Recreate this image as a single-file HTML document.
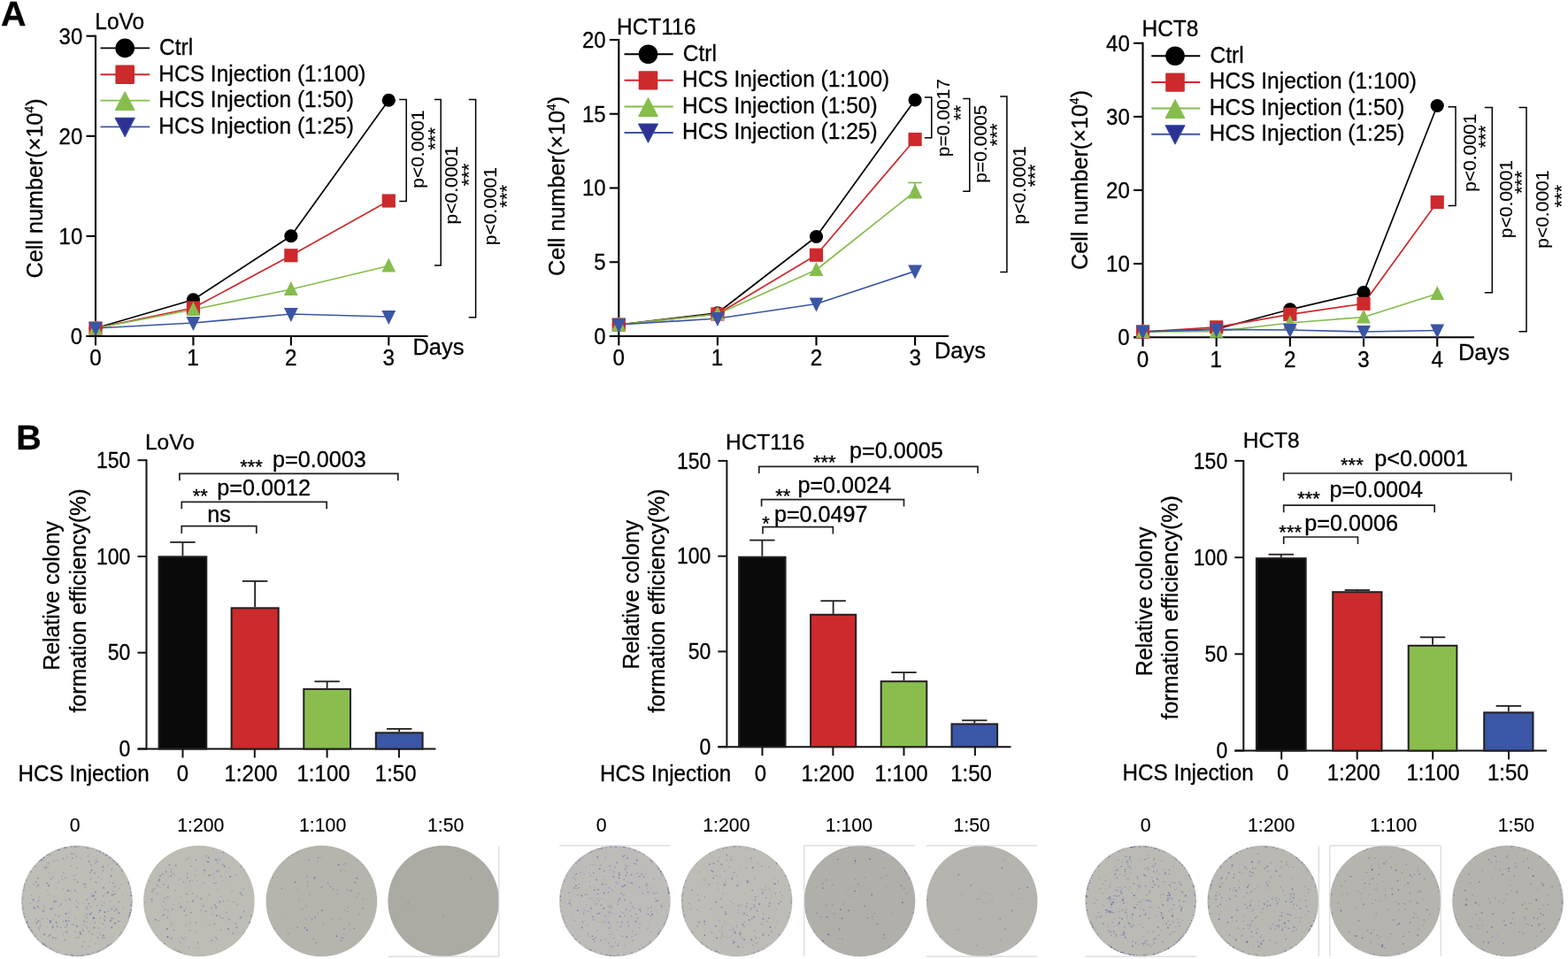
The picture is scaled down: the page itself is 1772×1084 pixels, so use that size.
<!DOCTYPE html>
<html><head><meta charset="utf-8"><title>Figure</title>
<style>html,body{margin:0;padding:0;background:#fff;} svg{display:block;} text{font-family:"Liberation Sans",Arial,sans-serif;stroke:#000;stroke-width:0.3px;}</style>
</head><body>
<svg width="1772" height="1084" viewBox="0 0 1772 1084">
<rect width="1772" height="1084" fill="#fff"/>
<text x="1.02" y="29.25" font-size="39.5" font-weight="bold" fill="#000">A</text>
<text x="18.36" y="508" font-size="39.5" font-weight="bold" fill="#000">B</text>
<line x1="108" y1="39.7" x2="108" y2="381" stroke="#000" stroke-width="2.1"/>
<line x1="97.5" y1="380" x2="483.5" y2="380" stroke="#000" stroke-width="2.1"/>
<line x1="97.5" y1="380" x2="108" y2="380" stroke="#000" stroke-width="2.1"/>
<text transform="translate(79.87,388.9) scale(0.94,1)" font-size="25.5" fill="#000">0</text>
<line x1="97.5" y1="266.9" x2="108" y2="266.9" stroke="#000" stroke-width="2.1"/>
<text transform="translate(66.61,275.8) scale(0.94,1)" font-size="25.5" fill="#000">10</text>
<line x1="97.5" y1="153.8" x2="108" y2="153.8" stroke="#000" stroke-width="2.1"/>
<text transform="translate(66.61,162.7) scale(0.94,1)" font-size="25.5" fill="#000">20</text>
<line x1="97.5" y1="40.7" x2="108" y2="40.7" stroke="#000" stroke-width="2.1"/>
<text transform="translate(66.61,49.6) scale(0.94,1)" font-size="25.5" fill="#000">30</text>
<line x1="108" y1="380" x2="108" y2="390.5" stroke="#000" stroke-width="2.1"/>
<text transform="translate(101.26,413.3) scale(0.95,1)" font-size="25.5" fill="#000">0</text>
<line x1="218.43" y1="380" x2="218.43" y2="390.5" stroke="#000" stroke-width="2.1"/>
<text transform="translate(211.36,413.3) scale(0.95,1)" font-size="25.5" fill="#000">1</text>
<line x1="328.86" y1="380" x2="328.86" y2="390.5" stroke="#000" stroke-width="2.1"/>
<text transform="translate(322.12,413.3) scale(0.95,1)" font-size="25.5" fill="#000">2</text>
<line x1="439.29" y1="380" x2="439.29" y2="390.5" stroke="#000" stroke-width="2.1"/>
<text transform="translate(432.62,413.3) scale(0.95,1)" font-size="25.5" fill="#000">3</text>
<text x="466.41" y="401.2" font-size="25.5" fill="#000">Days</text>
<text transform="translate(107.29,32.8) scale(0.96,1)" font-size="25.5" fill="#000">LoVo</text>
<text transform="translate(48.2,314.49) rotate(-90)" font-size="25.2">Cell number(×10<tspan font-size="13.86" dy="-10.58">4</tspan><tspan dy="10.58">)</tspan></text>
<line x1="113.5" y1="54.4" x2="169.2" y2="54.4" stroke="#000" stroke-width="1.9"/>
<circle cx="141.2" cy="54.4" r="10.8" fill="#000"/>
<text transform="translate(180.06,61.7) scale(0.98,1)" font-size="25" fill="#000">Ctrl</text>
<line x1="113.5" y1="84.2" x2="169.2" y2="84.2" stroke="#cc2a2c" stroke-width="1.9"/>
<rect x="130.4" y="73.6" width="21.6" height="21.4" rx="1.2" fill="#cc2a2c"/>
<text transform="translate(179.29,91.5) scale(0.98,1)" font-size="25" fill="#000">HCS Injection (1:100)</text>
<line x1="113.5" y1="113.6" x2="169.2" y2="113.6" stroke="#86bd4c" stroke-width="1.9"/>
<polygon points="141.2,103.6 152.1,124.6 130.3,124.6" fill="#86bd4c" stroke="#86bd4c" stroke-width="1" stroke-linejoin="round"/>
<text transform="translate(179.29,120.9) scale(0.98,1)" font-size="25" fill="#000">HCS Injection (1:50)</text>
<line x1="113.5" y1="143.4" x2="169.2" y2="143.4" stroke="#3a55a5" stroke-width="1.9"/>
<polygon points="141.2,154.4 152.1,133.4 130.3,133.4" fill="#2e3192" stroke="#2f4aa5" stroke-width="1.2" stroke-linejoin="round"/>
<text transform="translate(179.29,150.7) scale(0.98,1)" font-size="25" fill="#000">HCS Injection (1:25)</text>
<polyline points="108,371 218.43,338.8 328.86,266.75 439.29,113.25" fill="none" stroke="#000" stroke-width="1.7" stroke-linejoin="round"/>
<polyline points="108,371 218.43,348 328.86,288.75 439.29,227" fill="none" stroke="#cc2a2c" stroke-width="1.7" stroke-linejoin="round"/>
<polyline points="108,371 218.43,350 328.86,327 439.29,300.5" fill="none" stroke="#86bd4c" stroke-width="1.7" stroke-linejoin="round"/>
<polyline points="108,371 218.43,365 328.86,355 439.29,358" fill="none" stroke="#3a55a5" stroke-width="1.7" stroke-linejoin="round"/>
<circle cx="108" cy="371" r="7.6" fill="#000"/>
<circle cx="218.43" cy="338.8" r="7.6" fill="#000"/>
<circle cx="328.86" cy="266.75" r="7.6" fill="#000"/>
<circle cx="439.29" cy="113.25" r="7.6" fill="#000"/>
<rect x="100.4" y="363.4" width="15.2" height="15.2" fill="#cc2a2c"/>
<rect x="210.83" y="340.4" width="15.2" height="15.2" fill="#cc2a2c"/>
<rect x="321.26" y="281.15" width="15.2" height="15.2" fill="#cc2a2c"/>
<rect x="431.69" y="219.4" width="15.2" height="15.2" fill="#cc2a2c"/>
<polygon points="108,362 115.9,378 100.1,378" fill="#86bd4c"/>
<polygon points="218.43,341 226.33,357 210.53,357" fill="#86bd4c"/>
<polygon points="328.86,318 336.76,334 320.96,334" fill="#86bd4c"/>
<polygon points="439.29,291.5 447.19,307.5 431.39,307.5" fill="#86bd4c"/>
<polygon points="108,380 115.9,364 100.1,364" fill="#3a55a5"/>
<polygon points="218.43,374 226.33,358 210.53,358" fill="#3a55a5"/>
<polygon points="328.86,364 336.76,348 320.96,348" fill="#3a55a5"/>
<polygon points="439.29,367 447.19,351 431.39,351" fill="#3a55a5"/>
<polyline points="451.2,112.4 459.2,112.4 459.2,227.4 451.2,227.4" fill="none" stroke="#000" stroke-width="1.5"/>
<text transform="translate(478.7,212.75) rotate(-90)" font-size="21" style="stroke-width:0.1px">p&lt;0.0001</text>
<text transform="translate(498.78,169.55) rotate(-90)" font-size="22" style="stroke-width:0.1px">***</text>
<polyline points="491,112.4 498.2,112.4 498.2,299.9 491,299.9" fill="none" stroke="#000" stroke-width="1.5"/>
<text transform="translate(517,253.45) rotate(-90)" font-size="21" style="stroke-width:0.1px">p&lt;0.0001</text>
<text transform="translate(536.68,210.35) rotate(-90)" font-size="22" style="stroke-width:0.1px">***</text>
<polyline points="529.75,112.4 537.6,112.4 537.6,358.75 529.75,358.75" fill="none" stroke="#000" stroke-width="1.5"/>
<text transform="translate(560.9,277.25) rotate(-90)" font-size="21" style="stroke-width:0.1px">p&lt;0.0001</text>
<text transform="translate(579.98,234.65) rotate(-90)" font-size="22" style="stroke-width:0.1px">***</text>
<line x1="699.3" y1="44" x2="699.3" y2="381" stroke="#000" stroke-width="2.1"/>
<line x1="688.8" y1="380" x2="1072" y2="380" stroke="#000" stroke-width="2.1"/>
<line x1="688.8" y1="380" x2="699.3" y2="380" stroke="#000" stroke-width="2.1"/>
<text transform="translate(671.17,388.9) scale(0.94,1)" font-size="25.5" fill="#000">0</text>
<line x1="688.8" y1="296.25" x2="699.3" y2="296.25" stroke="#000" stroke-width="2.1"/>
<text transform="translate(671.24,305.15) scale(0.94,1)" font-size="25.5" fill="#000">5</text>
<line x1="688.8" y1="212.5" x2="699.3" y2="212.5" stroke="#000" stroke-width="2.1"/>
<text transform="translate(657.91,221.4) scale(0.94,1)" font-size="25.5" fill="#000">10</text>
<line x1="688.8" y1="128.75" x2="699.3" y2="128.75" stroke="#000" stroke-width="2.1"/>
<text transform="translate(657.98,137.65) scale(0.94,1)" font-size="25.5" fill="#000">15</text>
<line x1="688.8" y1="45" x2="699.3" y2="45" stroke="#000" stroke-width="2.1"/>
<text transform="translate(657.91,53.9) scale(0.94,1)" font-size="25.5" fill="#000">20</text>
<line x1="699.3" y1="380" x2="699.3" y2="390.5" stroke="#000" stroke-width="2.1"/>
<text transform="translate(692.56,413.3) scale(0.95,1)" font-size="25.5" fill="#000">0</text>
<line x1="810.9" y1="380" x2="810.9" y2="390.5" stroke="#000" stroke-width="2.1"/>
<text transform="translate(803.83,413.3) scale(0.95,1)" font-size="25.5" fill="#000">1</text>
<line x1="922.5" y1="380" x2="922.5" y2="390.5" stroke="#000" stroke-width="2.1"/>
<text transform="translate(915.76,413.3) scale(0.95,1)" font-size="25.5" fill="#000">2</text>
<line x1="1034.1" y1="380" x2="1034.1" y2="390.5" stroke="#000" stroke-width="2.1"/>
<text transform="translate(1027.43,413.3) scale(0.95,1)" font-size="25.5" fill="#000">3</text>
<text x="1055.91" y="405" font-size="25.5" fill="#000">Days</text>
<text transform="translate(696.99,38.7) scale(0.96,1)" font-size="25.5" fill="#000">HCT116</text>
<text transform="translate(638.3,311.99) rotate(-90)" font-size="25.2">Cell number(×10<tspan font-size="13.86" dy="-10.58">4</tspan><tspan dy="10.58">)</tspan></text>
<line x1="705.5" y1="61.25" x2="760.75" y2="61.25" stroke="#000" stroke-width="1.9"/>
<circle cx="732.5" cy="61.25" r="10.8" fill="#000"/>
<text transform="translate(771.76,68.55) scale(0.98,1)" font-size="25" fill="#000">Ctrl</text>
<line x1="705.5" y1="90.75" x2="760.75" y2="90.75" stroke="#cc2a2c" stroke-width="1.9"/>
<rect x="721.7" y="80.15" width="21.6" height="21.4" rx="1.2" fill="#cc2a2c"/>
<text transform="translate(770.99,98.05) scale(0.98,1)" font-size="25" fill="#000">HCS Injection (1:100)</text>
<line x1="705.5" y1="120.5" x2="760.75" y2="120.5" stroke="#86bd4c" stroke-width="1.9"/>
<polygon points="732.5,110.5 743.4,131.5 721.6,131.5" fill="#86bd4c" stroke="#86bd4c" stroke-width="1" stroke-linejoin="round"/>
<text transform="translate(770.99,127.8) scale(0.98,1)" font-size="25" fill="#000">HCS Injection (1:50)</text>
<line x1="705.5" y1="150" x2="760.75" y2="150" stroke="#3a55a5" stroke-width="1.9"/>
<polygon points="732.5,161 743.4,140 721.6,140" fill="#2e3192" stroke="#2f4aa5" stroke-width="1.2" stroke-linejoin="round"/>
<text transform="translate(770.99,157.3) scale(0.98,1)" font-size="25" fill="#000">HCS Injection (1:25)</text>
<polyline points="699.3,367 810.9,353.75 922.5,267.5 1034.1,113" fill="none" stroke="#000" stroke-width="1.7" stroke-linejoin="round"/>
<polyline points="699.3,367 810.9,355 922.5,288.25 1034.1,157.5" fill="none" stroke="#cc2a2c" stroke-width="1.7" stroke-linejoin="round"/>
<polyline points="699.3,367 810.9,355 922.5,305 1034.1,216.5" fill="none" stroke="#86bd4c" stroke-width="1.7" stroke-linejoin="round"/>
<polyline points="699.3,367 810.9,360 922.5,343.5 1034.1,306.5" fill="none" stroke="#3a55a5" stroke-width="1.7" stroke-linejoin="round"/>
<circle cx="699.3" cy="367" r="7.6" fill="#000"/>
<circle cx="810.9" cy="353.75" r="7.6" fill="#000"/>
<circle cx="922.5" cy="267.5" r="7.6" fill="#000"/>
<circle cx="1034.1" cy="113" r="7.6" fill="#000"/>
<rect x="691.7" y="359.4" width="15.2" height="15.2" fill="#cc2a2c"/>
<rect x="803.3" y="347.4" width="15.2" height="15.2" fill="#cc2a2c"/>
<rect x="914.9" y="280.65" width="15.2" height="15.2" fill="#cc2a2c"/>
<rect x="1026.5" y="149.9" width="15.2" height="15.2" fill="#cc2a2c"/>
<polygon points="699.3,358 707.2,374 691.4,374" fill="#86bd4c"/>
<polygon points="810.9,346 818.8,362 803,362" fill="#86bd4c"/>
<polygon points="922.5,296 930.4,312 914.6,312" fill="#86bd4c"/>
<polygon points="1034.1,207.5 1042,223.5 1026.2,223.5" fill="#86bd4c"/>
<polygon points="699.3,376 707.2,360 691.4,360" fill="#3a55a5"/>
<polygon points="810.9,369 818.8,353 803,353" fill="#3a55a5"/>
<polygon points="922.5,352.5 930.4,336.5 914.6,336.5" fill="#3a55a5"/>
<polygon points="1034.1,315.5 1042,299.5 1026.2,299.5" fill="#3a55a5"/>
<line x1="1034" y1="216.5" x2="1034" y2="206.5" stroke="#86bd4c" stroke-width="1.7"/>
<line x1="1026.2" y1="206.5" x2="1041.8" y2="206.5" stroke="#86bd4c" stroke-width="1.7"/>
<line x1="1034" y1="216.5" x2="1034" y2="223.6" stroke="#86bd4c" stroke-width="1.7"/>
<line x1="1026.2" y1="223.6" x2="1041.8" y2="223.6" stroke="#86bd4c" stroke-width="1.7"/>
<polyline points="1044.9,109.9 1052.8,109.9 1052.8,155.7 1044.9,155.7" fill="none" stroke="#000" stroke-width="1.5"/>
<text transform="translate(1073.2,177.24) rotate(-90)" font-size="21" style="stroke-width:0.1px">p=0.0017</text>
<text transform="translate(1092.88,136.07) rotate(-90)" font-size="22" style="stroke-width:0.1px">**</text>
<polyline points="1088.2,111.4 1095.8,111.4 1095.8,216.2 1088.2,216.2" fill="none" stroke="#000" stroke-width="1.5"/>
<text transform="translate(1115.2,206.72) rotate(-90)" font-size="21" style="stroke-width:0.1px">p=0.0005</text>
<text transform="translate(1133.78,165.15) rotate(-90)" font-size="22" style="stroke-width:0.1px">***</text>
<polyline points="1130.2,109.1 1137.9,109.1 1137.9,307.5 1130.2,307.5" fill="none" stroke="#000" stroke-width="1.5"/>
<text transform="translate(1158.6,253.45) rotate(-90)" font-size="21" style="stroke-width:0.1px">p&lt;0.0001</text>
<text transform="translate(1177.18,211.35) rotate(-90)" font-size="22" style="stroke-width:0.1px">***</text>
<line x1="1291.5" y1="47.8" x2="1291.5" y2="382.2" stroke="#000" stroke-width="2.1"/>
<line x1="1281" y1="381.2" x2="1666" y2="381.2" stroke="#000" stroke-width="2.1"/>
<line x1="1281" y1="381.2" x2="1291.5" y2="381.2" stroke="#000" stroke-width="2.1"/>
<text transform="translate(1263.37,390.1) scale(0.94,1)" font-size="25.5" fill="#000">0</text>
<line x1="1281" y1="298.1" x2="1291.5" y2="298.1" stroke="#000" stroke-width="2.1"/>
<text transform="translate(1250.11,307) scale(0.94,1)" font-size="25.5" fill="#000">10</text>
<line x1="1281" y1="215" x2="1291.5" y2="215" stroke="#000" stroke-width="2.1"/>
<text transform="translate(1250.11,223.9) scale(0.94,1)" font-size="25.5" fill="#000">20</text>
<line x1="1281" y1="131.9" x2="1291.5" y2="131.9" stroke="#000" stroke-width="2.1"/>
<text transform="translate(1250.11,140.8) scale(0.94,1)" font-size="25.5" fill="#000">30</text>
<line x1="1281" y1="48.8" x2="1291.5" y2="48.8" stroke="#000" stroke-width="2.1"/>
<text transform="translate(1250.11,57.7) scale(0.94,1)" font-size="25.5" fill="#000">40</text>
<line x1="1291.5" y1="381.2" x2="1291.5" y2="391.7" stroke="#000" stroke-width="2.1"/>
<text transform="translate(1284.76,414.5) scale(0.95,1)" font-size="25.5" fill="#000">0</text>
<line x1="1374.68" y1="381.2" x2="1374.68" y2="391.7" stroke="#000" stroke-width="2.1"/>
<text transform="translate(1367.61,414.5) scale(0.95,1)" font-size="25.5" fill="#000">1</text>
<line x1="1457.86" y1="381.2" x2="1457.86" y2="391.7" stroke="#000" stroke-width="2.1"/>
<text transform="translate(1451.12,414.5) scale(0.95,1)" font-size="25.5" fill="#000">2</text>
<line x1="1541.04" y1="381.2" x2="1541.04" y2="391.7" stroke="#000" stroke-width="2.1"/>
<text transform="translate(1534.37,414.5) scale(0.95,1)" font-size="25.5" fill="#000">3</text>
<line x1="1624.22" y1="381.2" x2="1624.22" y2="391.7" stroke="#000" stroke-width="2.1"/>
<text transform="translate(1617.56,414.5) scale(0.95,1)" font-size="25.5" fill="#000">4</text>
<text x="1647.91" y="406.75" font-size="25.5" fill="#000">Days</text>
<text transform="translate(1290.49,41.25) scale(0.96,1)" font-size="25.5" fill="#000">HCT8</text>
<text transform="translate(1229.3,304.99) rotate(-90)" font-size="25.2">Cell number(×10<tspan font-size="13.86" dy="-10.58">4</tspan><tspan dy="10.58">)</tspan></text>
<line x1="1301.25" y1="63.25" x2="1356.25" y2="63.25" stroke="#000" stroke-width="1.9"/>
<circle cx="1328" cy="63.25" r="10.8" fill="#000"/>
<text transform="translate(1367.51,70.55) scale(0.98,1)" font-size="25" fill="#000">Ctrl</text>
<line x1="1301.25" y1="93" x2="1356.25" y2="93" stroke="#cc2a2c" stroke-width="1.9"/>
<rect x="1317.2" y="82.4" width="21.6" height="21.4" rx="1.2" fill="#cc2a2c"/>
<text transform="translate(1366.74,100.3) scale(0.98,1)" font-size="25" fill="#000">HCS Injection (1:100)</text>
<line x1="1301.25" y1="122.5" x2="1356.25" y2="122.5" stroke="#86bd4c" stroke-width="1.9"/>
<polygon points="1328,112.5 1338.9,133.5 1317.1,133.5" fill="#86bd4c" stroke="#86bd4c" stroke-width="1" stroke-linejoin="round"/>
<text transform="translate(1366.74,129.8) scale(0.98,1)" font-size="25" fill="#000">HCS Injection (1:50)</text>
<line x1="1301.25" y1="151.75" x2="1356.25" y2="151.75" stroke="#3a55a5" stroke-width="1.9"/>
<polygon points="1328,162.75 1338.9,141.75 1317.1,141.75" fill="#2e3192" stroke="#2f4aa5" stroke-width="1.2" stroke-linejoin="round"/>
<text transform="translate(1366.74,159.05) scale(0.98,1)" font-size="25" fill="#000">HCS Injection (1:25)</text>
<polyline points="1291.5,375 1374.68,372 1457.86,349.8 1541.04,330.5 1624.22,119.5" fill="none" stroke="#000" stroke-width="1.7" stroke-linejoin="round"/>
<polyline points="1291.5,375 1374.68,369.8 1457.86,355.3 1541.04,343.3 1624.22,228.5" fill="none" stroke="#cc2a2c" stroke-width="1.7" stroke-linejoin="round"/>
<polyline points="1291.5,375 1374.68,374.7 1457.86,365 1541.04,358.5 1624.22,332" fill="none" stroke="#86bd4c" stroke-width="1.7" stroke-linejoin="round"/>
<polyline points="1291.5,374.8 1374.68,372.4 1457.86,373 1541.04,375 1624.22,373.5" fill="none" stroke="#3a55a5" stroke-width="1.7" stroke-linejoin="round"/>
<circle cx="1291.5" cy="375" r="7.6" fill="#000"/>
<circle cx="1374.68" cy="372" r="7.6" fill="#000"/>
<circle cx="1457.86" cy="349.8" r="7.6" fill="#000"/>
<circle cx="1541.04" cy="330.5" r="7.6" fill="#000"/>
<circle cx="1624.22" cy="119.5" r="7.6" fill="#000"/>
<rect x="1283.9" y="367.4" width="15.2" height="15.2" fill="#cc2a2c"/>
<rect x="1367.08" y="362.2" width="15.2" height="15.2" fill="#cc2a2c"/>
<rect x="1450.26" y="347.7" width="15.2" height="15.2" fill="#cc2a2c"/>
<rect x="1533.44" y="335.7" width="15.2" height="15.2" fill="#cc2a2c"/>
<rect x="1616.62" y="220.9" width="15.2" height="15.2" fill="#cc2a2c"/>
<polygon points="1291.5,366 1299.4,382 1283.6,382" fill="#86bd4c"/>
<polygon points="1374.68,365.7 1382.58,381.7 1366.78,381.7" fill="#86bd4c"/>
<polygon points="1457.86,356 1465.76,372 1449.96,372" fill="#86bd4c"/>
<polygon points="1541.04,349.5 1548.94,365.5 1533.14,365.5" fill="#86bd4c"/>
<polygon points="1624.22,323 1632.12,339 1616.32,339" fill="#86bd4c"/>
<polygon points="1291.5,383.8 1299.4,367.8 1283.6,367.8" fill="#3a55a5"/>
<polygon points="1374.68,381.4 1382.58,365.4 1366.78,365.4" fill="#3a55a5"/>
<polygon points="1457.86,382 1465.76,366 1449.96,366" fill="#3a55a5"/>
<polygon points="1541.04,384 1548.94,368 1533.14,368" fill="#3a55a5"/>
<polygon points="1624.22,382.5 1632.12,366.5 1616.32,366.5" fill="#3a55a5"/>
<polyline points="1636.5,120.8 1645,120.8 1645,232.6 1636.5,232.6" fill="none" stroke="#000" stroke-width="1.5"/>
<text transform="translate(1668.2,216.85) rotate(-90)" font-size="21" style="stroke-width:0.1px">p&lt;0.0001</text>
<text transform="translate(1685.98,167.35) rotate(-90)" font-size="22" style="stroke-width:0.1px">***</text>
<polyline points="1677.8,121.6 1686.3,121.6 1686.3,330.8 1677.8,330.8" fill="none" stroke="#000" stroke-width="1.5"/>
<text transform="translate(1708.8,269.15) rotate(-90)" font-size="21" style="stroke-width:0.1px">p&lt;0.0001</text>
<text transform="translate(1726.58,218.95) rotate(-90)" font-size="22" style="stroke-width:0.1px">***</text>
<polyline points="1716.5,121.6 1725,121.6 1725,374.7 1716.5,374.7" fill="none" stroke="#000" stroke-width="1.5"/>
<text transform="translate(1750,280.75) rotate(-90)" font-size="21" style="stroke-width:0.1px">p&lt;0.0001</text>
<text transform="translate(1772.28,234.55) rotate(-90)" font-size="22" style="stroke-width:0.1px">***</text>
<line x1="165.5" y1="519.2" x2="165.5" y2="847.5" stroke="#111" stroke-width="2"/>
<line x1="155.5" y1="846.5" x2="492.4" y2="846.5" stroke="#111" stroke-width="2"/>
<line x1="155.5" y1="846.5" x2="165.5" y2="846.5" stroke="#111" stroke-width="2"/>
<text transform="translate(134.61,855.1) scale(0.92,1)" font-size="25" fill="#000">0</text>
<line x1="155.5" y1="737.73" x2="165.5" y2="737.73" stroke="#111" stroke-width="2"/>
<text transform="translate(121.82,746.33) scale(0.92,1)" font-size="25" fill="#000">50</text>
<line x1="155.5" y1="628.97" x2="165.5" y2="628.97" stroke="#111" stroke-width="2"/>
<text transform="translate(109.02,637.57) scale(0.92,1)" font-size="25" fill="#000">100</text>
<line x1="155.5" y1="520.2" x2="165.5" y2="520.2" stroke="#111" stroke-width="2"/>
<text transform="translate(109.02,528.8) scale(0.92,1)" font-size="25" fill="#000">150</text>
<line x1="206.45" y1="628.3" x2="206.45" y2="612.9" stroke="#231f20" stroke-width="1.8"/>
<line x1="192.25" y1="612.9" x2="220.65" y2="612.9" stroke="#231f20" stroke-width="1.8"/>
<rect x="179.6" y="629.3" width="53.7" height="217.2" fill="#0a0a0a" stroke="#231f20" stroke-width="2"/>
<line x1="206.5" y1="846.5" x2="206.5" y2="856.5" stroke="#111" stroke-width="2"/>
<text transform="translate(199.83,883.4) scale(0.96,1)" font-size="25" fill="#000">0</text>
<line x1="288.15" y1="686.3" x2="288.15" y2="656.9" stroke="#231f20" stroke-width="1.8"/>
<line x1="273.95" y1="656.9" x2="302.35" y2="656.9" stroke="#231f20" stroke-width="1.8"/>
<rect x="261.6" y="687.3" width="53.1" height="159.2" fill="#cc2a2c" stroke="#231f20" stroke-width="2"/>
<line x1="287.8" y1="846.5" x2="287.8" y2="856.5" stroke="#111" stroke-width="2"/>
<text transform="translate(253.53,883.4) scale(0.96,1)" font-size="25" fill="#000">1:200</text>
<line x1="369.65" y1="777.9" x2="369.65" y2="770.3" stroke="#231f20" stroke-width="1.8"/>
<line x1="355.45" y1="770.3" x2="383.85" y2="770.3" stroke="#231f20" stroke-width="1.8"/>
<rect x="343.3" y="778.9" width="52.7" height="67.6" fill="#8abd4e" stroke="#231f20" stroke-width="2"/>
<line x1="369.6" y1="846.5" x2="369.6" y2="856.5" stroke="#111" stroke-width="2"/>
<text transform="translate(335.53,883.4) scale(0.96,1)" font-size="25" fill="#000">1:100</text>
<line x1="451.2" y1="827.3" x2="451.2" y2="823.9" stroke="#231f20" stroke-width="1.8"/>
<line x1="437" y1="823.9" x2="465.4" y2="823.9" stroke="#231f20" stroke-width="1.8"/>
<rect x="424.8" y="828.3" width="52.8" height="18.2" fill="#3b56a6" stroke="#231f20" stroke-width="2"/>
<line x1="450.9" y1="846.5" x2="450.9" y2="856.5" stroke="#111" stroke-width="2"/>
<text transform="translate(423.8,883.4) scale(0.96,1)" font-size="25" fill="#000">1:50</text>
<text transform="translate(20.6,883.4) scale(0.97,1)" font-size="25" fill="#000">HCS Injection</text>
<text x="163.99" y="507.5" font-size="24.5" fill="#000">LoVo</text>
<text transform="translate(67,757.82) rotate(-90)" font-size="24.9" >Relative colony</text>
<text transform="translate(96.5,805.57) rotate(-90)" font-size="24.95" >formation efficiency(%)</text>
<polyline points="202.9,543.3 202.9,535.4 449.8,535.4 449.8,543.3" fill="none" stroke="#231f20" stroke-width="1.7"/>
<text x="271.15" y="535.41" font-size="22" fill="#000">***</text>
<text x="307.98" y="527.5" font-size="25.2" fill="#000">p=0.0003</text>
<polyline points="205.3,575.3 205.3,567.4 369.2,567.4 369.2,575.3" fill="none" stroke="#231f20" stroke-width="1.7"/>
<text x="217.65" y="568.41" font-size="22" fill="#000">**</text>
<text x="245.18" y="560" font-size="25.2" fill="#000">p=0.0012</text>
<polyline points="205.3,603 205.3,594.7 289.8,594.7 289.8,603" fill="none" stroke="#231f20" stroke-width="1.7"/>
<text x="-10742187.5" y="0" font-size="22" fill="#000"></text>
<text x="234.33" y="590.3" font-size="25.2" fill="#000">ns</text>
<line x1="821.4" y1="519.9" x2="821.4" y2="845.2" stroke="#111" stroke-width="2"/>
<line x1="811.4" y1="844.2" x2="1142.5" y2="844.2" stroke="#111" stroke-width="2"/>
<line x1="811.4" y1="844.2" x2="821.4" y2="844.2" stroke="#111" stroke-width="2"/>
<text transform="translate(790.51,852.8) scale(0.92,1)" font-size="25" fill="#000">0</text>
<line x1="811.4" y1="736.43" x2="821.4" y2="736.43" stroke="#111" stroke-width="2"/>
<text transform="translate(777.72,745.03) scale(0.92,1)" font-size="25" fill="#000">50</text>
<line x1="811.4" y1="628.67" x2="821.4" y2="628.67" stroke="#111" stroke-width="2"/>
<text transform="translate(764.92,637.27) scale(0.92,1)" font-size="25" fill="#000">100</text>
<line x1="811.4" y1="520.9" x2="821.4" y2="520.9" stroke="#111" stroke-width="2"/>
<text transform="translate(764.92,529.5) scale(0.92,1)" font-size="25" fill="#000">150</text>
<line x1="861.35" y1="628.7" x2="861.35" y2="610.6" stroke="#231f20" stroke-width="1.8"/>
<line x1="847.15" y1="610.6" x2="875.55" y2="610.6" stroke="#231f20" stroke-width="1.8"/>
<rect x="835.1" y="629.7" width="52.5" height="214.5" fill="#0a0a0a" stroke="#231f20" stroke-width="2"/>
<line x1="861.5" y1="844.2" x2="861.5" y2="854.2" stroke="#111" stroke-width="2"/>
<text transform="translate(852.83,883.2) scale(0.96,1)" font-size="25" fill="#000">0</text>
<line x1="941.65" y1="693.8" x2="941.65" y2="679.2" stroke="#231f20" stroke-width="1.8"/>
<line x1="927.45" y1="679.2" x2="955.85" y2="679.2" stroke="#231f20" stroke-width="1.8"/>
<rect x="916.1" y="694.8" width="51.1" height="149.4" fill="#cc2a2c" stroke="#231f20" stroke-width="2"/>
<line x1="941.4" y1="844.2" x2="941.4" y2="854.2" stroke="#111" stroke-width="2"/>
<text transform="translate(905.53,883.2) scale(0.96,1)" font-size="25" fill="#000">1:200</text>
<line x1="1021.5" y1="769.2" x2="1021.5" y2="760.1" stroke="#231f20" stroke-width="1.8"/>
<line x1="1007.3" y1="760.1" x2="1035.7" y2="760.1" stroke="#231f20" stroke-width="1.8"/>
<rect x="995.7" y="770.2" width="51.6" height="74" fill="#8abd4e" stroke="#231f20" stroke-width="2"/>
<line x1="1021.5" y1="844.2" x2="1021.5" y2="854.2" stroke="#111" stroke-width="2"/>
<text transform="translate(988.53,883.2) scale(0.96,1)" font-size="25" fill="#000">1:100</text>
<line x1="1101.3" y1="817.4" x2="1101.3" y2="814.3" stroke="#231f20" stroke-width="1.8"/>
<line x1="1087.1" y1="814.3" x2="1115.5" y2="814.3" stroke="#231f20" stroke-width="1.8"/>
<rect x="1075.5" y="818.4" width="51.6" height="25.8" fill="#3b56a6" stroke="#231f20" stroke-width="2"/>
<line x1="1101.9" y1="844.2" x2="1101.9" y2="854.2" stroke="#111" stroke-width="2"/>
<text transform="translate(1074.2,883.2) scale(0.96,1)" font-size="25" fill="#000">1:50</text>
<text transform="translate(678.1,883.2) scale(0.97,1)" font-size="25" fill="#000">HCS Injection</text>
<text x="819.99" y="507.7" font-size="24.5" fill="#000">HCT116</text>
<text transform="translate(722,756.52) rotate(-90)" font-size="24.9" >Relative colony</text>
<text transform="translate(750.5,805.77) rotate(-90)" font-size="24.95" >formation efficiency(%)</text>
<polyline points="857.8,535 857.8,527.4 1105,527.4 1105,535" fill="none" stroke="#231f20" stroke-width="1.7"/>
<text x="918.95" y="530.41" font-size="22" fill="#000">***</text>
<text x="960.08" y="518" font-size="25.2" fill="#000">p=0.0005</text>
<polyline points="860.6,572.5 860.6,564.6 1021.5,564.6 1021.5,572.5" fill="none" stroke="#231f20" stroke-width="1.7"/>
<text x="876.15" y="567.81" font-size="22" fill="#000">**</text>
<text x="901.38" y="556.7" font-size="25.2" fill="#000">p=0.0024</text>
<polyline points="862,603.6 862,595.7 941.4,595.7 941.4,603.6" fill="none" stroke="#231f20" stroke-width="1.7"/>
<text x="861.15" y="598.91" font-size="22" fill="#000">*</text>
<text x="874.88" y="590" font-size="25.2" fill="#000">p=0.0497</text>
<line x1="1405.3" y1="519.9" x2="1405.3" y2="849.5" stroke="#111" stroke-width="2"/>
<line x1="1395.3" y1="848.5" x2="1748.1" y2="848.5" stroke="#111" stroke-width="2"/>
<line x1="1395.3" y1="848.5" x2="1405.3" y2="848.5" stroke="#111" stroke-width="2"/>
<text transform="translate(1374.41,857.1) scale(0.92,1)" font-size="25" fill="#000">0</text>
<line x1="1395.3" y1="739.3" x2="1405.3" y2="739.3" stroke="#111" stroke-width="2"/>
<text transform="translate(1361.62,747.9) scale(0.92,1)" font-size="25" fill="#000">50</text>
<line x1="1395.3" y1="630.1" x2="1405.3" y2="630.1" stroke="#111" stroke-width="2"/>
<text transform="translate(1348.82,638.7) scale(0.92,1)" font-size="25" fill="#000">100</text>
<line x1="1395.3" y1="520.9" x2="1405.3" y2="520.9" stroke="#111" stroke-width="2"/>
<text transform="translate(1348.82,529.5) scale(0.92,1)" font-size="25" fill="#000">150</text>
<line x1="1447.8" y1="630.1" x2="1447.8" y2="626.7" stroke="#231f20" stroke-width="1.8"/>
<line x1="1433.6" y1="626.7" x2="1462" y2="626.7" stroke="#231f20" stroke-width="1.8"/>
<rect x="1419.9" y="631.1" width="55.8" height="217.4" fill="#0a0a0a" stroke="#231f20" stroke-width="2"/>
<line x1="1448.2" y1="848.5" x2="1448.2" y2="858.5" stroke="#111" stroke-width="2"/>
<text transform="translate(1442.93,881.7) scale(0.96,1)" font-size="25" fill="#000">0</text>
<line x1="1533.85" y1="668.2" x2="1533.85" y2="667" stroke="#231f20" stroke-width="1.8"/>
<line x1="1519.65" y1="667" x2="1548.05" y2="667" stroke="#231f20" stroke-width="1.8"/>
<rect x="1506.2" y="669.2" width="55.3" height="179.3" fill="#cc2a2c" stroke="#231f20" stroke-width="2"/>
<line x1="1533.7" y1="848.5" x2="1533.7" y2="858.5" stroke="#111" stroke-width="2"/>
<text transform="translate(1499.73,881.7) scale(0.96,1)" font-size="25" fill="#000">1:200</text>
<line x1="1619.05" y1="728.8" x2="1619.05" y2="720.3" stroke="#231f20" stroke-width="1.8"/>
<line x1="1604.85" y1="720.3" x2="1633.25" y2="720.3" stroke="#231f20" stroke-width="1.8"/>
<rect x="1591.7" y="729.8" width="54.7" height="118.7" fill="#8abd4e" stroke="#231f20" stroke-width="2"/>
<line x1="1619.2" y1="848.5" x2="1619.2" y2="858.5" stroke="#111" stroke-width="2"/>
<text transform="translate(1589.53,881.7) scale(0.96,1)" font-size="25" fill="#000">1:100</text>
<line x1="1704.85" y1="804.4" x2="1704.85" y2="798" stroke="#231f20" stroke-width="1.8"/>
<line x1="1690.65" y1="798" x2="1719.05" y2="798" stroke="#231f20" stroke-width="1.8"/>
<rect x="1677.2" y="805.4" width="55.3" height="43.1" fill="#3b56a6" stroke="#231f20" stroke-width="2"/>
<line x1="1705" y1="848.5" x2="1705" y2="858.5" stroke="#111" stroke-width="2"/>
<text transform="translate(1680.9,881.7) scale(0.96,1)" font-size="25" fill="#000">1:50</text>
<text transform="translate(1268.5,881.7) scale(0.97,1)" font-size="25" fill="#000">HCS Injection</text>
<text x="1404.69" y="506" font-size="24.5" fill="#000">HCT8</text>
<text transform="translate(1302,764.32) rotate(-90)" font-size="24.9" >Relative colony</text>
<text transform="translate(1330.5,813.47) rotate(-90)" font-size="24.95" >formation efficiency(%)</text>
<polyline points="1450.7,543.5 1450.7,535 1707.8,535 1707.8,543.5" fill="none" stroke="#231f20" stroke-width="1.7"/>
<text x="1515.05" y="533.11" font-size="22" fill="#000">***</text>
<text x="1553.28" y="526.6" font-size="25.2" fill="#000">p&lt;0.0001</text>
<polyline points="1450.7,579.3 1450.7,571.1 1621.2,571.1 1621.2,579.3" fill="none" stroke="#231f20" stroke-width="1.7"/>
<text x="1466.15" y="570.61" font-size="22" fill="#000">***</text>
<text x="1502.38" y="561.8" font-size="25.2" fill="#000">p=0.0004</text>
<polyline points="1450.7,614.9 1450.7,607 1534.5,607 1534.5,614.9" fill="none" stroke="#231f20" stroke-width="1.7"/>
<text x="1445.35" y="608.71" font-size="22" fill="#000">***</text>
<text x="1474.28" y="599.9" font-size="25.2" fill="#000">p=0.0006</text>
<circle cx="87" cy="1018.5" r="62.8" fill="#bebdb6"/>
<g fill="#5050b0"><circle cx="77.61" cy="1037.26" r="0.83" fill-opacity="0.24"/><circle cx="55.17" cy="1011.2" r="0.53" fill-opacity="0.45"/><circle cx="121.58" cy="1026.8" r="0.53" fill-opacity="0.25"/><circle cx="43.31" cy="1040.93" r="0.56" fill-opacity="0.31"/><circle cx="50.4" cy="980.76" r="0.79" fill-opacity="0.4"/><circle cx="98.53" cy="1016.77" r="0.93" fill-opacity="0.34"/><circle cx="98.43" cy="1033.09" r="0.65" fill-opacity="0.61"/><circle cx="104.37" cy="1055.85" r="0.82" fill-opacity="0.39"/><circle cx="74.07" cy="1014.5" r="0.53" fill-opacity="0.3"/><circle cx="72.04" cy="986.51" r="0.66" fill-opacity="0.49"/><circle cx="58.7" cy="1027.07" r="0.9" fill-opacity="0.55"/><circle cx="88.52" cy="1059.4" r="0.76" fill-opacity="0.64"/><circle cx="83.27" cy="989.76" r="0.99" fill-opacity="0.26"/><circle cx="46.09" cy="1041.62" r="0.58" fill-opacity="0.44"/><circle cx="129.82" cy="1029.27" r="0.88" fill-opacity="0.49"/><circle cx="108.46" cy="997.17" r="0.85" fill-opacity="0.5"/><circle cx="55.02" cy="1000.95" r="0.92" fill-opacity="0.67"/><circle cx="43.57" cy="1025.63" r="0.53" fill-opacity="0.55"/><circle cx="54.58" cy="975.54" r="0.91" fill-opacity="0.34"/><circle cx="53.73" cy="1047.54" r="0.51" fill-opacity="0.43"/><circle cx="96.1" cy="1034.58" r="0.53" fill-opacity="0.58"/><circle cx="105.48" cy="1038.01" r="0.7" fill-opacity="0.64"/><circle cx="118.66" cy="1036.05" r="0.77" fill-opacity="0.64"/><circle cx="108.17" cy="972.98" r="0.64" fill-opacity="0.41"/><circle cx="54.93" cy="1057.88" r="0.98" fill-opacity="0.28"/><circle cx="98.63" cy="1041.77" r="0.62" fill-opacity="0.44"/><circle cx="63.54" cy="1003.8" r="0.5" fill-opacity="0.41"/><circle cx="59.32" cy="1048.26" r="0.98" fill-opacity="0.55"/><circle cx="44.76" cy="1014.38" r="0.84" fill-opacity="0.23"/><circle cx="125.51" cy="990.35" r="0.94" fill-opacity="0.6"/><circle cx="60.39" cy="1039.85" r="0.55" fill-opacity="0.52"/><circle cx="99.96" cy="1023.84" r="0.6" fill-opacity="0.28"/><circle cx="80.36" cy="1028.95" r="0.5" fill-opacity="0.28"/><circle cx="113.17" cy="1037.88" r="0.51" fill-opacity="0.64"/><circle cx="71.31" cy="1004.83" r="0.63" fill-opacity="0.37"/><circle cx="74.56" cy="1032.76" r="0.92" fill-opacity="0.7"/><circle cx="50.29" cy="1026.47" r="0.54" fill-opacity="0.25"/><circle cx="71.72" cy="1041.71" r="0.91" fill-opacity="0.28"/><circle cx="139.11" cy="1026.12" r="0.76" fill-opacity="0.27"/><circle cx="78.44" cy="1016.12" r="0.76" fill-opacity="0.69"/><circle cx="116.44" cy="984.39" r="0.63" fill-opacity="0.38"/><circle cx="110.63" cy="1059.65" r="0.77" fill-opacity="0.59"/><circle cx="74.76" cy="1040.88" r="0.91" fill-opacity="0.69"/><circle cx="116.15" cy="979.75" r="0.91" fill-opacity="0.57"/><circle cx="92.66" cy="1056.94" r="0.68" fill-opacity="0.21"/><circle cx="115.11" cy="1023.49" r="0.63" fill-opacity="0.55"/><circle cx="121.78" cy="1008.75" r="0.97" fill-opacity="0.69"/><circle cx="118.32" cy="1009.4" r="0.61" fill-opacity="0.31"/><circle cx="95.02" cy="1041.56" r="0.81" fill-opacity="0.65"/><circle cx="107.12" cy="986.98" r="0.83" fill-opacity="0.6"/><circle cx="124.81" cy="1040.79" r="0.95" fill-opacity="0.59"/><circle cx="87.03" cy="981.16" r="0.59" fill-opacity="0.59"/><circle cx="63.05" cy="1060.48" r="0.99" fill-opacity="0.4"/><circle cx="44.22" cy="1049.02" r="0.86" fill-opacity="0.29"/><circle cx="101.66" cy="1033.54" r="0.95" fill-opacity="0.6"/><circle cx="116.81" cy="1057.52" r="0.99" fill-opacity="0.53"/><circle cx="63.4" cy="1050.8" r="0.57" fill-opacity="0.21"/><circle cx="129.81" cy="1010.58" r="0.76" fill-opacity="0.67"/><circle cx="40.87" cy="1038.87" r="0.91" fill-opacity="0.31"/><circle cx="86.66" cy="1047.73" r="0.62" fill-opacity="0.49"/><circle cx="84.94" cy="1053.4" r="0.57" fill-opacity="0.66"/><circle cx="64.82" cy="1047.56" r="0.79" fill-opacity="0.65"/><circle cx="41.56" cy="1043.25" r="0.75" fill-opacity="0.47"/><circle cx="79.69" cy="1017.41" r="0.72" fill-opacity="0.29"/><circle cx="135.27" cy="1019.69" r="0.59" fill-opacity="0.44"/><circle cx="80.75" cy="978.7" r="0.66" fill-opacity="0.46"/><circle cx="42.04" cy="1002.17" r="0.55" fill-opacity="0.48"/><circle cx="87.27" cy="1046.92" r="0.89" fill-opacity="0.45"/><circle cx="43.41" cy="1000.69" r="0.96" fill-opacity="0.42"/><circle cx="57.8" cy="993.56" r="0.76" fill-opacity="0.55"/><circle cx="49.31" cy="1030.13" r="0.74" fill-opacity="0.67"/><circle cx="71.14" cy="970.49" r="0.97" fill-opacity="0.33"/><circle cx="38.17" cy="999.34" r="0.92" fill-opacity="0.27"/><circle cx="112.93" cy="1043.35" r="0.54" fill-opacity="0.32"/><circle cx="126.61" cy="1038.1" r="0.89" fill-opacity="0.65"/><circle cx="112.82" cy="1056.21" r="0.83" fill-opacity="0.27"/><circle cx="126.37" cy="982.83" r="0.61" fill-opacity="0.68"/><circle cx="56.74" cy="1040.99" r="0.99" fill-opacity="0.62"/><circle cx="105.73" cy="1048.63" r="0.76" fill-opacity="0.37"/><circle cx="97.19" cy="1047.23" r="0.86" fill-opacity="0.21"/><circle cx="53.2" cy="1006.56" r="0.51" fill-opacity="0.37"/><circle cx="59.48" cy="991.35" r="0.53" fill-opacity="0.69"/><circle cx="99.71" cy="966.8" r="0.55" fill-opacity="0.33"/><circle cx="133.2" cy="1030.24" r="0.64" fill-opacity="0.26"/><circle cx="41.47" cy="1042.7" r="0.91" fill-opacity="0.33"/><circle cx="117.6" cy="1060.27" r="0.79" fill-opacity="0.55"/><circle cx="97.96" cy="1025.4" r="0.84" fill-opacity="0.41"/><circle cx="133.99" cy="1041.49" r="0.82" fill-opacity="0.6"/><circle cx="130.22" cy="1043.6" r="0.53" fill-opacity="0.63"/><circle cx="56.86" cy="1027.51" r="0.78" fill-opacity="0.66"/><circle cx="84.83" cy="1037.79" r="0.76" fill-opacity="0.32"/><circle cx="103.77" cy="1032.27" r="0.53" fill-opacity="0.3"/><circle cx="75.67" cy="1046.09" r="0.88" fill-opacity="0.34"/><circle cx="64.22" cy="1018.49" r="0.67" fill-opacity="0.21"/><circle cx="86.98" cy="1025.19" r="0.87" fill-opacity="0.48"/><circle cx="100.82" cy="1053.05" r="0.97" fill-opacity="0.25"/><circle cx="101.9" cy="986.27" r="0.75" fill-opacity="0.62"/><circle cx="56.91" cy="1042.43" r="0.84" fill-opacity="0.69"/><circle cx="59.9" cy="1059.65" r="0.85" fill-opacity="0.52"/><circle cx="60.7" cy="1036.45" r="0.53" fill-opacity="0.26"/><circle cx="128.97" cy="1038.48" r="0.63" fill-opacity="0.28"/><circle cx="129.72" cy="1043.58" r="0.94" fill-opacity="0.54"/><circle cx="81.7" cy="1044.55" r="0.65" fill-opacity="0.43"/><circle cx="106.79" cy="1048.64" r="0.63" fill-opacity="0.68"/><circle cx="126.36" cy="1011.66" r="0.62" fill-opacity="0.68"/><circle cx="75.21" cy="1048.52" r="0.5" fill-opacity="0.39"/><circle cx="49.19" cy="1024.58" r="0.6" fill-opacity="0.45"/><circle cx="114.75" cy="1019.36" r="0.54" fill-opacity="0.4"/><circle cx="94.82" cy="1020.6" r="0.65" fill-opacity="0.32"/><circle cx="53.26" cy="998.38" r="0.88" fill-opacity="0.53"/><circle cx="76.26" cy="969.01" r="0.69" fill-opacity="0.36"/><circle cx="107.78" cy="1016.5" r="0.86" fill-opacity="0.52"/><circle cx="134.5" cy="1031.91" r="0.95" fill-opacity="0.51"/><circle cx="82.07" cy="970.08" r="0.57" fill-opacity="0.46"/><circle cx="37.67" cy="1017.14" r="0.9" fill-opacity="0.61"/><circle cx="42.92" cy="992.78" r="0.84" fill-opacity="0.55"/><circle cx="88.2" cy="1027.96" r="0.57" fill-opacity="0.38"/><circle cx="126.03" cy="1048.74" r="0.78" fill-opacity="0.51"/><circle cx="55.74" cy="986.75" r="0.74" fill-opacity="0.2"/><circle cx="100.79" cy="973.86" r="0.75" fill-opacity="0.47"/><circle cx="79.51" cy="1006.81" r="0.87" fill-opacity="0.33"/><circle cx="111.84" cy="1031.05" r="0.86" fill-opacity="0.3"/><circle cx="83.59" cy="965.26" r="0.75" fill-opacity="0.39"/><circle cx="42.73" cy="1024.37" r="0.88" fill-opacity="0.51"/><circle cx="77.62" cy="1006.75" r="0.57" fill-opacity="0.33"/><circle cx="85.73" cy="988.73" r="0.78" fill-opacity="0.21"/><circle cx="112.99" cy="1028.92" r="0.84" fill-opacity="0.55"/><circle cx="73.89" cy="992.49" r="0.76" fill-opacity="0.43"/><circle cx="68.82" cy="1022.4" r="0.95" fill-opacity="0.3"/><circle cx="138.77" cy="1011.34" r="0.51" fill-opacity="0.43"/><circle cx="109.59" cy="970.4" r="0.72" fill-opacity="0.33"/><circle cx="100.11" cy="1069.35" r="0.61" fill-opacity="0.49"/><circle cx="111.59" cy="1048.9" r="0.98" fill-opacity="0.27"/><circle cx="103.45" cy="983.67" r="0.94" fill-opacity="0.55"/><circle cx="92.97" cy="1069.32" r="0.74" fill-opacity="0.21"/><circle cx="124.86" cy="1019.35" r="0.73" fill-opacity="0.35"/><circle cx="107.08" cy="1043" r="0.66" fill-opacity="0.62"/><circle cx="133.79" cy="1019.01" r="0.92" fill-opacity="0.26"/><circle cx="127.81" cy="998.15" r="0.95" fill-opacity="0.34"/><circle cx="63.48" cy="1042.85" r="1" fill-opacity="0.49"/><circle cx="64.36" cy="1045.63" r="0.64" fill-opacity="0.22"/><circle cx="126.6" cy="1047.93" r="0.64" fill-opacity="0.67"/><circle cx="87.12" cy="1046.34" r="0.76" fill-opacity="0.29"/><circle cx="50.05" cy="1056.23" r="0.94" fill-opacity="0.61"/><circle cx="51.88" cy="980.67" r="0.97" fill-opacity="0.47"/><circle cx="84.72" cy="1006.71" r="0.87" fill-opacity="0.43"/><circle cx="87.73" cy="975.15" r="0.64" fill-opacity="0.22"/><circle cx="104.27" cy="1009.94" r="0.74" fill-opacity="0.37"/><circle cx="73.27" cy="1062.85" r="0.99" fill-opacity="0.33"/><circle cx="70.5" cy="993.9" r="0.78" fill-opacity="0.4"/><circle cx="97.78" cy="1037.35" r="0.6" fill-opacity="0.65"/><circle cx="61.67" cy="1018.97" r="0.95" fill-opacity="0.7"/><circle cx="67.81" cy="1024.74" r="0.6" fill-opacity="0.25"/><circle cx="78.1" cy="1032.15" r="0.62" fill-opacity="0.33"/><circle cx="40.92" cy="996.95" r="0.87" fill-opacity="0.41"/><circle cx="53.48" cy="1038.64" r="0.69" fill-opacity="0.37"/><circle cx="113.32" cy="1029.32" r="0.98" fill-opacity="0.26"/><circle cx="44.15" cy="1017.59" r="0.93" fill-opacity="0.31"/><circle cx="83.45" cy="1045.19" r="0.7" fill-opacity="0.42"/><circle cx="134.69" cy="1004.3" r="0.94" fill-opacity="0.21"/><circle cx="131.56" cy="1027.65" r="0.95" fill-opacity="0.44"/><circle cx="86.38" cy="1018.12" r="0.7" fill-opacity="0.66"/><circle cx="109.84" cy="974.08" r="0.99" fill-opacity="0.32"/><circle cx="103.43" cy="1031.93" r="0.76" fill-opacity="0.54"/><circle cx="129.82" cy="1002.01" r="0.82" fill-opacity="0.58"/><circle cx="48.33" cy="1029.13" r="0.52" fill-opacity="0.59"/><circle cx="92.66" cy="1069.99" r="0.82" fill-opacity="0.35"/><circle cx="105.8" cy="1038.02" r="0.82" fill-opacity="0.55"/><circle cx="97.91" cy="1027.78" r="0.76" fill-opacity="0.49"/><circle cx="67.52" cy="1035.01" r="0.8" fill-opacity="0.21"/><circle cx="75.34" cy="1053.25" r="0.98" fill-opacity="0.52"/><circle cx="114.74" cy="993.66" r="0.62" fill-opacity="0.32"/><circle cx="130.96" cy="1007.39" r="0.65" fill-opacity="0.21"/><circle cx="42.65" cy="1018.97" r="0.71" fill-opacity="0.33"/><circle cx="61.22" cy="973.4" r="0.61" fill-opacity="0.22"/><circle cx="68.6" cy="1048.3" r="0.84" fill-opacity="0.3"/><circle cx="100.53" cy="974.08" r="0.75" fill-opacity="0.3"/><circle cx="116.61" cy="1012.82" r="0.91" fill-opacity="0.32"/><circle cx="95.41" cy="1064.84" r="0.65" fill-opacity="0.68"/><circle cx="63.63" cy="1019.12" r="0.61" fill-opacity="0.41"/><circle cx="60.31" cy="973.17" r="0.57" fill-opacity="0.4"/><circle cx="99.3" cy="1070.37" r="0.57" fill-opacity="0.23"/><circle cx="118.48" cy="1031" r="0.95" fill-opacity="0.64"/><circle cx="81.16" cy="964.88" r="0.97" fill-opacity="0.36"/><circle cx="107.6" cy="1066.52" r="0.87" fill-opacity="0.22"/><circle cx="69.98" cy="989.96" r="0.69" fill-opacity="0.37"/><circle cx="88.41" cy="1021.03" r="0.64" fill-opacity="0.38"/><circle cx="105.26" cy="1013.26" r="0.98" fill-opacity="0.3"/><circle cx="56.6" cy="1056.87" r="0.91" fill-opacity="0.42"/><circle cx="122.4" cy="1029.82" r="0.69" fill-opacity="0.66"/><circle cx="98.42" cy="1049.03" r="0.95" fill-opacity="0.22"/><circle cx="45.78" cy="1044.37" r="0.88" fill-opacity="0.22"/><circle cx="100.19" cy="1021.44" r="0.96" fill-opacity="0.33"/><circle cx="86.13" cy="967.31" r="0.67" fill-opacity="0.34"/><circle cx="127.93" cy="1007.35" r="0.63" fill-opacity="0.56"/><circle cx="75.5" cy="1044.42" r="0.5" fill-opacity="0.58"/><circle cx="124.21" cy="996.95" r="0.97" fill-opacity="0.21"/><circle cx="90.77" cy="1055.54" r="0.98" fill-opacity="0.68"/><circle cx="66.53" cy="1036.2" r="0.71" fill-opacity="0.45"/><circle cx="107.78" cy="1008.42" r="0.9" fill-opacity="0.57"/><circle cx="107.96" cy="975.9" r="0.8" fill-opacity="0.36"/><circle cx="73.25" cy="1047.94" r="0.89" fill-opacity="0.24"/><circle cx="102.23" cy="1062.82" r="0.62" fill-opacity="0.23"/><circle cx="126.24" cy="1026.98" r="0.66" fill-opacity="0.69"/><circle cx="126.92" cy="982.62" r="0.63" fill-opacity="0.24"/><circle cx="118.34" cy="1040.21" r="0.85" fill-opacity="0.42"/><circle cx="90.46" cy="1053.2" r="0.81" fill-opacity="0.54"/><circle cx="86.37" cy="968.8" r="0.83" fill-opacity="0.26"/><circle cx="102.82" cy="993.87" r="0.78" fill-opacity="0.39"/><circle cx="85.19" cy="994.46" r="0.62" fill-opacity="0.32"/><circle cx="115.99" cy="1060.2" r="0.79" fill-opacity="0.36"/><circle cx="44.27" cy="1051.19" r="0.75" fill-opacity="0.32"/><circle cx="102.67" cy="977.76" r="1" fill-opacity="0.25"/><circle cx="38.73" cy="1026.22" r="0.92" fill-opacity="0.66"/><circle cx="115.33" cy="1025.84" r="0.56" fill-opacity="0.29"/><circle cx="127.65" cy="1011.53" r="0.97" fill-opacity="0.39"/><circle cx="111.13" cy="991.52" r="0.63" fill-opacity="0.59"/><circle cx="103.55" cy="1012.62" r="0.8" fill-opacity="0.51"/><circle cx="93.62" cy="1050.62" r="0.57" fill-opacity="0.3"/><circle cx="85.71" cy="1060.29" r="0.83" fill-opacity="0.3"/><circle cx="117.82" cy="1020.71" r="0.84" fill-opacity="0.29"/><circle cx="77.72" cy="1041.02" r="0.9" fill-opacity="0.47"/><circle cx="102.86" cy="1025.16" r="0.7" fill-opacity="0.48"/><circle cx="76.54" cy="1005.99" r="0.58" fill-opacity="0.55"/><circle cx="62.75" cy="1033.94" r="0.65" fill-opacity="0.68"/><circle cx="71.48" cy="1056.07" r="0.68" fill-opacity="0.41"/><circle cx="122.46" cy="977.89" r="0.68" fill-opacity="0.3"/><circle cx="83.65" cy="994.36" r="0.5" fill-opacity="0.65"/><circle cx="43.59" cy="1041.05" r="0.7" fill-opacity="0.64"/><circle cx="65.88" cy="1023.79" r="0.51" fill-opacity="0.48"/><circle cx="54.33" cy="978.67" r="0.54" fill-opacity="0.51"/><circle cx="60.59" cy="1046.32" r="0.57" fill-opacity="0.34"/><circle cx="35.5" cy="1011.61" r="0.55" fill-opacity="0.45"/><circle cx="104.93" cy="968.51" r="0.6" fill-opacity="0.26"/><circle cx="136.97" cy="999.83" r="0.74" fill-opacity="0.23"/><circle cx="117.08" cy="1003.45" r="0.95" fill-opacity="0.51"/><circle cx="96.76" cy="999.21" r="0.89" fill-opacity="0.31"/><circle cx="46" cy="1046.56" r="0.91" fill-opacity="0.29"/><circle cx="93.79" cy="1051.96" r="0.76" fill-opacity="0.39"/><circle cx="106.21" cy="1037.25" r="0.86" fill-opacity="0.65"/><circle cx="126.16" cy="1028.84" r="0.88" fill-opacity="0.22"/><circle cx="96.75" cy="1002.74" r="0.8" fill-opacity="0.48"/><circle cx="66.14" cy="997.1" r="0.71" fill-opacity="0.49"/><circle cx="47.85" cy="1038.22" r="0.72" fill-opacity="0.42"/><circle cx="129.03" cy="1024.72" r="0.74" fill-opacity="0.32"/><circle cx="91.06" cy="970.98" r="0.73" fill-opacity="0.29"/><circle cx="69.58" cy="1021.46" r="0.56" fill-opacity="0.42"/><circle cx="117.11" cy="1038.06" r="0.76" fill-opacity="0.22"/><circle cx="76.86" cy="1006.79" r="0.87" fill-opacity="0.59"/><circle cx="74.45" cy="1017.59" r="0.75" fill-opacity="0.39"/><circle cx="105.99" cy="1012.44" r="0.93" fill-opacity="0.7"/><circle cx="81.52" cy="970.05" r="0.6" fill-opacity="0.69"/><circle cx="34.24" cy="1021.2" r="0.96" fill-opacity="0.28"/><circle cx="99.44" cy="967.91" r="0.53" fill-opacity="0.38"/><circle cx="87.84" cy="997" r="0.95" fill-opacity="0.34"/><circle cx="95.2" cy="999.75" r="0.75" fill-opacity="0.66"/><circle cx="94.17" cy="1045.25" r="0.75" fill-opacity="0.36"/><circle cx="109.43" cy="1023.79" r="0.58" fill-opacity="0.67"/><circle cx="65.15" cy="972.3" r="0.58" fill-opacity="0.59"/><circle cx="116.5" cy="1044.53" r="0.82" fill-opacity="0.38"/><circle cx="129.95" cy="974.43" r="0.6" fill-opacity="0.59"/><circle cx="132.92" cy="976.73" r="0.6" fill-opacity="0.8"/><circle cx="44.68" cy="973.56" r="0.6" fill-opacity="0.7"/><circle cx="81.35" cy="1079.25" r="0.6" fill-opacity="0.59"/><circle cx="47.86" cy="1065.66" r="0.6" fill-opacity="0.52"/><circle cx="114.23" cy="1073.43" r="0.6" fill-opacity="0.32"/><circle cx="113.29" cy="962.47" r="0.6" fill-opacity="0.62"/><circle cx="148.19" cy="1012.35" r="0.6" fill-opacity="0.63"/><circle cx="63.14" cy="1075.94" r="0.6" fill-opacity="0.32"/><circle cx="123.32" cy="1068.08" r="0.6" fill-opacity="0.52"/><circle cx="26.07" cy="1013.64" r="0.6" fill-opacity="0.37"/><circle cx="95.75" cy="1079.29" r="0.6" fill-opacity="0.31"/><circle cx="148.77" cy="1019.52" r="0.6" fill-opacity="0.35"/><circle cx="48.38" cy="1066.92" r="0.6" fill-opacity="0.59"/><circle cx="34.5" cy="985.6" r="0.6" fill-opacity="0.61"/><circle cx="25.73" cy="1028.24" r="0.6" fill-opacity="0.77"/><circle cx="89.5" cy="1080.47" r="0.6" fill-opacity="0.35"/><circle cx="47.49" cy="971.82" r="0.6" fill-opacity="0.69"/><circle cx="36.49" cy="1054.26" r="0.6" fill-opacity="0.31"/><circle cx="49.27" cy="969.9" r="0.6" fill-opacity="0.48"/><circle cx="49.39" cy="969.63" r="0.6" fill-opacity="0.77"/><circle cx="80.6" cy="956.93" r="0.6" fill-opacity="0.75"/><circle cx="146.22" cy="1035.3" r="0.6" fill-opacity="0.5"/><circle cx="91.81" cy="1080.44" r="0.6" fill-opacity="0.69"/><circle cx="148.35" cy="1023.27" r="0.6" fill-opacity="0.77"/><circle cx="125.81" cy="1066.8" r="0.6" fill-opacity="0.6"/><circle cx="25.63" cy="1015.82" r="0.6" fill-opacity="0.71"/><circle cx="115.19" cy="1073.53" r="0.6" fill-opacity="0.45"/><circle cx="145.32" cy="1036.84" r="0.6" fill-opacity="0.69"/><circle cx="73.59" cy="957.77" r="0.6" fill-opacity="0.72"/><circle cx="85.14" cy="956.89" r="0.6" fill-opacity="0.67"/><circle cx="27.81" cy="1036.71" r="0.6" fill-opacity="0.35"/><circle cx="93.9" cy="1080.27" r="0.6" fill-opacity="0.47"/><circle cx="86.87" cy="957.13" r="0.6" fill-opacity="0.72"/><circle cx="72.25" cy="958.4" r="0.6" fill-opacity="0.58"/><circle cx="30.62" cy="1042.45" r="0.6" fill-opacity="0.56"/><circle cx="81.11" cy="1079.65" r="0.6" fill-opacity="0.78"/><circle cx="99.59" cy="1078.33" r="0.6" fill-opacity="0.31"/><circle cx="82.97" cy="1080.29" r="0.6" fill-opacity="0.67"/><circle cx="144.64" cy="997.62" r="0.6" fill-opacity="0.46"/><circle cx="132.1" cy="976.24" r="0.6" fill-opacity="0.42"/><circle cx="138.37" cy="984.79" r="0.6" fill-opacity="0.65"/><circle cx="56.01" cy="965.93" r="0.6" fill-opacity="0.53"/><circle cx="119.79" cy="966.63" r="0.6" fill-opacity="0.73"/><circle cx="30.38" cy="1042.07" r="0.6" fill-opacity="0.59"/><circle cx="65.01" cy="1076.41" r="0.6" fill-opacity="0.61"/><circle cx="140.95" cy="1047.2" r="0.6" fill-opacity="0.37"/><circle cx="148.19" cy="1028.94" r="0.6" fill-opacity="0.76"/><circle cx="52.18" cy="1069.83" r="0.6" fill-opacity="0.31"/><circle cx="146.28" cy="1034.38" r="0.6" fill-opacity="0.62"/><circle cx="66.96" cy="960.55" r="0.6" fill-opacity="0.33"/><circle cx="34.95" cy="985.25" r="0.6" fill-opacity="0.71"/><circle cx="112.88" cy="963.12" r="0.6" fill-opacity="0.33"/><circle cx="128.21" cy="973.38" r="0.6" fill-opacity="0.77"/><circle cx="135.44" cy="1057.12" r="0.6" fill-opacity="0.36"/><circle cx="146.76" cy="1031.63" r="0.6" fill-opacity="0.71"/><circle cx="46.28" cy="972.8" r="0.6" fill-opacity="0.62"/><circle cx="72.56" cy="1078.88" r="0.6" fill-opacity="0.35"/><circle cx="89.87" cy="956.61" r="0.6" fill-opacity="0.46"/><circle cx="31.82" cy="1047.16" r="0.6" fill-opacity="0.43"/><circle cx="74.53" cy="1078.56" r="0.6" fill-opacity="0.48"/><circle cx="60.72" cy="1073.6" r="0.6" fill-opacity="0.55"/><circle cx="123.55" cy="969.09" r="0.6" fill-opacity="0.32"/><circle cx="34.33" cy="1050.59" r="0.6" fill-opacity="0.69"/><circle cx="51.95" cy="1068.86" r="0.6" fill-opacity="0.57"/><circle cx="99.75" cy="1078.32" r="0.6" fill-opacity="0.35"/><circle cx="113.33" cy="962.37" r="0.6" fill-opacity="0.3"/><circle cx="105.19" cy="1077.02" r="0.6" fill-opacity="0.79"/><circle cx="148.59" cy="1020.19" r="0.6" fill-opacity="0.55"/><circle cx="104.95" cy="959.18" r="0.6" fill-opacity="0.55"/><circle cx="51.91" cy="1068.64" r="0.6" fill-opacity="0.43"/><circle cx="145.05" cy="997.13" r="0.6" fill-opacity="0.41"/><circle cx="67.77" cy="959.98" r="0.6" fill-opacity="0.35"/><circle cx="46.38" cy="971.52" r="0.6" fill-opacity="0.69"/><circle cx="67.03" cy="960.59" r="0.6" fill-opacity="0.61"/><circle cx="48.98" cy="1067.12" r="0.6" fill-opacity="0.5"/><circle cx="134.95" cy="979.04" r="0.6" fill-opacity="0.74"/><circle cx="148.18" cy="1028.26" r="0.6" fill-opacity="0.43"/><circle cx="137.11" cy="982.67" r="0.6" fill-opacity="0.49"/><circle cx="133.18" cy="977.25" r="0.6" fill-opacity="0.53"/><circle cx="26.91" cy="1006.43" r="0.6" fill-opacity="0.68"/><circle cx="49.53" cy="969.38" r="0.6" fill-opacity="0.46"/><circle cx="121.29" cy="1069.18" r="0.6" fill-opacity="0.63"/><circle cx="83.88" cy="956.58" r="0.6" fill-opacity="0.52"/><circle cx="96.02" cy="957.66" r="0.6" fill-opacity="0.36"/><circle cx="27.59" cy="1032.95" r="0.6" fill-opacity="0.42"/><circle cx="109.19" cy="1076.22" r="0.6" fill-opacity="0.65"/><circle cx="121.43" cy="966.92" r="0.6" fill-opacity="0.38"/><circle cx="87.94" cy="1080.3" r="0.6" fill-opacity="0.56"/><circle cx="119.81" cy="1070.88" r="0.6" fill-opacity="0.39"/><circle cx="147.58" cy="1008.96" r="0.6" fill-opacity="0.35"/><circle cx="147.35" cy="1003.96" r="0.6" fill-opacity="0.49"/><circle cx="147.93" cy="1012.29" r="0.6" fill-opacity="0.67"/><circle cx="30.14" cy="1043.14" r="0.6" fill-opacity="0.62"/><circle cx="135.5" cy="1057.04" r="0.6" fill-opacity="0.49"/><circle cx="147.32" cy="1031.56" r="0.6" fill-opacity="0.7"/><circle cx="65.57" cy="960.75" r="0.6" fill-opacity="0.62"/><circle cx="26.61" cy="1032.69" r="0.6" fill-opacity="0.6"/><circle cx="36.35" cy="1053.05" r="0.6" fill-opacity="0.75"/><circle cx="31.34" cy="1044.68" r="0.6" fill-opacity="0.67"/><circle cx="32.52" cy="1047.94" r="0.6" fill-opacity="0.66"/><circle cx="131.69" cy="976.58" r="0.6" fill-opacity="0.65"/><circle cx="123.84" cy="969.4" r="0.6" fill-opacity="0.62"/><circle cx="27.75" cy="1036.16" r="0.6" fill-opacity="0.61"/><circle cx="137.4" cy="1054.09" r="0.6" fill-opacity="0.69"/><circle cx="72.9" cy="958.7" r="0.6" fill-opacity="0.43"/><circle cx="32.32" cy="1046.98" r="0.6" fill-opacity="0.61"/><circle cx="35.3" cy="1051.61" r="0.6" fill-opacity="0.77"/><circle cx="112.08" cy="1074.56" r="0.6" fill-opacity="0.69"/><circle cx="39.85" cy="1058.16" r="0.6" fill-opacity="0.79"/><circle cx="146.79" cy="1033.11" r="0.6" fill-opacity="0.38"/><circle cx="99.12" cy="958.64" r="0.6" fill-opacity="0.56"/><circle cx="136.51" cy="1054.99" r="0.6" fill-opacity="0.57"/><circle cx="74.43" cy="958.21" r="0.6" fill-opacity="0.62"/><circle cx="116.32" cy="964.35" r="0.6" fill-opacity="0.51"/><circle cx="145.67" cy="998.61" r="0.6" fill-opacity="0.64"/><circle cx="39.17" cy="1056.82" r="0.6" fill-opacity="0.36"/><circle cx="148.48" cy="1012.48" r="0.6" fill-opacity="0.33"/><circle cx="77.59" cy="1079.5" r="0.6" fill-opacity="0.31"/><circle cx="33.2" cy="1048.7" r="0.6" fill-opacity="0.65"/><circle cx="49.96" cy="1068.07" r="0.6" fill-opacity="0.41"/><circle cx="83.73" cy="957.52" r="0.6" fill-opacity="0.56"/><circle cx="98.89" cy="1078.57" r="0.6" fill-opacity="0.5"/><circle cx="101.67" cy="1078.79" r="0.6" fill-opacity="0.69"/><circle cx="109.46" cy="961.32" r="0.6" fill-opacity="0.53"/><circle cx="29.72" cy="994.96" r="0.6" fill-opacity="0.78"/><circle cx="49.92" cy="1067.48" r="0.6" fill-opacity="0.71"/><circle cx="111.9" cy="962.11" r="0.6" fill-opacity="0.45"/><circle cx="27.78" cy="999.97" r="0.6" fill-opacity="0.72"/><circle cx="49.58" cy="1066.9" r="0.6" fill-opacity="0.43"/><circle cx="42.92" cy="1061.95" r="0.6" fill-opacity="0.51"/><circle cx="111.38" cy="1075.72" r="0.6" fill-opacity="0.66"/><circle cx="74.94" cy="1079.22" r="0.6" fill-opacity="0.45"/><circle cx="25.82" cy="1026.4" r="0.6" fill-opacity="0.62"/><circle cx="53.66" cy="966.5" r="0.6" fill-opacity="0.76"/><circle cx="124.91" cy="969.27" r="0.6" fill-opacity="0.71"/><circle cx="137.84" cy="984.32" r="0.6" fill-opacity="0.37"/><circle cx="117.05" cy="964.91" r="0.6" fill-opacity="0.31"/><circle cx="147.9" cy="1022.9" r="0.6" fill-opacity="0.63"/><circle cx="86.99" cy="1080.58" r="0.6" fill-opacity="0.37"/><circle cx="93.29" cy="1079.45" r="0.6" fill-opacity="0.47"/><circle cx="122.09" cy="1068.54" r="0.6" fill-opacity="0.7"/><circle cx="117.15" cy="1071.68" r="0.6" fill-opacity="0.6"/><circle cx="98.99" cy="958.28" r="0.6" fill-opacity="0.75"/><circle cx="101.5" cy="959.05" r="0.6" fill-opacity="0.4"/><circle cx="65.34" cy="960.87" r="0.6" fill-opacity="0.67"/><circle cx="30.35" cy="1041.51" r="0.6" fill-opacity="0.58"/><circle cx="81.37" cy="1080.16" r="0.6" fill-opacity="0.37"/><circle cx="24.93" cy="1021.2" r="0.6" fill-opacity="0.53"/><circle cx="124.94" cy="1067.04" r="0.6" fill-opacity="0.55"/><circle cx="27.71" cy="1003.46" r="0.6" fill-opacity="0.3"/><circle cx="120.28" cy="966.62" r="0.6" fill-opacity="0.58"/><circle cx="55.95" cy="965.77" r="0.6" fill-opacity="0.49"/><circle cx="33.72" cy="1048.31" r="0.6" fill-opacity="0.34"/><circle cx="46.97" cy="971.9" r="0.6" fill-opacity="0.31"/><circle cx="39.63" cy="979.47" r="0.6" fill-opacity="0.77"/><circle cx="57.45" cy="1071.89" r="0.6" fill-opacity="0.56"/><circle cx="26.16" cy="1024.38" r="0.6" fill-opacity="0.32"/><circle cx="74.8" cy="958.27" r="0.6" fill-opacity="0.47"/><circle cx="126.87" cy="971.33" r="0.6" fill-opacity="0.54"/></g>
<text x="78.78" y="940.1" font-size="21.3" fill="#000" style="stroke-width:0.12px">0</text>
<circle cx="224.9" cy="1018.5" r="62.8" fill="#bdbcb5"/>
<g fill="#5050b0"><circle cx="178.1" cy="1010.93" r="0.61" fill-opacity="0.42"/><circle cx="189.39" cy="1037.34" r="0.91" fill-opacity="0.35"/><circle cx="241" cy="988.2" r="0.75" fill-opacity="0.34"/><circle cx="171.61" cy="1016.35" r="0.83" fill-opacity="0.6"/><circle cx="210.1" cy="1045.07" r="0.65" fill-opacity="0.49"/><circle cx="193.23" cy="982.66" r="0.52" fill-opacity="0.56"/><circle cx="254.92" cy="992.24" r="0.52" fill-opacity="0.35"/><circle cx="248.42" cy="1019.42" r="0.96" fill-opacity="0.5"/><circle cx="198.69" cy="978.32" r="0.95" fill-opacity="0.51"/><circle cx="193.13" cy="989.88" r="0.85" fill-opacity="0.5"/><circle cx="214.44" cy="995.91" r="0.83" fill-opacity="0.43"/><circle cx="226.27" cy="1001.36" r="0.59" fill-opacity="0.22"/><circle cx="232.83" cy="967.48" r="0.83" fill-opacity="0.38"/><circle cx="246" cy="975.5" r="0.78" fill-opacity="0.33"/><circle cx="213.63" cy="1051.72" r="0.66" fill-opacity="0.42"/><circle cx="192.08" cy="977.92" r="0.53" fill-opacity="0.48"/><circle cx="242.95" cy="1023.06" r="0.91" fill-opacity="0.49"/><circle cx="256.37" cy="1000.84" r="0.51" fill-opacity="0.39"/><circle cx="181.09" cy="989.93" r="0.99" fill-opacity="0.44"/><circle cx="210.19" cy="1027.52" r="0.82" fill-opacity="0.31"/><circle cx="228.8" cy="1023.99" r="0.5" fill-opacity="0.54"/><circle cx="263.22" cy="1055.25" r="0.54" fill-opacity="0.63"/><circle cx="229.86" cy="1023.72" r="0.86" fill-opacity="0.32"/><circle cx="222.49" cy="995.24" r="0.53" fill-opacity="0.59"/><circle cx="213.56" cy="969.85" r="0.86" fill-opacity="0.24"/><circle cx="193.48" cy="985.61" r="0.73" fill-opacity="0.67"/><circle cx="223.55" cy="1071.52" r="0.86" fill-opacity="0.21"/><circle cx="268.28" cy="1022.53" r="0.91" fill-opacity="0.24"/><circle cx="207.63" cy="1061.27" r="0.58" fill-opacity="0.63"/><circle cx="211.74" cy="1019.63" r="0.68" fill-opacity="0.49"/><circle cx="183.72" cy="1035.19" r="0.57" fill-opacity="0.6"/><circle cx="196.57" cy="1051.34" r="0.81" fill-opacity="0.41"/><circle cx="188.83" cy="1050" r="0.97" fill-opacity="0.59"/><circle cx="198.23" cy="1006.6" r="0.53" fill-opacity="0.69"/><circle cx="210.68" cy="971.48" r="0.67" fill-opacity="0.5"/><circle cx="273.65" cy="1011.55" r="0.8" fill-opacity="0.35"/><circle cx="179.04" cy="1040.59" r="0.69" fill-opacity="0.54"/><circle cx="183.88" cy="987.99" r="0.9" fill-opacity="0.34"/><circle cx="252.6" cy="1018.79" r="0.71" fill-opacity="0.49"/><circle cx="245.39" cy="971.93" r="0.52" fill-opacity="0.62"/><circle cx="243.93" cy="971.94" r="0.79" fill-opacity="0.34"/><circle cx="253.71" cy="979.46" r="0.84" fill-opacity="0.66"/><circle cx="215.9" cy="1031.42" r="0.78" fill-opacity="0.6"/><circle cx="239.23" cy="1063.03" r="0.97" fill-opacity="0.32"/><circle cx="190.1" cy="990.83" r="0.73" fill-opacity="0.3"/><circle cx="223.51" cy="1065.29" r="0.9" fill-opacity="0.43"/><circle cx="266.22" cy="1043.9" r="0.89" fill-opacity="0.32"/><circle cx="180.01" cy="993.97" r="0.94" fill-opacity="0.46"/><circle cx="183.89" cy="1024.58" r="0.59" fill-opacity="0.3"/><circle cx="243.98" cy="1059.5" r="0.68" fill-opacity="0.48"/><circle cx="193.12" cy="1040.84" r="0.57" fill-opacity="0.22"/><circle cx="257.93" cy="1017.91" r="0.55" fill-opacity="0.52"/><circle cx="229.86" cy="997.74" r="0.8" fill-opacity="0.37"/><circle cx="217.21" cy="1017.56" r="0.52" fill-opacity="0.7"/><circle cx="250" cy="990.42" r="0.78" fill-opacity="0.33"/><circle cx="231.33" cy="983.84" r="0.97" fill-opacity="0.58"/><circle cx="247.12" cy="970.37" r="0.63" fill-opacity="0.22"/><circle cx="231.86" cy="1040.38" r="0.54" fill-opacity="0.23"/><circle cx="177.75" cy="1000.72" r="0.73" fill-opacity="0.67"/><circle cx="236.45" cy="1011.16" r="0.8" fill-opacity="0.4"/><circle cx="263.48" cy="1054.69" r="0.63" fill-opacity="0.48"/><circle cx="191.39" cy="977.67" r="0.83" fill-opacity="0.4"/><circle cx="204.44" cy="1025.38" r="0.98" fill-opacity="0.7"/><circle cx="226.78" cy="1028.95" r="0.63" fill-opacity="0.38"/><circle cx="266.97" cy="989.03" r="0.92" fill-opacity="0.22"/><circle cx="235.21" cy="974.19" r="0.82" fill-opacity="0.69"/><circle cx="244.2" cy="1025.55" r="0.88" fill-opacity="0.67"/><circle cx="211.81" cy="992.04" r="0.8" fill-opacity="0.58"/><circle cx="249.14" cy="1037.4" r="0.63" fill-opacity="0.26"/><circle cx="202.88" cy="1021.1" r="0.62" fill-opacity="0.27"/><circle cx="222.24" cy="1013.05" r="0.86" fill-opacity="0.3"/><circle cx="275.59" cy="1030.17" r="0.61" fill-opacity="0.67"/><circle cx="258.99" cy="980.68" r="0.57" fill-opacity="0.42"/><circle cx="267.58" cy="1048.29" r="0.92" fill-opacity="0.51"/><circle cx="194.82" cy="1027.79" r="0.91" fill-opacity="0.44"/><circle cx="210.76" cy="1003.78" r="0.61" fill-opacity="0.23"/><circle cx="215.82" cy="979.36" r="0.57" fill-opacity="0.64"/><circle cx="221.34" cy="1052.97" r="0.58" fill-opacity="0.34"/><circle cx="241.56" cy="992.08" r="0.58" fill-opacity="0.45"/><circle cx="203.61" cy="1065.2" r="0.56" fill-opacity="0.69"/><circle cx="272.77" cy="1036.37" r="0.83" fill-opacity="0.31"/><circle cx="196.29" cy="1022.58" r="0.63" fill-opacity="0.3"/><circle cx="189.53" cy="1058.99" r="1" fill-opacity="0.66"/><circle cx="248.66" cy="1035.22" r="0.95" fill-opacity="0.23"/><circle cx="220.59" cy="989.56" r="0.99" fill-opacity="0.21"/><circle cx="235.96" cy="988.97" r="0.57" fill-opacity="0.2"/><circle cx="244.26" cy="984.43" r="0.59" fill-opacity="0.42"/><circle cx="246.37" cy="1005.25" r="0.79" fill-opacity="0.27"/><circle cx="245.05" cy="1061.41" r="0.86" fill-opacity="0.3"/><circle cx="238.93" cy="1026.13" r="0.8" fill-opacity="0.45"/><circle cx="221.23" cy="1042.74" r="0.81" fill-opacity="0.55"/><circle cx="240.46" cy="980.31" r="0.6" fill-opacity="0.23"/><circle cx="221.16" cy="984.2" r="0.86" fill-opacity="0.23"/><circle cx="236.53" cy="989.47" r="0.92" fill-opacity="0.63"/><circle cx="218.19" cy="1018.79" r="0.96" fill-opacity="0.44"/><circle cx="244.23" cy="998.43" r="0.59" fill-opacity="0.62"/><circle cx="210.24" cy="1034.69" r="0.69" fill-opacity="0.5"/><circle cx="263.82" cy="1019.63" r="0.72" fill-opacity="0.46"/><circle cx="258.03" cy="1049.91" r="0.91" fill-opacity="0.63"/><circle cx="205.25" cy="1059.59" r="0.69" fill-opacity="0.58"/><circle cx="271.67" cy="1037.43" r="0.98" fill-opacity="0.45"/><circle cx="185.7" cy="1015.21" r="0.77" fill-opacity="0.21"/><circle cx="249.91" cy="1013.31" r="0.59" fill-opacity="0.25"/><circle cx="224.76" cy="1067.32" r="0.52" fill-opacity="0.25"/><circle cx="217.38" cy="995.86" r="0.51" fill-opacity="0.5"/><circle cx="190.27" cy="1000.45" r="0.85" fill-opacity="0.25"/><circle cx="256.11" cy="985.07" r="0.52" fill-opacity="0.26"/><circle cx="186.71" cy="1020.04" r="0.64" fill-opacity="0.26"/><circle cx="208.32" cy="1029.67" r="0.8" fill-opacity="0.63"/><circle cx="249.5" cy="1051.15" r="0.87" fill-opacity="0.28"/><circle cx="248.94" cy="972.06" r="0.69" fill-opacity="0.41"/><circle cx="245.82" cy="985.4" r="0.7" fill-opacity="0.67"/><circle cx="230.19" cy="987.52" r="0.62" fill-opacity="0.37"/><circle cx="175.72" cy="1039.57" r="0.9" fill-opacity="0.66"/><circle cx="244.66" cy="972.87" r="0.53" fill-opacity="0.46"/><circle cx="275.29" cy="1004.84" r="0.62" fill-opacity="0.41"/><circle cx="202.99" cy="994.36" r="0.77" fill-opacity="0.23"/><circle cx="189.87" cy="1034.17" r="0.51" fill-opacity="0.27"/><circle cx="271.63" cy="1009.49" r="0.97" fill-opacity="0.52"/><circle cx="243.38" cy="971.19" r="0.94" fill-opacity="0.22"/><circle cx="207.37" cy="996.87" r="0.84" fill-opacity="0.34"/><circle cx="174.79" cy="1004.88" r="0.81" fill-opacity="0.33"/><circle cx="189.62" cy="1013.97" r="0.98" fill-opacity="0.34"/><circle cx="210.07" cy="1059.35" r="0.56" fill-opacity="0.5"/><circle cx="262.15" cy="1007.95" r="0.63" fill-opacity="0.43"/><circle cx="204.56" cy="1014.11" r="0.56" fill-opacity="0.27"/><circle cx="215.58" cy="1051.65" r="0.64" fill-opacity="0.32"/><circle cx="258.89" cy="1039.43" r="0.92" fill-opacity="0.5"/><circle cx="185.51" cy="999.91" r="0.6" fill-opacity="0.56"/><circle cx="186.12" cy="1028.23" r="0.81" fill-opacity="0.43"/><circle cx="215.04" cy="1043.18" r="0.61" fill-opacity="0.46"/><circle cx="194.21" cy="1046.19" r="0.51" fill-opacity="0.38"/><circle cx="241.95" cy="998.37" r="0.78" fill-opacity="0.45"/><circle cx="213.25" cy="1070.89" r="0.65" fill-opacity="0.59"/><circle cx="232.49" cy="1030.22" r="0.94" fill-opacity="0.42"/><circle cx="256.02" cy="1031.28" r="0.72" fill-opacity="0.57"/><circle cx="244.72" cy="1034.74" r="0.98" fill-opacity="0.57"/><circle cx="242.6" cy="1044.38" r="0.68" fill-opacity="0.54"/><circle cx="187.82" cy="985.27" r="0.91" fill-opacity="0.46"/><circle cx="221.62" cy="972.05" r="0.88" fill-opacity="0.44"/><circle cx="234.8" cy="974.13" r="0.96" fill-opacity="0.26"/><circle cx="227.34" cy="1015.92" r="0.88" fill-opacity="0.49"/><circle cx="171.91" cy="1019.2" r="0.79" fill-opacity="0.41"/><circle cx="235.5" cy="969.17" r="0.8" fill-opacity="0.39"/><circle cx="189.98" cy="1029.29" r="0.86" fill-opacity="0.35"/><circle cx="193.78" cy="1044.02" r="0.69" fill-opacity="0.36"/><circle cx="236.39" cy="970.06" r="0.75" fill-opacity="0.42"/><circle cx="236.86" cy="1045.77" r="0.57" fill-opacity="0.49"/><circle cx="210.94" cy="1010.65" r="0.96" fill-opacity="0.36"/><circle cx="252.28" cy="977.33" r="0.98" fill-opacity="0.3"/><circle cx="178.77" cy="1041.48" r="0.51" fill-opacity="0.22"/><circle cx="189.94" cy="1003.39" r="0.96" fill-opacity="0.59"/><circle cx="172.51" cy="1005.57" r="0.76" fill-opacity="0.46"/><circle cx="211.56" cy="987.55" r="0.68" fill-opacity="0.5"/><circle cx="193.7" cy="1060.82" r="0.84" fill-opacity="0.46"/><circle cx="251.76" cy="1037.75" r="0.7" fill-opacity="0.48"/><circle cx="179.63" cy="995.77" r="0.98" fill-opacity="0.44"/><circle cx="185.2" cy="1034.17" r="1" fill-opacity="0.37"/><circle cx="176.99" cy="1009.32" r="0.59" fill-opacity="0.36"/><circle cx="273.54" cy="1011.87" r="0.76" fill-opacity="0.26"/><circle cx="260.26" cy="990.9" r="0.91" fill-opacity="0.7"/><circle cx="251.64" cy="995.85" r="0.58" fill-opacity="0.34"/><circle cx="186.63" cy="1015.7" r="0.59" fill-opacity="0.29"/><circle cx="196.21" cy="987.91" r="0.68" fill-opacity="0.7"/><circle cx="217.63" cy="1010.1" r="0.71" fill-opacity="0.59"/><circle cx="209.23" cy="1060.56" r="0.5" fill-opacity="0.35"/><circle cx="247.53" cy="983.89" r="0.83" fill-opacity="0.3"/><circle cx="184.73" cy="1019.04" r="0.63" fill-opacity="0.52"/><circle cx="172.02" cy="1007.9" r="0.79" fill-opacity="0.41"/><circle cx="240.35" cy="1033.28" r="0.88" fill-opacity="0.25"/><circle cx="275.03" cy="1054.97" r="0.6" fill-opacity="0.56"/><circle cx="252.16" cy="963.41" r="0.6" fill-opacity="0.7"/><circle cx="282.41" cy="1042.16" r="0.6" fill-opacity="0.69"/><circle cx="197.8" cy="1073.53" r="0.6" fill-opacity="0.48"/><circle cx="254.91" cy="1072.62" r="0.6" fill-opacity="0.35"/><circle cx="275.52" cy="983.57" r="0.6" fill-opacity="0.47"/><circle cx="166.2" cy="1037.64" r="0.6" fill-opacity="0.33"/><circle cx="272.42" cy="979.46" r="0.6" fill-opacity="0.78"/><circle cx="167.81" cy="1041.25" r="0.6" fill-opacity="0.42"/><circle cx="283.67" cy="1035.16" r="0.6" fill-opacity="0.73"/><circle cx="200.7" cy="1074.63" r="0.6" fill-opacity="0.71"/><circle cx="204.56" cy="1076.51" r="0.6" fill-opacity="0.78"/><circle cx="163.86" cy="1020.21" r="0.6" fill-opacity="0.42"/><circle cx="177.69" cy="1057.66" r="0.6" fill-opacity="0.41"/><circle cx="202.69" cy="1075.47" r="0.6" fill-opacity="0.54"/><circle cx="241.33" cy="958.81" r="0.6" fill-opacity="0.39"/><circle cx="185.88" cy="1066.65" r="0.6" fill-opacity="0.79"/><circle cx="209.34" cy="1078.03" r="0.6" fill-opacity="0.36"/><circle cx="164.55" cy="1005.51" r="0.6" fill-opacity="0.5"/><circle cx="281.78" cy="1043.3" r="0.6" fill-opacity="0.71"/></g>
<text x="200.15" y="940.1" font-size="21.3" fill="#000" style="stroke-width:0.12px">1:200</text>
<circle cx="363.4" cy="1018.5" r="62.8" fill="#b5b4ad"/>
<g fill="#5050b0"><circle cx="347.52" cy="1040" r="0.6" fill-opacity="0.34"/><circle cx="364.21" cy="1028.56" r="0.83" fill-opacity="0.37"/><circle cx="388.69" cy="1056.17" r="0.55" fill-opacity="0.33"/><circle cx="373.23" cy="1001.88" r="0.72" fill-opacity="0.62"/><circle cx="370.69" cy="998.22" r="0.68" fill-opacity="0.56"/><circle cx="325.57" cy="1055.44" r="0.6" fill-opacity="0.68"/><circle cx="337.66" cy="1017.72" r="0.73" fill-opacity="0.27"/><circle cx="355.95" cy="991.95" r="0.95" fill-opacity="0.49"/><circle cx="345.3" cy="1038.27" r="0.8" fill-opacity="0.31"/><circle cx="376.56" cy="1004.9" r="0.76" fill-opacity="0.47"/><circle cx="357.33" cy="1065.56" r="0.69" fill-opacity="0.53"/><circle cx="335.97" cy="1006.08" r="0.69" fill-opacity="0.24"/><circle cx="385.45" cy="1063.18" r="0.66" fill-opacity="0.53"/><circle cx="394.76" cy="1044.1" r="0.68" fill-opacity="0.45"/><circle cx="359.37" cy="1031.77" r="0.66" fill-opacity="0.31"/><circle cx="395.5" cy="1051.06" r="0.64" fill-opacity="0.4"/><circle cx="403.37" cy="992.75" r="0.94" fill-opacity="0.63"/><circle cx="382.56" cy="1039.47" r="0.51" fill-opacity="0.54"/><circle cx="346.86" cy="991.09" r="0.71" fill-opacity="0.53"/><circle cx="354.96" cy="992.94" r="0.92" fill-opacity="0.38"/><circle cx="347.52" cy="1001.84" r="0.56" fill-opacity="0.66"/><circle cx="358.84" cy="973.14" r="0.52" fill-opacity="0.22"/><circle cx="376.02" cy="1038.96" r="0.65" fill-opacity="0.39"/><circle cx="392.6" cy="1025.85" r="0.82" fill-opacity="0.29"/><circle cx="385.14" cy="983.99" r="0.86" fill-opacity="0.33"/><circle cx="322.4" cy="1036.26" r="0.67" fill-opacity="0.2"/><circle cx="387.44" cy="977.43" r="0.64" fill-opacity="0.22"/><circle cx="389.02" cy="985.1" r="0.52" fill-opacity="0.32"/><circle cx="400.19" cy="1049.4" r="0.61" fill-opacity="0.66"/><circle cx="363.35" cy="1002.65" r="0.85" fill-opacity="0.4"/><circle cx="362.65" cy="969.34" r="0.64" fill-opacity="0.24"/><circle cx="396.59" cy="1006.87" r="0.97" fill-opacity="0.55"/><circle cx="359.88" cy="969.42" r="0.81" fill-opacity="0.43"/><circle cx="405.93" cy="1033.6" r="0.71" fill-opacity="0.46"/><circle cx="380.76" cy="1010.08" r="0.88" fill-opacity="0.22"/><circle cx="349.22" cy="972.14" r="0.63" fill-opacity="0.47"/><circle cx="405.73" cy="1010.26" r="0.77" fill-opacity="0.32"/><circle cx="393.48" cy="1030.28" r="0.71" fill-opacity="0.3"/><circle cx="355.99" cy="1037.03" r="0.85" fill-opacity="0.54"/><circle cx="365.42" cy="1044.98" r="0.76" fill-opacity="0.42"/><circle cx="392.85" cy="1005.94" r="0.65" fill-opacity="0.64"/><circle cx="388.86" cy="1050.04" r="0.67" fill-opacity="0.61"/><circle cx="318.45" cy="1004.44" r="0.58" fill-opacity="0.53"/><circle cx="333.55" cy="997.19" r="0.88" fill-opacity="0.62"/><circle cx="385.25" cy="1037.64" r="0.68" fill-opacity="0.3"/><circle cx="389.99" cy="1029.09" r="0.6" fill-opacity="0.55"/><circle cx="346.21" cy="1024.32" r="0.66" fill-opacity="0.43"/><circle cx="348.97" cy="1035.29" r="0.54" fill-opacity="0.21"/><circle cx="410.13" cy="1016.19" r="0.54" fill-opacity="0.56"/><circle cx="403.63" cy="1013.47" r="0.55" fill-opacity="0.44"/><circle cx="341.85" cy="1027.95" r="0.77" fill-opacity="0.2"/><circle cx="401.34" cy="997.51" r="0.81" fill-opacity="0.67"/><circle cx="347.84" cy="996.33" r="0.62" fill-opacity="0.27"/><circle cx="410.21" cy="1026.72" r="0.92" fill-opacity="0.35"/><circle cx="380.35" cy="1058.17" r="0.92" fill-opacity="0.66"/><circle cx="386.85" cy="1060.2" r="0.92" fill-opacity="0.57"/><circle cx="352.65" cy="1039.06" r="0.91" fill-opacity="0.36"/><circle cx="336.23" cy="1047.98" r="0.68" fill-opacity="0.62"/><circle cx="364.13" cy="1029.45" r="0.78" fill-opacity="0.51"/><circle cx="382.65" cy="977.42" r="0.95" fill-opacity="0.67"/><circle cx="325.25" cy="1019.85" r="0.58" fill-opacity="0.35"/><circle cx="350.05" cy="1011.04" r="0.84" fill-opacity="0.28"/><circle cx="313.57" cy="1037.08" r="0.54" fill-opacity="0.22"/><circle cx="341.49" cy="1027.25" r="0.86" fill-opacity="0.2"/><circle cx="390.38" cy="976.47" r="0.89" fill-opacity="0.41"/><circle cx="354.29" cy="1061.47" r="0.76" fill-opacity="0.41"/><circle cx="344.49" cy="1048.86" r="0.83" fill-opacity="0.61"/><circle cx="381.44" cy="1006.08" r="0.65" fill-opacity="0.42"/><circle cx="334.03" cy="1006.14" r="0.6" fill-opacity="0.24"/><circle cx="347.03" cy="1051.29" r="0.99" fill-opacity="0.65"/><circle cx="403.88" cy="972.83" r="0.6" fill-opacity="0.78"/><circle cx="318.73" cy="976.62" r="0.6" fill-opacity="0.33"/><circle cx="335.99" cy="963.48" r="0.6" fill-opacity="0.45"/><circle cx="308.34" cy="992.11" r="0.6" fill-opacity="0.54"/><circle cx="326.23" cy="969.08" r="0.6" fill-opacity="0.47"/><circle cx="410.06" cy="977.42" r="0.6" fill-opacity="0.39"/><circle cx="336.68" cy="962.92" r="0.6" fill-opacity="0.34"/><circle cx="330.47" cy="966.26" r="0.6" fill-opacity="0.59"/><circle cx="310.14" cy="1049.38" r="0.6" fill-opacity="0.58"/><circle cx="314.04" cy="1056.12" r="0.6" fill-opacity="0.39"/></g>
<text x="337.95" y="940.1" font-size="21.3" fill="#000" style="stroke-width:0.12px">1:100</text>
<circle cx="501.2" cy="1018.5" r="62.8" fill="#abaaa3"/>
<g fill="#5050b0"><circle cx="532.01" cy="993.01" r="0.56" fill-opacity="0.63"/><circle cx="500.84" cy="1035.14" r="0.77" fill-opacity="0.33"/><circle cx="461.09" cy="1021.21" r="0.61" fill-opacity="0.49"/></g>
<text x="482.88" y="940.1" font-size="21.3" fill="#000" style="stroke-width:0.12px">1:50</text>
<circle cx="694.9" cy="1018.5" r="62.8" fill="#bebcb9"/>
<g fill="#5050b0"><circle cx="724.24" cy="1043.72" r="0.79" fill-opacity="0.24"/><circle cx="682.64" cy="1026.5" r="0.72" fill-opacity="0.63"/><circle cx="651.53" cy="1004.24" r="0.88" fill-opacity="0.26"/><circle cx="740.7" cy="1015.81" r="0.55" fill-opacity="0.62"/><circle cx="677.5" cy="1032.53" r="0.98" fill-opacity="0.48"/><circle cx="698.02" cy="998.77" r="0.89" fill-opacity="0.23"/><circle cx="697.61" cy="1051.34" r="0.51" fill-opacity="0.5"/><circle cx="701.69" cy="1047.29" r="0.85" fill-opacity="0.41"/><circle cx="727.46" cy="991.09" r="0.94" fill-opacity="0.48"/><circle cx="738.68" cy="993.53" r="0.58" fill-opacity="0.57"/><circle cx="669.26" cy="1058.12" r="0.84" fill-opacity="0.61"/><circle cx="718.56" cy="1041.49" r="0.87" fill-opacity="0.67"/><circle cx="692.91" cy="1007.41" r="0.8" fill-opacity="0.25"/><circle cx="648.76" cy="1003.88" r="0.56" fill-opacity="0.66"/><circle cx="682.56" cy="994.2" r="0.6" fill-opacity="0.42"/><circle cx="716.56" cy="983.48" r="0.56" fill-opacity="0.21"/><circle cx="732.06" cy="1049.4" r="0.59" fill-opacity="0.48"/><circle cx="683.76" cy="1061.86" r="0.69" fill-opacity="0.27"/><circle cx="722.99" cy="990.55" r="0.84" fill-opacity="0.6"/><circle cx="700.92" cy="1016.49" r="0.67" fill-opacity="0.28"/><circle cx="644.44" cy="1017.94" r="0.9" fill-opacity="0.22"/><circle cx="715.06" cy="1063" r="0.84" fill-opacity="0.4"/><circle cx="673.66" cy="1021.76" r="0.92" fill-opacity="0.4"/><circle cx="724.37" cy="988.28" r="0.54" fill-opacity="0.36"/><circle cx="705.63" cy="1068.43" r="0.79" fill-opacity="0.22"/><circle cx="710.58" cy="1046.91" r="0.73" fill-opacity="0.49"/><circle cx="670.43" cy="1039.3" r="0.5" fill-opacity="0.49"/><circle cx="691.01" cy="1025.19" r="0.73" fill-opacity="0.69"/><circle cx="714.69" cy="1024.3" r="0.84" fill-opacity="0.34"/><circle cx="689.32" cy="1056.28" r="0.63" fill-opacity="0.48"/><circle cx="642.89" cy="1009.2" r="1" fill-opacity="0.22"/><circle cx="650.88" cy="1000.87" r="0.94" fill-opacity="0.59"/><circle cx="666.06" cy="986.57" r="0.68" fill-opacity="0.34"/><circle cx="709.07" cy="970.07" r="0.97" fill-opacity="0.54"/><circle cx="679.2" cy="1063" r="0.87" fill-opacity="0.45"/><circle cx="673.79" cy="994.49" r="0.78" fill-opacity="0.4"/><circle cx="724.03" cy="1030.13" r="0.66" fill-opacity="0.69"/><circle cx="662.39" cy="1022.3" r="0.62" fill-opacity="0.32"/><circle cx="683.29" cy="1034.65" r="0.5" fill-opacity="0.64"/><circle cx="660.4" cy="1028.96" r="0.78" fill-opacity="0.35"/><circle cx="701.68" cy="1030.64" r="0.65" fill-opacity="0.35"/><circle cx="689.04" cy="978.83" r="0.97" fill-opacity="0.37"/><circle cx="731.2" cy="998.91" r="0.54" fill-opacity="0.29"/><circle cx="647.95" cy="992.5" r="0.68" fill-opacity="0.59"/><circle cx="649.6" cy="1040.42" r="0.53" fill-opacity="0.44"/><circle cx="717.76" cy="1001.7" r="0.63" fill-opacity="0.21"/><circle cx="709.2" cy="1042.53" r="0.85" fill-opacity="0.31"/><circle cx="675.38" cy="1032.76" r="0.8" fill-opacity="0.63"/><circle cx="680.59" cy="999.29" r="0.87" fill-opacity="0.68"/><circle cx="682.65" cy="1009.48" r="0.9" fill-opacity="0.64"/><circle cx="684.08" cy="1035.28" r="0.59" fill-opacity="0.47"/><circle cx="725.53" cy="988.04" r="0.96" fill-opacity="0.31"/><circle cx="673.22" cy="1059.92" r="0.82" fill-opacity="0.4"/><circle cx="681.35" cy="990.19" r="0.53" fill-opacity="0.41"/><circle cx="735.91" cy="1030.54" r="0.67" fill-opacity="0.45"/><circle cx="672.53" cy="1002.71" r="0.73" fill-opacity="0.21"/><circle cx="731.08" cy="1000.15" r="0.99" fill-opacity="0.23"/><circle cx="660.23" cy="988.33" r="0.66" fill-opacity="0.25"/><circle cx="706.24" cy="1035.46" r="0.88" fill-opacity="0.24"/><circle cx="708.65" cy="986.17" r="0.77" fill-opacity="0.49"/><circle cx="653.7" cy="1003.67" r="0.8" fill-opacity="0.37"/><circle cx="693.36" cy="991.12" r="0.86" fill-opacity="0.58"/><circle cx="699.78" cy="988.87" r="0.89" fill-opacity="0.69"/><circle cx="667.64" cy="1026.76" r="0.76" fill-opacity="0.67"/><circle cx="698.37" cy="1022.28" r="0.74" fill-opacity="0.53"/><circle cx="699.82" cy="986.36" r="0.99" fill-opacity="0.31"/><circle cx="695.57" cy="1002.32" r="0.51" fill-opacity="0.27"/><circle cx="730.46" cy="1032.62" r="0.78" fill-opacity="0.29"/><circle cx="725.24" cy="1006.43" r="0.57" fill-opacity="0.29"/><circle cx="690.91" cy="966.81" r="0.58" fill-opacity="0.21"/><circle cx="699.57" cy="992.31" r="0.99" fill-opacity="0.45"/><circle cx="674.11" cy="994.58" r="0.9" fill-opacity="0.43"/><circle cx="671.93" cy="1064.41" r="0.55" fill-opacity="0.57"/><circle cx="734.67" cy="1035.84" r="0.7" fill-opacity="0.63"/><circle cx="732.62" cy="1033.43" r="0.7" fill-opacity="0.66"/><circle cx="735.14" cy="1004" r="0.61" fill-opacity="0.33"/><circle cx="692.15" cy="1053.96" r="0.62" fill-opacity="0.3"/><circle cx="697.39" cy="975.27" r="0.65" fill-opacity="0.7"/><circle cx="703.39" cy="1058.36" r="0.58" fill-opacity="0.63"/><circle cx="713.92" cy="998.06" r="0.88" fill-opacity="0.61"/><circle cx="688.58" cy="1048.95" r="0.74" fill-opacity="0.65"/><circle cx="718.43" cy="1056.42" r="0.8" fill-opacity="0.43"/><circle cx="650.31" cy="994.27" r="0.6" fill-opacity="0.64"/><circle cx="664.42" cy="1055.18" r="0.93" fill-opacity="0.29"/><circle cx="730.26" cy="977.86" r="0.65" fill-opacity="0.21"/><circle cx="735.64" cy="1052.88" r="0.5" fill-opacity="0.66"/><circle cx="721.95" cy="1056.12" r="0.55" fill-opacity="0.28"/><circle cx="688.25" cy="1003.7" r="0.67" fill-opacity="0.66"/><circle cx="684.26" cy="968.91" r="0.99" fill-opacity="0.22"/><circle cx="699.54" cy="1066.34" r="0.84" fill-opacity="0.22"/><circle cx="668.92" cy="1017.72" r="0.72" fill-opacity="0.25"/><circle cx="748.24" cy="1025.22" r="0.66" fill-opacity="0.64"/><circle cx="722.31" cy="1044.39" r="0.57" fill-opacity="0.41"/><circle cx="714.2" cy="1058.83" r="0.57" fill-opacity="0.57"/><circle cx="676.8" cy="1018.42" r="0.68" fill-opacity="0.45"/><circle cx="722.75" cy="1002.89" r="0.61" fill-opacity="0.68"/><circle cx="729.19" cy="987.56" r="0.64" fill-opacity="0.29"/><circle cx="693.6" cy="1032.62" r="0.52" fill-opacity="0.45"/><circle cx="661.14" cy="1040.49" r="0.68" fill-opacity="0.21"/><circle cx="678.36" cy="978.11" r="0.77" fill-opacity="0.47"/><circle cx="675.28" cy="968.69" r="0.94" fill-opacity="0.56"/><circle cx="670.33" cy="1036.52" r="0.71" fill-opacity="0.69"/><circle cx="669.46" cy="1040.34" r="0.7" fill-opacity="0.27"/><circle cx="698.81" cy="1018.46" r="0.8" fill-opacity="0.66"/><circle cx="693.66" cy="1060.69" r="0.69" fill-opacity="0.32"/><circle cx="700.76" cy="1035.95" r="0.92" fill-opacity="0.59"/><circle cx="704.99" cy="1011.97" r="0.85" fill-opacity="0.36"/><circle cx="670.62" cy="986.69" r="0.66" fill-opacity="0.69"/><circle cx="741.55" cy="1018.77" r="0.93" fill-opacity="0.46"/><circle cx="649.84" cy="988.98" r="0.62" fill-opacity="0.51"/><circle cx="693.5" cy="985.29" r="0.86" fill-opacity="0.4"/><circle cx="653.2" cy="1011.56" r="0.84" fill-opacity="0.36"/><circle cx="667.46" cy="989.68" r="0.61" fill-opacity="0.51"/><circle cx="690.08" cy="1069.76" r="0.74" fill-opacity="0.56"/><circle cx="657.97" cy="1013.35" r="0.61" fill-opacity="0.27"/><circle cx="730.15" cy="1001.18" r="0.76" fill-opacity="0.46"/><circle cx="705.13" cy="994.18" r="0.59" fill-opacity="0.61"/><circle cx="653.01" cy="1029.17" r="0.91" fill-opacity="0.65"/><circle cx="702.47" cy="1010.21" r="0.69" fill-opacity="0.62"/><circle cx="702.73" cy="1001.25" r="0.58" fill-opacity="0.33"/><circle cx="720.66" cy="1037.91" r="0.9" fill-opacity="0.46"/><circle cx="679.58" cy="1023.18" r="0.7" fill-opacity="0.7"/><circle cx="682.64" cy="984.44" r="0.74" fill-opacity="0.6"/><circle cx="696.06" cy="997.62" r="0.84" fill-opacity="0.38"/><circle cx="668.79" cy="1015.09" r="0.69" fill-opacity="0.37"/><circle cx="689.62" cy="1023.39" r="0.6" fill-opacity="0.49"/><circle cx="716.23" cy="1026.6" r="0.86" fill-opacity="0.34"/><circle cx="682.99" cy="1042.24" r="0.92" fill-opacity="0.25"/><circle cx="662.07" cy="980.72" r="0.6" fill-opacity="0.41"/><circle cx="706.05" cy="977.54" r="0.69" fill-opacity="0.22"/><circle cx="664.28" cy="1030.06" r="0.86" fill-opacity="0.35"/><circle cx="658.49" cy="1042.28" r="0.91" fill-opacity="0.38"/><circle cx="664.02" cy="1045.6" r="0.96" fill-opacity="0.3"/><circle cx="739.73" cy="1010.35" r="0.69" fill-opacity="0.53"/><circle cx="688.02" cy="1031.12" r="0.88" fill-opacity="0.39"/><circle cx="657.34" cy="1012.35" r="0.95" fill-opacity="0.58"/><circle cx="735.95" cy="1025.16" r="0.73" fill-opacity="0.43"/><circle cx="713.46" cy="989.08" r="0.74" fill-opacity="0.65"/><circle cx="659.72" cy="1032.47" r="0.76" fill-opacity="0.61"/><circle cx="672.61" cy="977.72" r="0.7" fill-opacity="0.22"/><circle cx="677.75" cy="982.15" r="0.88" fill-opacity="0.58"/><circle cx="713.6" cy="1035.65" r="0.54" fill-opacity="0.61"/><circle cx="707.78" cy="1028.07" r="0.88" fill-opacity="0.48"/><circle cx="736.83" cy="1033.6" r="0.86" fill-opacity="0.44"/><circle cx="737.16" cy="1033.65" r="0.71" fill-opacity="0.49"/><circle cx="743.71" cy="1017.92" r="0.94" fill-opacity="0.27"/><circle cx="675.25" cy="1052.05" r="0.5" fill-opacity="0.69"/><circle cx="690.63" cy="1045.83" r="0.66" fill-opacity="0.33"/><circle cx="720.34" cy="987.3" r="0.76" fill-opacity="0.41"/><circle cx="723.18" cy="1027.91" r="0.93" fill-opacity="0.6"/><circle cx="711.91" cy="997.04" r="0.6" fill-opacity="0.23"/><circle cx="662.76" cy="1010.92" r="0.73" fill-opacity="0.44"/><circle cx="666.66" cy="1002.09" r="0.9" fill-opacity="0.3"/><circle cx="730.12" cy="998.96" r="0.53" fill-opacity="0.36"/><circle cx="661.11" cy="1011.37" r="0.78" fill-opacity="0.36"/><circle cx="687.79" cy="1066.16" r="0.65" fill-opacity="0.56"/><circle cx="708.35" cy="979.18" r="0.73" fill-opacity="0.67"/><circle cx="647.3" cy="1035.68" r="0.53" fill-opacity="0.42"/><circle cx="687.24" cy="1009.33" r="0.93" fill-opacity="0.24"/><circle cx="676.04" cy="1005.46" r="0.96" fill-opacity="0.48"/><circle cx="706.84" cy="982.3" r="0.84" fill-opacity="0.54"/><circle cx="687.99" cy="1042.33" r="0.92" fill-opacity="0.27"/><circle cx="716.27" cy="1006.38" r="0.55" fill-opacity="0.25"/><circle cx="706.15" cy="967.05" r="0.71" fill-opacity="0.53"/><circle cx="692.45" cy="1069.85" r="0.84" fill-opacity="0.28"/><circle cx="737.12" cy="1034.2" r="0.52" fill-opacity="0.62"/><circle cx="687.85" cy="1043.58" r="0.79" fill-opacity="0.36"/><circle cx="675.22" cy="1010.63" r="0.96" fill-opacity="0.36"/><circle cx="706.32" cy="1000.82" r="0.9" fill-opacity="0.69"/><circle cx="687.29" cy="1024.68" r="0.69" fill-opacity="0.52"/><circle cx="701.55" cy="1057.84" r="0.55" fill-opacity="0.43"/><circle cx="690.07" cy="983.42" r="0.84" fill-opacity="0.26"/><circle cx="703.84" cy="1001.88" r="0.96" fill-opacity="0.7"/><circle cx="731.28" cy="1003.95" r="0.65" fill-opacity="0.37"/><circle cx="694.99" cy="980.44" r="0.96" fill-opacity="0.25"/><circle cx="644.93" cy="1023.31" r="0.8" fill-opacity="0.47"/><circle cx="712.05" cy="1029.15" r="0.64" fill-opacity="0.65"/><circle cx="709.42" cy="997.25" r="0.96" fill-opacity="0.22"/><circle cx="651.69" cy="987.6" r="0.67" fill-opacity="0.67"/><circle cx="688.2" cy="1008.44" r="0.67" fill-opacity="0.42"/><circle cx="695.66" cy="1065.03" r="0.59" fill-opacity="0.59"/><circle cx="690.65" cy="1032.08" r="0.78" fill-opacity="0.25"/><circle cx="649.45" cy="1003.24" r="0.8" fill-opacity="0.43"/><circle cx="732.73" cy="1026.64" r="0.55" fill-opacity="0.52"/><circle cx="722.63" cy="1048.78" r="0.68" fill-opacity="0.39"/><circle cx="683.55" cy="999.81" r="0.58" fill-opacity="0.67"/><circle cx="670.58" cy="1061.69" r="0.94" fill-opacity="0.44"/><circle cx="704.71" cy="1031.84" r="0.94" fill-opacity="0.26"/><circle cx="655.37" cy="1019.46" r="0.56" fill-opacity="0.43"/><circle cx="715.23" cy="1052.39" r="0.75" fill-opacity="0.38"/><circle cx="705.97" cy="1050.98" r="0.6" fill-opacity="0.26"/><circle cx="698.1" cy="1068.82" r="0.75" fill-opacity="0.65"/><circle cx="747.12" cy="1023.47" r="0.74" fill-opacity="0.6"/><circle cx="654.39" cy="999.31" r="0.61" fill-opacity="0.58"/><circle cx="710.7" cy="1041.33" r="0.52" fill-opacity="0.4"/><circle cx="665.91" cy="1015.19" r="0.95" fill-opacity="0.24"/><circle cx="671.89" cy="1006.13" r="0.8" fill-opacity="0.59"/><circle cx="691.62" cy="1005.44" r="0.62" fill-opacity="0.5"/><circle cx="705.8" cy="1017.33" r="0.81" fill-opacity="0.55"/><circle cx="707.38" cy="989.48" r="0.91" fill-opacity="0.43"/><circle cx="699.82" cy="1015.83" r="0.97" fill-opacity="0.41"/><circle cx="681.53" cy="1027.33" r="0.62" fill-opacity="0.57"/><circle cx="685.81" cy="999.56" r="0.67" fill-opacity="0.27"/><circle cx="702.99" cy="1042.48" r="0.67" fill-opacity="0.69"/><circle cx="742.94" cy="1017.68" r="0.74" fill-opacity="0.45"/><circle cx="704.31" cy="967.9" r="0.88" fill-opacity="0.52"/><circle cx="708.34" cy="1059.03" r="0.92" fill-opacity="0.59"/><circle cx="733.15" cy="1043.59" r="0.67" fill-opacity="0.28"/><circle cx="738.18" cy="1009.04" r="0.87" fill-opacity="0.27"/><circle cx="719.63" cy="972.44" r="0.95" fill-opacity="0.57"/><circle cx="718.85" cy="976.48" r="0.8" fill-opacity="0.42"/><circle cx="716.66" cy="975.9" r="0.94" fill-opacity="0.35"/><circle cx="733.1" cy="1008.93" r="0.97" fill-opacity="0.26"/><circle cx="741.89" cy="1009.06" r="0.63" fill-opacity="0.62"/><circle cx="697.6" cy="1042.38" r="0.73" fill-opacity="0.32"/><circle cx="643.49" cy="1020.89" r="0.84" fill-opacity="0.56"/><circle cx="657.67" cy="1048.51" r="0.9" fill-opacity="0.54"/><circle cx="740.72" cy="1000.92" r="0.7" fill-opacity="0.24"/><circle cx="666.5" cy="978.1" r="0.67" fill-opacity="0.5"/><circle cx="719.72" cy="977.31" r="0.5" fill-opacity="0.44"/><circle cx="712.77" cy="1020.34" r="0.91" fill-opacity="0.41"/><circle cx="666" cy="996.15" r="0.67" fill-opacity="0.31"/><circle cx="664.8" cy="1057.96" r="0.81" fill-opacity="0.35"/><circle cx="718.83" cy="1033.26" r="0.85" fill-opacity="0.42"/><circle cx="669.16" cy="977.37" r="0.56" fill-opacity="0.54"/><circle cx="742.24" cy="1031.14" r="0.59" fill-opacity="0.34"/><circle cx="726.27" cy="1009.96" r="0.61" fill-opacity="0.64"/><circle cx="655.61" cy="985.89" r="0.7" fill-opacity="0.45"/><circle cx="731.87" cy="1007.96" r="0.99" fill-opacity="0.29"/><circle cx="705.45" cy="999.48" r="0.76" fill-opacity="0.2"/><circle cx="722.5" cy="1072.97" r="0.6" fill-opacity="0.53"/><circle cx="717.47" cy="960.86" r="0.6" fill-opacity="0.48"/><circle cx="744.48" cy="1054.95" r="0.6" fill-opacity="0.73"/><circle cx="633.39" cy="1013.13" r="0.6" fill-opacity="0.76"/><circle cx="743.13" cy="980.5" r="0.6" fill-opacity="0.34"/><circle cx="651.03" cy="975.16" r="0.6" fill-opacity="0.78"/><circle cx="655.22" cy="1065.36" r="0.6" fill-opacity="0.62"/><circle cx="651.13" cy="1061.8" r="0.6" fill-opacity="0.64"/><circle cx="746.32" cy="984.58" r="0.6" fill-opacity="0.48"/><circle cx="756.34" cy="1009.24" r="0.6" fill-opacity="0.72"/><circle cx="669.94" cy="962.26" r="0.6" fill-opacity="0.52"/><circle cx="695.31" cy="957.37" r="0.6" fill-opacity="0.66"/><circle cx="694.83" cy="956.34" r="0.6" fill-opacity="0.46"/><circle cx="734.7" cy="1064.8" r="0.6" fill-opacity="0.75"/><circle cx="732.74" cy="1066.98" r="0.6" fill-opacity="0.59"/><circle cx="753.99" cy="1036.34" r="0.6" fill-opacity="0.67"/><circle cx="655.92" cy="970.47" r="0.6" fill-opacity="0.68"/><circle cx="679.16" cy="1078" r="0.6" fill-opacity="0.51"/><circle cx="755.74" cy="1010.09" r="0.6" fill-opacity="0.7"/><circle cx="667.39" cy="963.22" r="0.6" fill-opacity="0.78"/><circle cx="679.53" cy="959.09" r="0.6" fill-opacity="0.44"/><circle cx="727.24" cy="1070.82" r="0.6" fill-opacity="0.71"/><circle cx="711.64" cy="959.03" r="0.6" fill-opacity="0.37"/><circle cx="634.06" cy="1012.37" r="0.6" fill-opacity="0.38"/><circle cx="690.36" cy="956.67" r="0.6" fill-opacity="0.46"/><circle cx="753.28" cy="1038.9" r="0.6" fill-opacity="0.49"/><circle cx="754.63" cy="1005.91" r="0.6" fill-opacity="0.39"/><circle cx="672.63" cy="1075.36" r="0.6" fill-opacity="0.4"/><circle cx="668.33" cy="1074.16" r="0.6" fill-opacity="0.35"/><circle cx="690.94" cy="1080.1" r="0.6" fill-opacity="0.49"/><circle cx="755.17" cy="1004.47" r="0.6" fill-opacity="0.4"/><circle cx="746.71" cy="985.06" r="0.6" fill-opacity="0.72"/><circle cx="655" cy="972.01" r="0.6" fill-opacity="0.46"/><circle cx="730.28" cy="1068.55" r="0.6" fill-opacity="0.54"/><circle cx="637.64" cy="996.35" r="0.6" fill-opacity="0.68"/><circle cx="685.09" cy="1079.48" r="0.6" fill-opacity="0.76"/><circle cx="634.09" cy="1007.16" r="0.6" fill-opacity="0.62"/><circle cx="691.16" cy="1079.66" r="0.6" fill-opacity="0.32"/><circle cx="723.4" cy="963.98" r="0.6" fill-opacity="0.48"/><circle cx="752.42" cy="995.69" r="0.6" fill-opacity="0.42"/><circle cx="750.61" cy="1044.66" r="0.6" fill-opacity="0.68"/><circle cx="667.95" cy="962.99" r="0.6" fill-opacity="0.7"/><circle cx="742.23" cy="1058.29" r="0.6" fill-opacity="0.62"/><circle cx="755.05" cy="1005.96" r="0.6" fill-opacity="0.65"/><circle cx="704.41" cy="957.51" r="0.6" fill-opacity="0.77"/><circle cx="691.97" cy="956.78" r="0.6" fill-opacity="0.5"/><circle cx="716.09" cy="960.47" r="0.6" fill-opacity="0.39"/><circle cx="737.5" cy="974.06" r="0.6" fill-opacity="0.56"/><circle cx="665.26" cy="965.05" r="0.6" fill-opacity="0.37"/><circle cx="662.03" cy="1071.21" r="0.6" fill-opacity="0.51"/><circle cx="633.73" cy="1017.68" r="0.6" fill-opacity="0.63"/><circle cx="640.42" cy="989.51" r="0.6" fill-opacity="0.59"/><circle cx="685.78" cy="1079" r="0.6" fill-opacity="0.69"/><circle cx="727.6" cy="965.81" r="0.6" fill-opacity="0.64"/><circle cx="696.49" cy="956.92" r="0.6" fill-opacity="0.75"/><circle cx="744.23" cy="982.1" r="0.6" fill-opacity="0.71"/><circle cx="658.6" cy="969.29" r="0.6" fill-opacity="0.37"/><circle cx="677.45" cy="959.68" r="0.6" fill-opacity="0.61"/><circle cx="685.15" cy="1079.85" r="0.6" fill-opacity="0.6"/><circle cx="722.73" cy="963.24" r="0.6" fill-opacity="0.41"/><circle cx="705.05" cy="1079.75" r="0.6" fill-opacity="0.64"/><circle cx="755.37" cy="1008.85" r="0.6" fill-opacity="0.48"/><circle cx="675.5" cy="959.5" r="0.6" fill-opacity="0.72"/><circle cx="666.61" cy="1073.89" r="0.6" fill-opacity="0.61"/><circle cx="734.71" cy="1065.86" r="0.6" fill-opacity="0.33"/><circle cx="636.91" cy="1039.09" r="0.6" fill-opacity="0.7"/><circle cx="754.22" cy="1033.57" r="0.6" fill-opacity="0.36"/><circle cx="704.71" cy="1079.16" r="0.6" fill-opacity="0.47"/><circle cx="664.91" cy="1072.21" r="0.6" fill-opacity="0.41"/><circle cx="711.61" cy="958.85" r="0.6" fill-opacity="0.72"/><circle cx="717.1" cy="961.09" r="0.6" fill-opacity="0.32"/><circle cx="705.81" cy="957.3" r="0.6" fill-opacity="0.55"/><circle cx="639.74" cy="1047.08" r="0.6" fill-opacity="0.62"/><circle cx="685.1" cy="957.79" r="0.6" fill-opacity="0.5"/><circle cx="633.58" cy="1013.83" r="0.6" fill-opacity="0.41"/><circle cx="736" cy="973.42" r="0.6" fill-opacity="0.7"/><circle cx="754.89" cy="1003.63" r="0.6" fill-opacity="0.79"/><circle cx="750.43" cy="1045.22" r="0.6" fill-opacity="0.37"/><circle cx="636.07" cy="1036.01" r="0.6" fill-opacity="0.65"/><circle cx="635.6" cy="1035.87" r="0.6" fill-opacity="0.39"/><circle cx="644.2" cy="1053.95" r="0.6" fill-opacity="0.4"/><circle cx="689.49" cy="957.16" r="0.6" fill-opacity="0.52"/><circle cx="714.7" cy="1076.57" r="0.6" fill-opacity="0.4"/><circle cx="688.88" cy="1079.73" r="0.6" fill-opacity="0.65"/><circle cx="755.32" cy="1008.16" r="0.6" fill-opacity="0.77"/><circle cx="748.64" cy="988.93" r="0.6" fill-opacity="0.66"/><circle cx="752.1" cy="1042.29" r="0.6" fill-opacity="0.31"/><circle cx="735.04" cy="972.13" r="0.6" fill-opacity="0.62"/><circle cx="689.55" cy="1080.04" r="0.6" fill-opacity="0.38"/><circle cx="653.76" cy="973.45" r="0.6" fill-opacity="0.45"/><circle cx="754.51" cy="1035.51" r="0.6" fill-opacity="0.48"/><circle cx="744.21" cy="982.19" r="0.6" fill-opacity="0.53"/><circle cx="744.62" cy="1055.66" r="0.6" fill-opacity="0.38"/><circle cx="705.49" cy="957.78" r="0.6" fill-opacity="0.8"/><circle cx="746.96" cy="986.24" r="0.6" fill-opacity="0.54"/><circle cx="721.99" cy="962.68" r="0.6" fill-opacity="0.35"/><circle cx="638.13" cy="994.6" r="0.6" fill-opacity="0.4"/><circle cx="694.14" cy="1080.67" r="0.6" fill-opacity="0.75"/><circle cx="679.79" cy="959.33" r="0.6" fill-opacity="0.79"/><circle cx="638.36" cy="1042.23" r="0.6" fill-opacity="0.49"/><circle cx="718.09" cy="961.88" r="0.6" fill-opacity="0.37"/><circle cx="756.64" cy="1023.51" r="0.6" fill-opacity="0.59"/><circle cx="649.86" cy="1061.38" r="0.6" fill-opacity="0.72"/><circle cx="708.74" cy="958.43" r="0.6" fill-opacity="0.32"/><circle cx="742.09" cy="978.97" r="0.6" fill-opacity="0.34"/><circle cx="667.57" cy="1073.54" r="0.6" fill-opacity="0.74"/><circle cx="633.76" cy="1024.46" r="0.6" fill-opacity="0.4"/><circle cx="697.43" cy="1079.56" r="0.6" fill-opacity="0.49"/><circle cx="743.72" cy="1055.89" r="0.6" fill-opacity="0.36"/><circle cx="713.99" cy="1077.12" r="0.6" fill-opacity="0.59"/><circle cx="654.73" cy="972.13" r="0.6" fill-opacity="0.52"/><circle cx="750.79" cy="1043.76" r="0.6" fill-opacity="0.33"/><circle cx="634.23" cy="1029.81" r="0.6" fill-opacity="0.64"/><circle cx="680.92" cy="958.19" r="0.6" fill-opacity="0.62"/><circle cx="672.94" cy="960.91" r="0.6" fill-opacity="0.37"/><circle cx="746.61" cy="985.24" r="0.6" fill-opacity="0.33"/><circle cx="699.27" cy="1079.36" r="0.6" fill-opacity="0.41"/><circle cx="647.14" cy="1056.86" r="0.6" fill-opacity="0.71"/><circle cx="654.04" cy="972.79" r="0.6" fill-opacity="0.32"/><circle cx="745.63" cy="1052.42" r="0.6" fill-opacity="0.7"/></g>
<text x="673.68" y="940.1" font-size="21.3" fill="#000" style="stroke-width:0.12px">0</text>
<circle cx="832.6" cy="1018.5" r="62.8" fill="#bdbcb6"/>
<g fill="#5050b0"><circle cx="844.18" cy="1021.32" r="0.62" fill-opacity="0.67"/><circle cx="841.01" cy="1061.96" r="0.97" fill-opacity="0.52"/><circle cx="856.81" cy="1005.05" r="0.58" fill-opacity="0.21"/><circle cx="833.38" cy="1001.12" r="0.99" fill-opacity="0.55"/><circle cx="851.33" cy="1063.26" r="0.58" fill-opacity="0.46"/><circle cx="870.31" cy="1048.05" r="0.94" fill-opacity="0.66"/><circle cx="882.43" cy="1019.21" r="0.78" fill-opacity="0.61"/><circle cx="790.08" cy="1017.84" r="0.8" fill-opacity="0.6"/><circle cx="843.71" cy="1024.39" r="0.77" fill-opacity="0.35"/><circle cx="828.84" cy="1021.35" r="0.87" fill-opacity="0.21"/><circle cx="855.95" cy="975.81" r="0.73" fill-opacity="0.26"/><circle cx="818.16" cy="998.61" r="0.71" fill-opacity="0.26"/><circle cx="872.08" cy="1012.62" r="0.68" fill-opacity="0.25"/><circle cx="826.41" cy="969.1" r="0.92" fill-opacity="0.25"/><circle cx="812.59" cy="1040.47" r="0.88" fill-opacity="0.27"/><circle cx="790.68" cy="985.38" r="0.88" fill-opacity="0.2"/><circle cx="848.82" cy="1026.77" r="0.85" fill-opacity="0.5"/><circle cx="796.44" cy="1013.9" r="0.7" fill-opacity="0.51"/><circle cx="801.84" cy="976.95" r="0.87" fill-opacity="0.6"/><circle cx="874.79" cy="992.78" r="0.86" fill-opacity="0.22"/><circle cx="811.64" cy="973.33" r="0.72" fill-opacity="0.64"/><circle cx="854.98" cy="1065.92" r="0.72" fill-opacity="0.55"/><circle cx="832.11" cy="1048.1" r="0.67" fill-opacity="0.36"/><circle cx="862.36" cy="1038.65" r="0.99" fill-opacity="0.53"/><circle cx="875.54" cy="999.01" r="0.92" fill-opacity="0.7"/><circle cx="833.08" cy="990.22" r="0.62" fill-opacity="0.41"/><circle cx="858.32" cy="1021.9" r="0.94" fill-opacity="0.66"/><circle cx="810.1" cy="1060.23" r="0.89" fill-opacity="0.64"/><circle cx="843.5" cy="980.64" r="0.55" fill-opacity="0.61"/><circle cx="815.94" cy="1057.89" r="0.68" fill-opacity="0.47"/><circle cx="853.78" cy="1013.86" r="0.77" fill-opacity="0.52"/><circle cx="781.81" cy="1006" r="0.7" fill-opacity="0.66"/><circle cx="812.98" cy="969.13" r="0.54" fill-opacity="0.31"/><circle cx="820.63" cy="1068.51" r="0.51" fill-opacity="0.33"/><circle cx="821.15" cy="966.01" r="0.59" fill-opacity="0.42"/><circle cx="815.26" cy="977.1" r="0.87" fill-opacity="0.58"/><circle cx="832.86" cy="1045.89" r="0.51" fill-opacity="0.55"/><circle cx="839.57" cy="1045.11" r="0.98" fill-opacity="0.52"/><circle cx="795.83" cy="994.8" r="0.8" fill-opacity="0.55"/><circle cx="828.06" cy="1031.38" r="0.53" fill-opacity="0.21"/><circle cx="819.47" cy="1034.07" r="0.56" fill-opacity="0.45"/><circle cx="876.56" cy="1009.98" r="0.64" fill-opacity="0.58"/><circle cx="840.08" cy="1033.86" r="0.65" fill-opacity="0.4"/><circle cx="819.24" cy="985.05" r="0.86" fill-opacity="0.25"/><circle cx="861.38" cy="1005.46" r="0.92" fill-opacity="0.22"/><circle cx="844.8" cy="995.89" r="0.93" fill-opacity="0.6"/><circle cx="819" cy="993.5" r="0.5" fill-opacity="0.29"/><circle cx="850.35" cy="1006.42" r="0.83" fill-opacity="0.49"/><circle cx="820.45" cy="999.03" r="0.57" fill-opacity="0.25"/><circle cx="865.83" cy="1014.87" r="0.83" fill-opacity="0.48"/><circle cx="834.9" cy="1032.05" r="0.51" fill-opacity="0.63"/><circle cx="868.87" cy="1057.15" r="0.68" fill-opacity="0.56"/><circle cx="863.54" cy="1055.12" r="0.63" fill-opacity="0.38"/><circle cx="814.76" cy="1015.9" r="0.62" fill-opacity="0.6"/><circle cx="825.27" cy="1051.01" r="0.88" fill-opacity="0.31"/><circle cx="841.32" cy="1042.22" r="0.69" fill-opacity="0.38"/><circle cx="809.21" cy="989.71" r="0.93" fill-opacity="0.23"/><circle cx="807.09" cy="976.2" r="0.62" fill-opacity="0.21"/><circle cx="815.58" cy="1025.44" r="0.73" fill-opacity="0.56"/><circle cx="848.01" cy="1028.8" r="0.74" fill-opacity="0.29"/><circle cx="836.92" cy="1054.07" r="0.56" fill-opacity="0.23"/><circle cx="808.82" cy="1046.83" r="0.97" fill-opacity="0.48"/><circle cx="855.54" cy="1029.56" r="0.87" fill-opacity="0.48"/><circle cx="868.92" cy="979.93" r="0.93" fill-opacity="0.26"/><circle cx="869.3" cy="1004.94" r="0.62" fill-opacity="0.29"/><circle cx="849.02" cy="999.8" r="0.54" fill-opacity="0.33"/><circle cx="865.18" cy="1001.67" r="0.87" fill-opacity="0.24"/><circle cx="803.47" cy="1027.36" r="0.6" fill-opacity="0.53"/><circle cx="820.58" cy="1032.8" r="0.99" fill-opacity="0.44"/><circle cx="835" cy="1023.6" r="0.83" fill-opacity="0.46"/><circle cx="869.2" cy="1024.17" r="0.87" fill-opacity="0.47"/><circle cx="836.41" cy="1056.46" r="0.8" fill-opacity="0.53"/><circle cx="862.27" cy="1056.76" r="0.97" fill-opacity="0.57"/><circle cx="853.05" cy="992.92" r="0.95" fill-opacity="0.29"/><circle cx="838.64" cy="1059.82" r="0.95" fill-opacity="0.24"/><circle cx="834.71" cy="1028.51" r="0.72" fill-opacity="0.27"/><circle cx="849.39" cy="1062.12" r="0.79" fill-opacity="0.67"/><circle cx="796.27" cy="1044.21" r="0.51" fill-opacity="0.67"/><circle cx="836.55" cy="1055.59" r="0.76" fill-opacity="0.67"/><circle cx="778.88" cy="1021.17" r="0.81" fill-opacity="0.31"/><circle cx="844.81" cy="997.53" r="1" fill-opacity="0.43"/><circle cx="840.46" cy="1070.86" r="0.66" fill-opacity="0.4"/><circle cx="808.2" cy="1055.31" r="0.51" fill-opacity="0.39"/><circle cx="858.39" cy="1060.33" r="0.5" fill-opacity="0.5"/><circle cx="830.81" cy="1054.85" r="0.78" fill-opacity="0.56"/><circle cx="849.78" cy="1038.66" r="0.56" fill-opacity="0.68"/><circle cx="844.44" cy="1034.61" r="0.76" fill-opacity="0.49"/><circle cx="842.35" cy="1010.07" r="0.62" fill-opacity="0.28"/><circle cx="801.4" cy="999.89" r="0.7" fill-opacity="0.64"/><circle cx="806.21" cy="975.92" r="0.98" fill-opacity="0.33"/><circle cx="864.82" cy="1006.21" r="0.53" fill-opacity="0.66"/><circle cx="838.27" cy="1022.85" r="0.64" fill-opacity="0.34"/><circle cx="881.9" cy="1008.09" r="0.71" fill-opacity="0.46"/><circle cx="860.83" cy="979.04" r="0.83" fill-opacity="0.46"/><circle cx="852.42" cy="1036.33" r="0.83" fill-opacity="0.49"/><circle cx="848.75" cy="969.91" r="0.98" fill-opacity="0.3"/><circle cx="878.04" cy="1042.02" r="0.79" fill-opacity="0.29"/><circle cx="822.88" cy="992.98" r="0.62" fill-opacity="0.38"/><circle cx="788.65" cy="1011.86" r="0.54" fill-opacity="0.57"/><circle cx="806.25" cy="992.4" r="0.84" fill-opacity="0.6"/><circle cx="869.77" cy="1020.75" r="0.84" fill-opacity="0.55"/><circle cx="818.83" cy="1000.16" r="0.98" fill-opacity="0.59"/><circle cx="836.4" cy="1053.74" r="0.98" fill-opacity="0.3"/><circle cx="788.04" cy="1047.13" r="0.95" fill-opacity="0.32"/><circle cx="829.61" cy="986.25" r="0.83" fill-opacity="0.58"/><circle cx="850.32" cy="1036.8" r="0.61" fill-opacity="0.33"/><circle cx="852.02" cy="1022.93" r="0.7" fill-opacity="0.41"/><circle cx="868.99" cy="1037.85" r="0.97" fill-opacity="0.49"/><circle cx="804.66" cy="1054.2" r="0.72" fill-opacity="0.29"/><circle cx="825.48" cy="1019.32" r="0.84" fill-opacity="0.28"/><circle cx="796.4" cy="1057.19" r="0.88" fill-opacity="0.62"/><circle cx="805.61" cy="984.99" r="0.85" fill-opacity="0.68"/><circle cx="848.25" cy="1063.11" r="0.65" fill-opacity="0.33"/><circle cx="850.8" cy="980.79" r="0.92" fill-opacity="0.64"/><circle cx="812.2" cy="1005.77" r="0.51" fill-opacity="0.47"/><circle cx="828.3" cy="990.64" r="0.54" fill-opacity="0.2"/><circle cx="853.5" cy="1058.41" r="0.5" fill-opacity="0.31"/><circle cx="828.28" cy="1063.84" r="0.99" fill-opacity="0.21"/><circle cx="871.93" cy="1052.84" r="0.98" fill-opacity="0.27"/><circle cx="812.66" cy="1052.05" r="0.66" fill-opacity="0.41"/><circle cx="805.38" cy="1022.14" r="0.53" fill-opacity="0.24"/><circle cx="841.13" cy="1032.42" r="0.81" fill-opacity="0.55"/><circle cx="828.69" cy="1066.4" r="0.86" fill-opacity="0.37"/><circle cx="809.19" cy="1019.71" r="0.96" fill-opacity="0.48"/><circle cx="852.7" cy="1025.21" r="0.85" fill-opacity="0.39"/><circle cx="827.28" cy="993.19" r="0.9" fill-opacity="0.6"/><circle cx="866.92" cy="1041.57" r="0.6" fill-opacity="0.55"/><circle cx="848.59" cy="973.2" r="0.62" fill-opacity="0.25"/><circle cx="811.6" cy="983.76" r="0.57" fill-opacity="0.3"/><circle cx="817.19" cy="1009.71" r="0.82" fill-opacity="0.32"/><circle cx="830.72" cy="1053.6" r="0.77" fill-opacity="0.56"/><circle cx="877.7" cy="1027.37" r="0.61" fill-opacity="0.35"/><circle cx="803.93" cy="983.94" r="0.81" fill-opacity="0.65"/><circle cx="841.07" cy="1047.41" r="0.83" fill-opacity="0.33"/><circle cx="846.73" cy="1039.96" r="0.89" fill-opacity="0.61"/><circle cx="821.48" cy="966.8" r="0.9" fill-opacity="0.35"/><circle cx="814.26" cy="1060.54" r="0.53" fill-opacity="0.5"/><circle cx="842.74" cy="1024.86" r="0.76" fill-opacity="0.28"/><circle cx="878.59" cy="997.44" r="0.73" fill-opacity="0.3"/><circle cx="860.7" cy="1044.75" r="0.76" fill-opacity="0.38"/><circle cx="824.35" cy="980.09" r="0.89" fill-opacity="0.25"/><circle cx="863" cy="1032.82" r="0.74" fill-opacity="0.33"/><circle cx="820.14" cy="996.32" r="0.66" fill-opacity="0.44"/><circle cx="821.49" cy="972.42" r="0.69" fill-opacity="0.42"/><circle cx="879.48" cy="995.56" r="0.81" fill-opacity="0.25"/><circle cx="791.16" cy="1030.33" r="0.64" fill-opacity="0.22"/><circle cx="883.75" cy="1012.42" r="0.56" fill-opacity="0.43"/><circle cx="810.95" cy="998.34" r="0.53" fill-opacity="0.58"/><circle cx="837.25" cy="983.09" r="0.54" fill-opacity="0.4"/><circle cx="876.63" cy="1048.03" r="0.53" fill-opacity="0.34"/><circle cx="834.83" cy="998.78" r="0.55" fill-opacity="0.24"/><circle cx="852.87" cy="1052.27" r="0.92" fill-opacity="0.28"/><circle cx="854.39" cy="1060.41" r="0.71" fill-opacity="0.37"/><circle cx="851.62" cy="1037.11" r="0.99" fill-opacity="0.26"/><circle cx="829.81" cy="1064.9" r="0.95" fill-opacity="0.65"/><circle cx="780.55" cy="1027.49" r="0.8" fill-opacity="0.34"/><circle cx="787.99" cy="1028.4" r="0.87" fill-opacity="0.26"/><circle cx="850.93" cy="1068.09" r="0.55" fill-opacity="0.61"/><circle cx="818.36" cy="1041.31" r="0.63" fill-opacity="0.43"/><circle cx="853.38" cy="1017.27" r="0.93" fill-opacity="0.36"/><circle cx="854.33" cy="1059.73" r="0.67" fill-opacity="0.29"/><circle cx="789.94" cy="1042.51" r="0.93" fill-opacity="0.49"/><circle cx="879.69" cy="1021.59" r="0.8" fill-opacity="0.65"/><circle cx="862.09" cy="1009.33" r="0.92" fill-opacity="0.61"/><circle cx="829.33" cy="1051" r="0.69" fill-opacity="0.38"/><circle cx="819.66" cy="1030.92" r="0.61" fill-opacity="0.65"/><circle cx="796.16" cy="1041.44" r="0.94" fill-opacity="0.58"/><circle cx="834.43" cy="1070.26" r="0.9" fill-opacity="0.7"/><circle cx="826.15" cy="972.02" r="0.91" fill-opacity="0.33"/><circle cx="814.03" cy="990.83" r="0.92" fill-opacity="0.27"/><circle cx="772.66" cy="1003.46" r="0.6" fill-opacity="0.71"/><circle cx="798.12" cy="1069.05" r="0.6" fill-opacity="0.72"/><circle cx="877.51" cy="975.71" r="0.6" fill-opacity="0.77"/><circle cx="830.38" cy="957.15" r="0.6" fill-opacity="0.63"/><circle cx="891" cy="1036.67" r="0.6" fill-opacity="0.57"/><circle cx="773.19" cy="1035.48" r="0.6" fill-opacity="0.69"/><circle cx="844.9" cy="958.59" r="0.6" fill-opacity="0.41"/><circle cx="799.29" cy="1070.67" r="0.6" fill-opacity="0.35"/><circle cx="803.64" cy="1073.51" r="0.6" fill-opacity="0.7"/><circle cx="841.51" cy="1079.97" r="0.6" fill-opacity="0.33"/><circle cx="829.14" cy="956.63" r="0.6" fill-opacity="0.53"/><circle cx="782.64" cy="1053.92" r="0.6" fill-opacity="0.78"/><circle cx="810.02" cy="1075.64" r="0.6" fill-opacity="0.75"/><circle cx="772.53" cy="1029.77" r="0.6" fill-opacity="0.67"/><circle cx="809.55" cy="1075.14" r="0.6" fill-opacity="0.59"/><circle cx="880.98" cy="1056.46" r="0.6" fill-opacity="0.71"/><circle cx="771.4" cy="1011.34" r="0.6" fill-opacity="0.51"/><circle cx="877.48" cy="976.6" r="0.6" fill-opacity="0.4"/><circle cx="792.53" cy="1065.5" r="0.6" fill-opacity="0.78"/><circle cx="811.91" cy="960" r="0.6" fill-opacity="0.76"/><circle cx="892.62" cy="1031.87" r="0.6" fill-opacity="0.52"/><circle cx="820.08" cy="958.1" r="0.6" fill-opacity="0.35"/><circle cx="772.06" cy="1009.43" r="0.6" fill-opacity="0.69"/><circle cx="794.15" cy="1067.05" r="0.6" fill-opacity="0.67"/><circle cx="852.38" cy="959.81" r="0.6" fill-opacity="0.74"/><circle cx="894.21" cy="1015.57" r="0.6" fill-opacity="0.49"/><circle cx="817.35" cy="959.35" r="0.6" fill-opacity="0.4"/><circle cx="812.85" cy="1077.06" r="0.6" fill-opacity="0.67"/><circle cx="856.4" cy="1075.26" r="0.6" fill-opacity="0.55"/><circle cx="802.19" cy="964.44" r="0.6" fill-opacity="0.78"/><circle cx="894.13" cy="1018.48" r="0.6" fill-opacity="0.7"/><circle cx="857.45" cy="1074.33" r="0.6" fill-opacity="0.58"/><circle cx="836.26" cy="957.45" r="0.6" fill-opacity="0.48"/><circle cx="887.62" cy="990.02" r="0.6" fill-opacity="0.31"/><circle cx="771.49" cy="1017.58" r="0.6" fill-opacity="0.75"/><circle cx="891.74" cy="1001.3" r="0.6" fill-opacity="0.77"/><circle cx="774.92" cy="995.68" r="0.6" fill-opacity="0.62"/><circle cx="852.91" cy="960.25" r="0.6" fill-opacity="0.6"/><circle cx="829.05" cy="1080.27" r="0.6" fill-opacity="0.51"/><circle cx="771.17" cy="1013.38" r="0.6" fill-opacity="0.35"/><circle cx="894.35" cy="1020.7" r="0.6" fill-opacity="0.66"/><circle cx="831.96" cy="956.59" r="0.6" fill-opacity="0.43"/><circle cx="770.95" cy="1012.02" r="0.6" fill-opacity="0.6"/><circle cx="883.65" cy="983.4" r="0.6" fill-opacity="0.59"/><circle cx="821.41" cy="958.23" r="0.6" fill-opacity="0.66"/><circle cx="817.43" cy="958.52" r="0.6" fill-opacity="0.72"/><circle cx="887.98" cy="990.32" r="0.6" fill-opacity="0.77"/><circle cx="774.5" cy="1040.4" r="0.6" fill-opacity="0.33"/><circle cx="850.42" cy="959.76" r="0.6" fill-opacity="0.37"/><circle cx="773.1" cy="1033.79" r="0.6" fill-opacity="0.8"/><circle cx="801.06" cy="1071.04" r="0.6" fill-opacity="0.42"/><circle cx="852.18" cy="1077.33" r="0.6" fill-opacity="0.51"/><circle cx="787.05" cy="976.68" r="0.6" fill-opacity="0.38"/><circle cx="844.81" cy="1079.39" r="0.6" fill-opacity="0.4"/><circle cx="807.86" cy="1074.91" r="0.6" fill-opacity="0.39"/><circle cx="771.43" cy="1026.34" r="0.6" fill-opacity="0.79"/><circle cx="771.76" cy="1023.77" r="0.6" fill-opacity="0.54"/><circle cx="852.35" cy="1076.73" r="0.6" fill-opacity="0.37"/><circle cx="862.8" cy="1072.78" r="0.6" fill-opacity="0.65"/><circle cx="892.99" cy="1005.79" r="0.6" fill-opacity="0.48"/></g>
<text x="794.25" y="940.1" font-size="21.3" fill="#000" style="stroke-width:0.12px">1:200</text>
<circle cx="971.5" cy="1018.5" r="62.8" fill="#b0afaa"/>
<g fill="#5050b0"><circle cx="942.93" cy="1033.02" r="0.85" fill-opacity="0.4"/><circle cx="1000.42" cy="1059.55" r="0.79" fill-opacity="0.2"/><circle cx="998.48" cy="981.12" r="0.68" fill-opacity="0.51"/><circle cx="1001.52" cy="1002.05" r="0.72" fill-opacity="0.35"/><circle cx="930.06" cy="1003.81" r="0.87" fill-opacity="0.67"/><circle cx="991.47" cy="1044.35" r="0.93" fill-opacity="0.6"/><circle cx="933.98" cy="994.68" r="0.67" fill-opacity="0.67"/><circle cx="938.87" cy="1008.04" r="0.59" fill-opacity="0.26"/><circle cx="1010.15" cy="989.49" r="0.51" fill-opacity="0.36"/><circle cx="933.79" cy="1023.36" r="0.68" fill-opacity="0.65"/><circle cx="948.38" cy="1050.39" r="0.96" fill-opacity="0.52"/><circle cx="940.68" cy="1023" r="0.69" fill-opacity="0.5"/><circle cx="977.68" cy="991.63" r="0.69" fill-opacity="0.39"/><circle cx="937.9" cy="1057.66" r="0.77" fill-opacity="0.34"/><circle cx="947.28" cy="1061.04" r="0.58" fill-opacity="0.54"/><circle cx="995.01" cy="1021.73" r="0.53" fill-opacity="0.6"/><circle cx="987.06" cy="1039.06" r="0.53" fill-opacity="0.33"/><circle cx="966.73" cy="972.92" r="0.96" fill-opacity="0.67"/><circle cx="922.27" cy="1002.2" r="0.54" fill-opacity="0.66"/><circle cx="949.79" cy="1028.05" r="0.87" fill-opacity="0.63"/><circle cx="959.08" cy="1029.34" r="0.94" fill-opacity="0.58"/><circle cx="927.73" cy="987.95" r="0.52" fill-opacity="0.23"/><circle cx="977.17" cy="1024.11" r="0.85" fill-opacity="0.52"/><circle cx="988.05" cy="1032.6" r="0.59" fill-opacity="0.5"/><circle cx="946.61" cy="971.5" r="0.68" fill-opacity="0.69"/><circle cx="940.56" cy="1032.02" r="0.63" fill-opacity="0.32"/><circle cx="1024.69" cy="1009.94" r="0.85" fill-opacity="0.29"/><circle cx="980.48" cy="1037.56" r="0.68" fill-opacity="0.57"/><circle cx="1008.16" cy="1032.73" r="0.84" fill-opacity="0.22"/><circle cx="926.89" cy="1036.3" r="0.79" fill-opacity="0.43"/><circle cx="1002.27" cy="990.1" r="0.67" fill-opacity="0.4"/><circle cx="1018.43" cy="1001.05" r="0.96" fill-opacity="0.48"/><circle cx="985.63" cy="1036.13" r="0.69" fill-opacity="0.55"/><circle cx="1019.85" cy="1019.9" r="0.89" fill-opacity="0.46"/><circle cx="1019.72" cy="1020.2" r="0.71" fill-opacity="0.53"/><circle cx="929.78" cy="998.91" r="0.7" fill-opacity="0.68"/><circle cx="1021.53" cy="1004.14" r="0.81" fill-opacity="0.36"/><circle cx="951.5" cy="1038.11" r="0.95" fill-opacity="0.6"/><circle cx="983.11" cy="970.95" r="1" fill-opacity="0.54"/><circle cx="951.95" cy="1061.25" r="0.63" fill-opacity="0.51"/><circle cx="998.71" cy="1060.47" r="0.74" fill-opacity="0.34"/><circle cx="985.27" cy="1011.25" r="0.97" fill-opacity="0.58"/><circle cx="999.41" cy="1056.46" r="0.79" fill-opacity="0.65"/><circle cx="941.29" cy="1000.24" r="0.97" fill-opacity="0.24"/><circle cx="974.43" cy="1001.43" r="0.64" fill-opacity="0.26"/><circle cx="996.28" cy="992.53" r="0.86" fill-opacity="0.33"/><circle cx="966.14" cy="975.33" r="0.55" fill-opacity="0.45"/><circle cx="967.09" cy="993.88" r="0.83" fill-opacity="0.34"/><circle cx="935.92" cy="1056.15" r="0.97" fill-opacity="0.7"/><circle cx="934.91" cy="1036.64" r="0.9" fill-opacity="0.58"/><circle cx="923.2" cy="1032.13" r="0.7" fill-opacity="0.68"/><circle cx="953.17" cy="1021.67" r="0.87" fill-opacity="0.27"/><circle cx="966.15" cy="1007.21" r="0.99" fill-opacity="0.47"/><circle cx="970.32" cy="998.98" r="0.82" fill-opacity="0.39"/><circle cx="971.77" cy="1067.25" r="0.52" fill-opacity="0.44"/><circle cx="1023.79" cy="1050.26" r="0.6" fill-opacity="0.75"/><circle cx="1031.71" cy="1031.72" r="0.6" fill-opacity="0.53"/><circle cx="959.52" cy="958.36" r="0.6" fill-opacity="0.47"/><circle cx="1028.03" cy="993.1" r="0.6" fill-opacity="0.37"/><circle cx="996.04" cy="961.5" r="0.6" fill-opacity="0.39"/><circle cx="909.7" cy="1018.44" r="0.6" fill-opacity="0.38"/><circle cx="1027.25" cy="992.23" r="0.6" fill-opacity="0.69"/><circle cx="971.43" cy="1079.6" r="0.6" fill-opacity="0.41"/><circle cx="1022.65" cy="984.41" r="0.6" fill-opacity="0.79"/><circle cx="979.65" cy="957.6" r="0.6" fill-opacity="0.57"/><circle cx="1009.25" cy="969.73" r="0.6" fill-opacity="0.35"/><circle cx="1023.96" cy="986.92" r="0.6" fill-opacity="0.64"/><circle cx="969.45" cy="956.61" r="0.6" fill-opacity="0.53"/><circle cx="998.5" cy="963.75" r="0.6" fill-opacity="0.76"/><circle cx="1004.23" cy="1070.43" r="0.6" fill-opacity="0.58"/><circle cx="920.19" cy="1053.3" r="0.6" fill-opacity="0.37"/><circle cx="910.96" cy="1029.94" r="0.6" fill-opacity="0.43"/><circle cx="930.04" cy="1063.97" r="0.6" fill-opacity="0.68"/><circle cx="919.02" cy="985.48" r="0.6" fill-opacity="0.74"/><circle cx="930.36" cy="1063.61" r="0.6" fill-opacity="0.79"/></g>
<text x="932.75" y="940.1" font-size="21.3" fill="#000" style="stroke-width:0.12px">1:100</text>
<circle cx="1109.7" cy="1018.5" r="62.8" fill="#b5b4af"/>
<g fill="#5050b0"><circle cx="1135.9" cy="1050.31" r="0.98" fill-opacity="0.39"/><circle cx="1080.78" cy="1009.61" r="0.51" fill-opacity="0.3"/><circle cx="1130.19" cy="1038.73" r="0.81" fill-opacity="0.48"/><circle cx="1152.07" cy="1004.21" r="0.68" fill-opacity="0.67"/><circle cx="1083.19" cy="988.8" r="0.93" fill-opacity="0.53"/><circle cx="1082.86" cy="1050.8" r="0.65" fill-opacity="0.68"/><circle cx="1111.64" cy="1071.74" r="0.53" fill-opacity="0.2"/><circle cx="1086.56" cy="1010.47" r="0.75" fill-opacity="0.26"/><circle cx="1132.62" cy="980.74" r="0.84" fill-opacity="0.66"/><circle cx="1154.12" cy="1016.3" r="0.86" fill-opacity="0.2"/><circle cx="1143.3" cy="1029.24" r="0.98" fill-opacity="0.36"/><circle cx="1105.08" cy="1016.38" r="0.71" fill-opacity="0.65"/><circle cx="1068.22" cy="992.35" r="0.51" fill-opacity="0.3"/><circle cx="1130.89" cy="1062.98" r="0.55" fill-opacity="0.67"/><circle cx="1104.15" cy="1068.87" r="0.76" fill-opacity="0.36"/><circle cx="1143.31" cy="1011.3" r="0.85" fill-opacity="0.23"/><circle cx="1135.59" cy="971.69" r="0.56" fill-opacity="0.57"/><circle cx="1107.04" cy="1039.1" r="0.68" fill-opacity="0.53"/><circle cx="1161.27" cy="1003.01" r="1" fill-opacity="0.51"/><circle cx="1097.34" cy="1000.69" r="0.86" fill-opacity="0.48"/><circle cx="1071.04" cy="1065.84" r="0.6" fill-opacity="0.43"/><circle cx="1148.73" cy="1066.69" r="0.6" fill-opacity="0.37"/><circle cx="1057.69" cy="986.16" r="0.6" fill-opacity="0.38"/><circle cx="1048.2" cy="1017.42" r="0.6" fill-opacity="0.58"/><circle cx="1057.18" cy="1050.59" r="0.6" fill-opacity="0.31"/><circle cx="1167.33" cy="1040.52" r="0.6" fill-opacity="0.42"/><circle cx="1112.36" cy="956.65" r="0.6" fill-opacity="0.71"/><circle cx="1113.02" cy="1080.5" r="0.6" fill-opacity="0.54"/><circle cx="1062.7" cy="1058.63" r="0.6" fill-opacity="0.68"/><circle cx="1120.32" cy="1078.97" r="0.6" fill-opacity="0.72"/></g>
<text x="1077.48" y="940.1" font-size="21.3" fill="#000" style="stroke-width:0.12px">1:50</text>
<circle cx="1289.2" cy="1018.5" r="62.8" fill="#bbbab4"/>
<g fill="#5050b0"><circle cx="1252.58" cy="1029.73" r="0.96" fill-opacity="0.5"/><circle cx="1295.19" cy="1031.42" r="0.54" fill-opacity="0.37"/><circle cx="1326.1" cy="1041.54" r="0.71" fill-opacity="0.35"/><circle cx="1237.08" cy="1014.51" r="0.62" fill-opacity="0.28"/><circle cx="1278.72" cy="1047.41" r="0.95" fill-opacity="0.55"/><circle cx="1269.36" cy="1028.01" r="0.52" fill-opacity="0.26"/><circle cx="1314.2" cy="982.93" r="0.58" fill-opacity="0.51"/><circle cx="1325.09" cy="1032.29" r="0.67" fill-opacity="0.25"/><circle cx="1287.05" cy="972.83" r="0.76" fill-opacity="0.28"/><circle cx="1271.99" cy="987.39" r="0.83" fill-opacity="0.25"/><circle cx="1291.84" cy="1016.65" r="0.61" fill-opacity="0.4"/><circle cx="1294.3" cy="1033.67" r="0.84" fill-opacity="0.7"/><circle cx="1275.02" cy="1042.49" r="0.84" fill-opacity="0.31"/><circle cx="1252.82" cy="1044.67" r="0.72" fill-opacity="0.28"/><circle cx="1325.16" cy="1035.55" r="1" fill-opacity="0.66"/><circle cx="1320.18" cy="1040.98" r="0.74" fill-opacity="0.3"/><circle cx="1270.85" cy="985.2" r="0.9" fill-opacity="0.35"/><circle cx="1333.8" cy="998.83" r="0.74" fill-opacity="0.27"/><circle cx="1270.05" cy="1020.47" r="0.84" fill-opacity="0.55"/><circle cx="1242.14" cy="993.34" r="0.52" fill-opacity="0.56"/><circle cx="1294.9" cy="1001.27" r="0.66" fill-opacity="0.23"/><circle cx="1249.38" cy="995.62" r="0.67" fill-opacity="0.55"/><circle cx="1258.69" cy="1052.36" r="0.64" fill-opacity="0.69"/><circle cx="1286.2" cy="1019.73" r="0.55" fill-opacity="0.56"/><circle cx="1317.64" cy="986.12" r="0.58" fill-opacity="0.64"/><circle cx="1285.41" cy="1000.57" r="0.69" fill-opacity="0.54"/><circle cx="1300.31" cy="1018.75" r="0.68" fill-opacity="0.64"/><circle cx="1319.66" cy="1017.8" r="0.95" fill-opacity="0.59"/><circle cx="1316.61" cy="987.45" r="0.98" fill-opacity="0.52"/><circle cx="1327.66" cy="1005.42" r="0.6" fill-opacity="0.46"/><circle cx="1258.01" cy="1021.85" r="0.69" fill-opacity="0.46"/><circle cx="1267.52" cy="1005.11" r="0.64" fill-opacity="0.45"/><circle cx="1254.26" cy="1017.65" r="0.83" fill-opacity="0.29"/><circle cx="1261.4" cy="1012.87" r="0.89" fill-opacity="0.55"/><circle cx="1296.73" cy="980.39" r="0.62" fill-opacity="0.66"/><circle cx="1256.2" cy="1016.25" r="0.65" fill-opacity="0.4"/><circle cx="1276.66" cy="971.27" r="0.74" fill-opacity="0.57"/><circle cx="1297.58" cy="1053.83" r="0.68" fill-opacity="0.35"/><circle cx="1259.42" cy="1054.75" r="0.87" fill-opacity="0.3"/><circle cx="1294.06" cy="1066.09" r="0.83" fill-opacity="0.54"/><circle cx="1259.51" cy="984.72" r="0.64" fill-opacity="0.23"/><circle cx="1282.98" cy="1025.96" r="0.98" fill-opacity="0.46"/><circle cx="1263.68" cy="971.94" r="0.9" fill-opacity="0.31"/><circle cx="1279.96" cy="1033.71" r="0.9" fill-opacity="0.57"/><circle cx="1256.48" cy="1021.04" r="0.63" fill-opacity="0.44"/><circle cx="1277.13" cy="968.84" r="0.92" fill-opacity="0.63"/><circle cx="1256.67" cy="1031.56" r="0.66" fill-opacity="0.69"/><circle cx="1297.92" cy="1038.1" r="0.64" fill-opacity="0.66"/><circle cx="1307.91" cy="993.66" r="0.93" fill-opacity="0.65"/><circle cx="1267.95" cy="1028.96" r="0.89" fill-opacity="0.39"/><circle cx="1326.75" cy="1053.47" r="0.72" fill-opacity="0.4"/><circle cx="1266.66" cy="1003.12" r="0.51" fill-opacity="0.4"/><circle cx="1285.07" cy="1022.41" r="0.69" fill-opacity="0.58"/><circle cx="1267.03" cy="1057.11" r="0.81" fill-opacity="0.29"/><circle cx="1333.19" cy="1024.16" r="0.81" fill-opacity="0.35"/><circle cx="1304.58" cy="1066.02" r="0.95" fill-opacity="0.32"/><circle cx="1254.09" cy="997.44" r="0.66" fill-opacity="0.22"/><circle cx="1269.44" cy="1057.09" r="0.8" fill-opacity="0.46"/><circle cx="1307.11" cy="1035.82" r="0.66" fill-opacity="0.41"/><circle cx="1255.71" cy="1057.36" r="0.56" fill-opacity="0.69"/><circle cx="1292.22" cy="1068.39" r="0.62" fill-opacity="0.49"/><circle cx="1281.66" cy="1025.84" r="0.9" fill-opacity="0.61"/><circle cx="1283.48" cy="1065.74" r="0.74" fill-opacity="0.69"/><circle cx="1320.58" cy="1029.66" r="0.61" fill-opacity="0.51"/><circle cx="1297.85" cy="969.7" r="0.77" fill-opacity="0.39"/><circle cx="1294.56" cy="1001.88" r="0.63" fill-opacity="0.58"/><circle cx="1239.11" cy="1038.18" r="0.55" fill-opacity="0.43"/><circle cx="1289.78" cy="1020.93" r="0.55" fill-opacity="0.25"/><circle cx="1265.06" cy="1044.56" r="0.75" fill-opacity="0.34"/><circle cx="1277.67" cy="981.45" r="0.99" fill-opacity="0.28"/><circle cx="1251.34" cy="1015.97" r="0.69" fill-opacity="0.63"/><circle cx="1301.93" cy="1067.47" r="0.68" fill-opacity="0.37"/><circle cx="1258.76" cy="991.73" r="0.64" fill-opacity="0.24"/><circle cx="1320.73" cy="1009.39" r="0.56" fill-opacity="0.53"/><circle cx="1258.91" cy="1012.33" r="0.66" fill-opacity="0.62"/><circle cx="1270.76" cy="1048.12" r="0.98" fill-opacity="0.38"/><circle cx="1271.45" cy="1031.05" r="0.83" fill-opacity="0.53"/><circle cx="1256.73" cy="1029.88" r="0.62" fill-opacity="0.59"/><circle cx="1241.71" cy="1031.57" r="0.69" fill-opacity="0.57"/><circle cx="1314.1" cy="1023.05" r="0.98" fill-opacity="0.54"/><circle cx="1272.06" cy="984.5" r="0.74" fill-opacity="0.3"/><circle cx="1309.38" cy="1056.9" r="0.85" fill-opacity="0.33"/><circle cx="1276.94" cy="1002.79" r="0.81" fill-opacity="0.29"/><circle cx="1258.99" cy="1016.69" r="0.78" fill-opacity="0.27"/><circle cx="1247.02" cy="1022.92" r="0.57" fill-opacity="0.35"/><circle cx="1271.89" cy="982.53" r="0.81" fill-opacity="0.59"/><circle cx="1266.27" cy="1007.45" r="0.72" fill-opacity="0.62"/><circle cx="1246.38" cy="999.43" r="0.68" fill-opacity="0.42"/><circle cx="1337.29" cy="1009.26" r="0.83" fill-opacity="0.25"/><circle cx="1281.69" cy="1012.14" r="0.97" fill-opacity="0.69"/><circle cx="1285.37" cy="990.83" r="0.92" fill-opacity="0.29"/><circle cx="1307.52" cy="984.1" r="0.51" fill-opacity="0.65"/><circle cx="1243.44" cy="1036.61" r="0.84" fill-opacity="0.47"/><circle cx="1305" cy="999.99" r="0.95" fill-opacity="0.37"/><circle cx="1320.11" cy="1023.6" r="0.53" fill-opacity="0.24"/><circle cx="1275.86" cy="1005.3" r="0.58" fill-opacity="0.35"/><circle cx="1279.89" cy="1069.46" r="0.95" fill-opacity="0.64"/><circle cx="1324.96" cy="1016.21" r="0.9" fill-opacity="0.34"/><circle cx="1332.73" cy="996.83" r="0.87" fill-opacity="0.31"/><circle cx="1332.8" cy="1046.74" r="0.78" fill-opacity="0.51"/><circle cx="1302.44" cy="1002.9" r="0.85" fill-opacity="0.43"/><circle cx="1297.39" cy="982.96" r="0.6" fill-opacity="0.68"/><circle cx="1280.13" cy="1064.22" r="0.92" fill-opacity="0.32"/><circle cx="1277.69" cy="986.52" r="0.61" fill-opacity="0.31"/><circle cx="1320.62" cy="1009.17" r="0.75" fill-opacity="0.45"/><circle cx="1335.43" cy="1026.29" r="0.87" fill-opacity="0.64"/><circle cx="1273.8" cy="1037.86" r="0.67" fill-opacity="0.57"/><circle cx="1270.39" cy="989.68" r="0.76" fill-opacity="0.28"/><circle cx="1321.54" cy="1000.33" r="0.75" fill-opacity="0.59"/><circle cx="1303.97" cy="1061.96" r="0.68" fill-opacity="0.61"/><circle cx="1312.73" cy="1034.35" r="0.82" fill-opacity="0.44"/><circle cx="1259.81" cy="1047.21" r="0.61" fill-opacity="0.42"/><circle cx="1337.46" cy="1019.08" r="0.63" fill-opacity="0.62"/><circle cx="1249.54" cy="1005.02" r="0.81" fill-opacity="0.26"/><circle cx="1294.17" cy="989.74" r="0.93" fill-opacity="0.59"/><circle cx="1267.93" cy="974.62" r="0.72" fill-opacity="0.54"/><circle cx="1311.66" cy="1011.64" r="0.55" fill-opacity="0.41"/><circle cx="1268.38" cy="1017.25" r="0.61" fill-opacity="0.63"/><circle cx="1273.31" cy="1031.99" r="0.59" fill-opacity="0.49"/><circle cx="1302.91" cy="1053.11" r="0.77" fill-opacity="0.42"/><circle cx="1239.81" cy="1017.35" r="0.51" fill-opacity="0.66"/><circle cx="1292.51" cy="1028.54" r="0.88" fill-opacity="0.48"/><circle cx="1264.72" cy="1012.56" r="0.89" fill-opacity="0.35"/><circle cx="1285.47" cy="992.97" r="0.79" fill-opacity="0.52"/><circle cx="1263.31" cy="1045.51" r="0.53" fill-opacity="0.52"/><circle cx="1281.57" cy="998.77" r="0.78" fill-opacity="0.57"/><circle cx="1329.02" cy="1047.85" r="0.94" fill-opacity="0.23"/><circle cx="1289.36" cy="1034.16" r="0.63" fill-opacity="0.24"/><circle cx="1262.24" cy="1020.31" r="0.65" fill-opacity="0.43"/><circle cx="1256.03" cy="1053.14" r="0.86" fill-opacity="0.26"/><circle cx="1290.01" cy="1023.34" r="0.66" fill-opacity="0.25"/><circle cx="1273.65" cy="973.4" r="1" fill-opacity="0.3"/><circle cx="1334.95" cy="1029.23" r="0.71" fill-opacity="0.67"/><circle cx="1265.64" cy="1037.38" r="0.54" fill-opacity="0.67"/><circle cx="1253.45" cy="1015.77" r="0.72" fill-opacity="0.58"/><circle cx="1307.32" cy="985.94" r="0.59" fill-opacity="0.4"/><circle cx="1315.95" cy="996.74" r="0.83" fill-opacity="0.48"/><circle cx="1249.45" cy="1028.35" r="0.62" fill-opacity="0.48"/><circle cx="1299.27" cy="1007.04" r="0.68" fill-opacity="0.64"/><circle cx="1295.37" cy="1017.65" r="0.81" fill-opacity="0.52"/><circle cx="1309.64" cy="987.63" r="0.57" fill-opacity="0.35"/><circle cx="1278.5" cy="973.67" r="0.6" fill-opacity="0.52"/><circle cx="1264.98" cy="982" r="0.51" fill-opacity="0.42"/><circle cx="1270.25" cy="1055.69" r="0.67" fill-opacity="0.26"/><circle cx="1275.32" cy="993.12" r="0.9" fill-opacity="0.35"/><circle cx="1242.65" cy="1004.71" r="0.56" fill-opacity="0.57"/><circle cx="1336.74" cy="1040.2" r="0.51" fill-opacity="0.56"/><circle cx="1273.66" cy="1035.32" r="0.7" fill-opacity="0.45"/><circle cx="1272.94" cy="1028.12" r="0.76" fill-opacity="0.35"/><circle cx="1321.92" cy="1011.67" r="0.72" fill-opacity="0.31"/><circle cx="1319.25" cy="1012.53" r="0.82" fill-opacity="0.62"/><circle cx="1252.44" cy="1047.69" r="0.64" fill-opacity="0.25"/><circle cx="1324.12" cy="1027.98" r="0.94" fill-opacity="0.3"/><circle cx="1245.29" cy="1035.73" r="0.64" fill-opacity="0.28"/><circle cx="1254.23" cy="1014.25" r="0.97" fill-opacity="0.65"/><circle cx="1292.23" cy="1058.83" r="0.71" fill-opacity="0.22"/><circle cx="1240.65" cy="1036.21" r="0.65" fill-opacity="0.49"/><circle cx="1285.86" cy="1005.36" r="0.96" fill-opacity="0.25"/><circle cx="1274.66" cy="1061.82" r="0.51" fill-opacity="0.39"/><circle cx="1315.2" cy="1045.04" r="0.51" fill-opacity="0.28"/><circle cx="1291.86" cy="1033.69" r="0.55" fill-opacity="0.3"/><circle cx="1269.34" cy="1016.29" r="0.91" fill-opacity="0.41"/><circle cx="1288.89" cy="1045.01" r="0.92" fill-opacity="0.22"/><circle cx="1288.37" cy="1001.65" r="0.97" fill-opacity="0.4"/><circle cx="1248.17" cy="989.61" r="0.55" fill-opacity="0.23"/><circle cx="1274.82" cy="979.68" r="0.86" fill-opacity="0.34"/><circle cx="1265.87" cy="1018.96" r="0.72" fill-opacity="0.34"/><circle cx="1263.84" cy="1003.36" r="0.64" fill-opacity="0.52"/><circle cx="1330.72" cy="1043.25" r="0.75" fill-opacity="0.31"/><circle cx="1318.11" cy="1043.96" r="0.75" fill-opacity="0.56"/><circle cx="1264.86" cy="1043.19" r="0.95" fill-opacity="0.34"/><circle cx="1339.86" cy="1012.44" r="1" fill-opacity="0.67"/><circle cx="1287" cy="1067.19" r="0.81" fill-opacity="0.3"/><circle cx="1332.66" cy="1017.82" r="0.9" fill-opacity="0.48"/><circle cx="1333.25" cy="1042.54" r="0.59" fill-opacity="0.33"/><circle cx="1271.48" cy="1002.63" r="0.73" fill-opacity="0.56"/><circle cx="1325.35" cy="1043.4" r="0.55" fill-opacity="0.44"/><circle cx="1262.76" cy="982.37" r="0.52" fill-opacity="0.3"/><circle cx="1321.92" cy="1010.13" r="0.71" fill-opacity="0.39"/><circle cx="1273.78" cy="974.66" r="0.83" fill-opacity="0.4"/><circle cx="1254.07" cy="1002.09" r="0.59" fill-opacity="0.67"/><circle cx="1335.66" cy="1008.07" r="1" fill-opacity="0.43"/><circle cx="1303.27" cy="996.05" r="0.87" fill-opacity="0.56"/><circle cx="1334.88" cy="999.94" r="0.94" fill-opacity="0.33"/><circle cx="1297.88" cy="982.29" r="0.66" fill-opacity="0.38"/><circle cx="1304.19" cy="971.24" r="0.92" fill-opacity="0.53"/><circle cx="1299.43" cy="1037.19" r="0.78" fill-opacity="0.31"/><circle cx="1280.25" cy="1033.29" r="0.58" fill-opacity="0.56"/><circle cx="1297.4" cy="1067.55" r="0.66" fill-opacity="0.62"/><circle cx="1280.13" cy="1044.92" r="0.7" fill-opacity="0.21"/><circle cx="1258.6" cy="1031.62" r="0.51" fill-opacity="0.63"/><circle cx="1288.41" cy="1019.29" r="0.98" fill-opacity="0.31"/><circle cx="1289.04" cy="1026.92" r="0.55" fill-opacity="0.55"/><circle cx="1255.83" cy="999.61" r="0.62" fill-opacity="0.34"/><circle cx="1321.57" cy="1012.34" r="0.99" fill-opacity="0.64"/><circle cx="1324.46" cy="1053.58" r="0.51" fill-opacity="0.56"/><circle cx="1305.67" cy="976.58" r="0.77" fill-opacity="0.61"/><circle cx="1311.63" cy="1051.23" r="0.63" fill-opacity="0.4"/><circle cx="1305.59" cy="1060.9" r="0.79" fill-opacity="0.59"/><circle cx="1260.25" cy="988.34" r="0.96" fill-opacity="0.61"/><circle cx="1261.03" cy="1005.94" r="0.96" fill-opacity="0.39"/><circle cx="1314.18" cy="1037.16" r="0.85" fill-opacity="0.67"/><circle cx="1262.41" cy="983.65" r="0.97" fill-opacity="0.59"/><circle cx="1254.63" cy="1030.84" r="0.88" fill-opacity="0.36"/><circle cx="1321.99" cy="1045.56" r="0.9" fill-opacity="0.32"/><circle cx="1268.55" cy="971.84" r="0.56" fill-opacity="0.27"/><circle cx="1258" cy="1019.87" r="0.97" fill-opacity="0.7"/><circle cx="1243.88" cy="1034.61" r="0.82" fill-opacity="0.29"/><circle cx="1311.41" cy="1014.52" r="0.54" fill-opacity="0.43"/><circle cx="1326.41" cy="1022.69" r="0.71" fill-opacity="0.68"/><circle cx="1246.57" cy="1044.21" r="0.89" fill-opacity="0.49"/><circle cx="1291.48" cy="1048.23" r="0.75" fill-opacity="0.4"/><circle cx="1265.78" cy="988.07" r="0.66" fill-opacity="0.5"/><circle cx="1313.5" cy="1017.97" r="0.67" fill-opacity="0.21"/><circle cx="1299.77" cy="1025.57" r="0.71" fill-opacity="0.62"/><circle cx="1272.07" cy="968.25" r="0.92" fill-opacity="0.49"/><circle cx="1283.91" cy="1015.57" r="0.69" fill-opacity="0.33"/><circle cx="1279.17" cy="1008.99" r="0.77" fill-opacity="0.39"/><circle cx="1254.9" cy="1020.23" r="0.55" fill-opacity="0.57"/><circle cx="1302.2" cy="978.8" r="0.56" fill-opacity="0.5"/><circle cx="1326.17" cy="979.63" r="0.88" fill-opacity="0.22"/><circle cx="1321.02" cy="988.05" r="0.64" fill-opacity="0.66"/><circle cx="1312.71" cy="973.13" r="0.62" fill-opacity="0.49"/><circle cx="1267.92" cy="1038.76" r="0.88" fill-opacity="0.51"/><circle cx="1269.63" cy="1053.15" r="0.96" fill-opacity="0.48"/><circle cx="1323.98" cy="997.49" r="1" fill-opacity="0.21"/><circle cx="1250.33" cy="1028.49" r="0.86" fill-opacity="0.68"/><circle cx="1262.52" cy="992.38" r="0.82" fill-opacity="0.47"/><circle cx="1274.52" cy="968.04" r="0.51" fill-opacity="0.36"/><circle cx="1298.61" cy="1009.25" r="0.9" fill-opacity="0.22"/><circle cx="1260.36" cy="979.74" r="0.62" fill-opacity="0.39"/><circle cx="1295.89" cy="1063.34" r="0.76" fill-opacity="0.5"/><circle cx="1270.31" cy="1055.3" r="0.98" fill-opacity="0.59"/><circle cx="1314.83" cy="1010.48" r="0.76" fill-opacity="0.39"/><circle cx="1261.72" cy="1058.35" r="0.59" fill-opacity="0.48"/><circle cx="1297.07" cy="966.86" r="0.51" fill-opacity="0.34"/><circle cx="1236.99" cy="1020.78" r="0.58" fill-opacity="0.62"/><circle cx="1257.28" cy="1042.56" r="0.96" fill-opacity="0.23"/><circle cx="1278.99" cy="1037.21" r="0.57" fill-opacity="0.35"/><circle cx="1276.67" cy="979.31" r="0.56" fill-opacity="0.6"/><circle cx="1268.79" cy="1017.56" r="0.91" fill-opacity="0.61"/><circle cx="1300.05" cy="1069.71" r="0.91" fill-opacity="0.31"/><circle cx="1339.5" cy="1018.82" r="0.91" fill-opacity="0.25"/><circle cx="1294.1" cy="971.26" r="0.82" fill-opacity="0.62"/><circle cx="1319.98" cy="1015.55" r="0.92" fill-opacity="0.66"/><circle cx="1271.84" cy="1059.64" r="0.84" fill-opacity="0.62"/><circle cx="1263.31" cy="1006.93" r="0.63" fill-opacity="0.47"/><circle cx="1322.23" cy="1056.13" r="0.94" fill-opacity="0.32"/><circle cx="1274.78" cy="976.6" r="0.56" fill-opacity="0.59"/><circle cx="1292.26" cy="988.77" r="0.55" fill-opacity="0.34"/><circle cx="1294.2" cy="981.94" r="0.91" fill-opacity="0.28"/><circle cx="1314.22" cy="1038.29" r="0.94" fill-opacity="0.28"/><circle cx="1331.16" cy="1039.36" r="0.55" fill-opacity="0.53"/><circle cx="1312.43" cy="1031.94" r="0.83" fill-opacity="0.64"/><circle cx="1258.72" cy="1038.06" r="0.52" fill-opacity="0.37"/><circle cx="1291.59" cy="1066.4" r="0.86" fill-opacity="0.59"/><circle cx="1244.93" cy="1009.56" r="0.56" fill-opacity="0.39"/><circle cx="1281.55" cy="1046.15" r="0.87" fill-opacity="0.31"/><circle cx="1276.11" cy="1044.04" r="0.93" fill-opacity="0.52"/><circle cx="1256.16" cy="1022.54" r="0.96" fill-opacity="0.67"/><circle cx="1250.56" cy="1031.15" r="0.93" fill-opacity="0.33"/><circle cx="1288.26" cy="1035.82" r="0.75" fill-opacity="0.58"/><circle cx="1308.88" cy="1048.07" r="1" fill-opacity="0.44"/><circle cx="1252.63" cy="1051.83" r="0.95" fill-opacity="0.39"/><circle cx="1319.95" cy="1048.68" r="0.87" fill-opacity="0.66"/><circle cx="1273.16" cy="993.2" r="0.76" fill-opacity="0.34"/><circle cx="1254.35" cy="1030.8" r="0.96" fill-opacity="0.65"/><circle cx="1322.61" cy="1001.83" r="0.98" fill-opacity="0.27"/><circle cx="1327.21" cy="997.94" r="0.94" fill-opacity="0.41"/><circle cx="1297.73" cy="1018.01" r="0.92" fill-opacity="0.61"/><circle cx="1254.61" cy="1053.43" r="0.61" fill-opacity="0.58"/><circle cx="1255.25" cy="1025.32" r="0.6" fill-opacity="0.6"/><circle cx="1287.27" cy="1002.5" r="0.99" fill-opacity="0.31"/><circle cx="1264.57" cy="1043.06" r="0.79" fill-opacity="0.65"/><circle cx="1329.65" cy="1003.98" r="0.68" fill-opacity="0.25"/><circle cx="1324.52" cy="1034.8" r="0.79" fill-opacity="0.42"/><circle cx="1323.72" cy="1014.68" r="0.68" fill-opacity="0.41"/><circle cx="1313.91" cy="1064.64" r="0.8" fill-opacity="0.47"/><circle cx="1265.07" cy="1030.63" r="0.66" fill-opacity="0.45"/><circle cx="1238.77" cy="1036.2" r="0.78" fill-opacity="0.3"/><circle cx="1309.53" cy="1025.63" r="0.67" fill-opacity="0.59"/><circle cx="1309.35" cy="1001.66" r="0.89" fill-opacity="0.42"/><circle cx="1250.86" cy="1009.29" r="0.52" fill-opacity="0.23"/><circle cx="1267" cy="979.55" r="0.69" fill-opacity="0.66"/><circle cx="1301.83" cy="991.64" r="0.53" fill-opacity="0.48"/><circle cx="1274.73" cy="997.4" r="0.52" fill-opacity="0.44"/><circle cx="1334.49" cy="1028.38" r="0.81" fill-opacity="0.34"/><circle cx="1264.64" cy="1027.22" r="0.59" fill-opacity="0.29"/><circle cx="1303.78" cy="985.19" r="0.86" fill-opacity="0.37"/><circle cx="1303.77" cy="979.44" r="0.83" fill-opacity="0.4"/><circle cx="1267.37" cy="1009.57" r="0.99" fill-opacity="0.54"/><circle cx="1246.93" cy="1009.75" r="0.55" fill-opacity="0.37"/><circle cx="1295.21" cy="1067.72" r="0.51" fill-opacity="0.42"/><circle cx="1321.59" cy="983.38" r="0.86" fill-opacity="0.35"/><circle cx="1294.23" cy="1063.55" r="0.65" fill-opacity="0.56"/><circle cx="1261.52" cy="1056.61" r="0.79" fill-opacity="0.61"/><circle cx="1322.3" cy="1015.51" r="0.99" fill-opacity="0.2"/><circle cx="1295.89" cy="1012" r="0.77" fill-opacity="0.39"/><circle cx="1292.97" cy="988.42" r="0.6" fill-opacity="0.59"/><circle cx="1244.58" cy="1003.9" r="0.74" fill-opacity="0.22"/><circle cx="1297.42" cy="957.11" r="0.6" fill-opacity="0.54"/><circle cx="1351.09" cy="1018.71" r="0.6" fill-opacity="0.63"/><circle cx="1294.67" cy="957.31" r="0.6" fill-opacity="0.52"/><circle cx="1282.56" cy="957.46" r="0.6" fill-opacity="0.4"/><circle cx="1229.21" cy="1005.04" r="0.6" fill-opacity="0.66"/><circle cx="1309.14" cy="1077.02" r="0.6" fill-opacity="0.47"/><circle cx="1340.09" cy="1053.52" r="0.6" fill-opacity="0.66"/><circle cx="1234.43" cy="989.46" r="0.6" fill-opacity="0.67"/><circle cx="1334.73" cy="1059.55" r="0.6" fill-opacity="0.37"/><circle cx="1340.08" cy="1053.75" r="0.6" fill-opacity="0.56"/><circle cx="1281.52" cy="1079.15" r="0.6" fill-opacity="0.77"/><circle cx="1276.44" cy="1078.46" r="0.6" fill-opacity="0.65"/><circle cx="1231.82" cy="995.3" r="0.6" fill-opacity="0.77"/><circle cx="1349.08" cy="1001.71" r="0.6" fill-opacity="0.47"/><circle cx="1262.46" cy="1074.39" r="0.6" fill-opacity="0.52"/><circle cx="1339.08" cy="981.39" r="0.6" fill-opacity="0.72"/><circle cx="1266.69" cy="1076.47" r="0.6" fill-opacity="0.75"/><circle cx="1280.54" cy="1079.84" r="0.6" fill-opacity="0.36"/><circle cx="1247.52" cy="1064.47" r="0.6" fill-opacity="0.39"/><circle cx="1289.17" cy="1080.01" r="0.6" fill-opacity="0.52"/><circle cx="1268.33" cy="1076.43" r="0.6" fill-opacity="0.69"/><circle cx="1279.17" cy="957.53" r="0.6" fill-opacity="0.76"/><circle cx="1304.98" cy="959.03" r="0.6" fill-opacity="0.54"/><circle cx="1259.46" cy="1072.94" r="0.6" fill-opacity="0.74"/><circle cx="1240.95" cy="979.43" r="0.6" fill-opacity="0.76"/><circle cx="1336.36" cy="978.01" r="0.6" fill-opacity="0.65"/><circle cx="1293.76" cy="1079.89" r="0.6" fill-opacity="0.72"/><circle cx="1252.82" cy="1068.21" r="0.6" fill-opacity="0.63"/><circle cx="1310.98" cy="1075.96" r="0.6" fill-opacity="0.51"/><circle cx="1350.8" cy="1011.7" r="0.6" fill-opacity="0.66"/><circle cx="1349.01" cy="1034.33" r="0.6" fill-opacity="0.36"/><circle cx="1325.73" cy="1068.06" r="0.6" fill-opacity="0.39"/><circle cx="1306.44" cy="958.86" r="0.6" fill-opacity="0.61"/><circle cx="1329.05" cy="970.94" r="0.6" fill-opacity="0.41"/><circle cx="1294.96" cy="957.13" r="0.6" fill-opacity="0.77"/><circle cx="1256.81" cy="1071.04" r="0.6" fill-opacity="0.78"/><circle cx="1255.25" cy="1069.23" r="0.6" fill-opacity="0.75"/><circle cx="1308.11" cy="1077.07" r="0.6" fill-opacity="0.77"/><circle cx="1334.48" cy="1059.64" r="0.6" fill-opacity="0.69"/><circle cx="1288.95" cy="957.02" r="0.6" fill-opacity="0.35"/><circle cx="1349.17" cy="1002.45" r="0.6" fill-opacity="0.69"/><circle cx="1278.85" cy="957.55" r="0.6" fill-opacity="0.64"/><circle cx="1237.32" cy="1051.15" r="0.6" fill-opacity="0.32"/><circle cx="1345.62" cy="993.43" r="0.6" fill-opacity="0.7"/><circle cx="1228.95" cy="1029.38" r="0.6" fill-opacity="0.45"/><circle cx="1229.51" cy="1001.11" r="0.6" fill-opacity="0.54"/><circle cx="1342.95" cy="1047.69" r="0.6" fill-opacity="0.64"/><circle cx="1234.81" cy="1046.18" r="0.6" fill-opacity="0.77"/><circle cx="1349.02" cy="1001.82" r="0.6" fill-opacity="0.65"/><circle cx="1280.55" cy="957.64" r="0.6" fill-opacity="0.31"/><circle cx="1343.95" cy="990.11" r="0.6" fill-opacity="0.6"/><circle cx="1313.67" cy="961.67" r="0.6" fill-opacity="0.31"/><circle cx="1344.04" cy="989.85" r="0.6" fill-opacity="0.32"/><circle cx="1329.06" cy="1064.69" r="0.6" fill-opacity="0.67"/><circle cx="1304.66" cy="1078.57" r="0.6" fill-opacity="0.75"/><circle cx="1257.83" cy="965.6" r="0.6" fill-opacity="0.37"/><circle cx="1236.97" cy="1050.14" r="0.6" fill-opacity="0.3"/><circle cx="1234.92" cy="1048.73" r="0.6" fill-opacity="0.8"/><circle cx="1337.59" cy="1055.73" r="0.6" fill-opacity="0.72"/><circle cx="1282.07" cy="956.76" r="0.6" fill-opacity="0.65"/><circle cx="1227.65" cy="1021.22" r="0.6" fill-opacity="0.37"/><circle cx="1228.14" cy="1013.8" r="0.6" fill-opacity="0.37"/><circle cx="1333.13" cy="975.18" r="0.6" fill-opacity="0.43"/><circle cx="1293.38" cy="1080.01" r="0.6" fill-opacity="0.62"/><circle cx="1233.86" cy="992.52" r="0.6" fill-opacity="0.56"/><circle cx="1228.38" cy="1013.67" r="0.6" fill-opacity="0.41"/><circle cx="1350.67" cy="1024.93" r="0.6" fill-opacity="0.46"/><circle cx="1333.11" cy="1061.84" r="0.6" fill-opacity="0.32"/><circle cx="1343.35" cy="989.1" r="0.6" fill-opacity="0.74"/><circle cx="1269.34" cy="960.48" r="0.6" fill-opacity="0.68"/><circle cx="1269.66" cy="1076.63" r="0.6" fill-opacity="0.4"/><circle cx="1231.33" cy="997.73" r="0.6" fill-opacity="0.69"/><circle cx="1319.72" cy="1072.22" r="0.6" fill-opacity="0.71"/><circle cx="1309.71" cy="961.02" r="0.6" fill-opacity="0.36"/><circle cx="1304.57" cy="1078.64" r="0.6" fill-opacity="0.66"/><circle cx="1287.44" cy="957.1" r="0.6" fill-opacity="0.69"/><circle cx="1227.98" cy="1012.34" r="0.6" fill-opacity="0.76"/><circle cx="1252.57" cy="969.21" r="0.6" fill-opacity="0.59"/><circle cx="1227.95" cy="1020.85" r="0.6" fill-opacity="0.59"/><circle cx="1331.72" cy="1063.2" r="0.6" fill-opacity="0.51"/><circle cx="1233.16" cy="1043.9" r="0.6" fill-opacity="0.48"/><circle cx="1241.39" cy="1057.48" r="0.6" fill-opacity="0.49"/><circle cx="1350.33" cy="1007.59" r="0.6" fill-opacity="0.31"/><circle cx="1278.2" cy="957.76" r="0.6" fill-opacity="0.52"/><circle cx="1237.43" cy="984.82" r="0.6" fill-opacity="0.42"/><circle cx="1350.07" cy="1024.39" r="0.6" fill-opacity="0.77"/><circle cx="1275.41" cy="1078.58" r="0.6" fill-opacity="0.46"/><circle cx="1346.27" cy="1040.41" r="0.6" fill-opacity="0.72"/><circle cx="1292.67" cy="1080.3" r="0.6" fill-opacity="0.65"/><circle cx="1307.04" cy="959.5" r="0.6" fill-opacity="0.49"/><circle cx="1295.53" cy="1079.41" r="0.6" fill-opacity="0.73"/><circle cx="1328.15" cy="970.18" r="0.6" fill-opacity="0.6"/><circle cx="1350.28" cy="1012.8" r="0.6" fill-opacity="0.53"/><circle cx="1327.24" cy="1067.62" r="0.6" fill-opacity="0.67"/><circle cx="1344.83" cy="1044.08" r="0.6" fill-opacity="0.63"/><circle cx="1228.92" cy="1028.64" r="0.6" fill-opacity="0.77"/><circle cx="1243.05" cy="976.98" r="0.6" fill-opacity="0.59"/><circle cx="1234.78" cy="1048" r="0.6" fill-opacity="0.76"/><circle cx="1281.53" cy="956.92" r="0.6" fill-opacity="0.41"/><circle cx="1255.39" cy="1069.89" r="0.6" fill-opacity="0.46"/><circle cx="1232.33" cy="1041.18" r="0.6" fill-opacity="0.39"/><circle cx="1277.67" cy="957.78" r="0.6" fill-opacity="0.77"/><circle cx="1348.19" cy="1000.06" r="0.6" fill-opacity="0.6"/><circle cx="1336.55" cy="1058.07" r="0.6" fill-opacity="0.61"/><circle cx="1249.27" cy="971.35" r="0.6" fill-opacity="0.32"/><circle cx="1332.92" cy="1061.79" r="0.6" fill-opacity="0.39"/><circle cx="1267.98" cy="1076.18" r="0.6" fill-opacity="0.75"/><circle cx="1227.59" cy="1012.57" r="0.6" fill-opacity="0.59"/><circle cx="1279.37" cy="1078.97" r="0.6" fill-opacity="0.38"/><circle cx="1284.55" cy="1080" r="0.6" fill-opacity="0.75"/><circle cx="1320.61" cy="1071.92" r="0.6" fill-opacity="0.37"/><circle cx="1303.17" cy="1078.7" r="0.6" fill-opacity="0.5"/><circle cx="1292.94" cy="956.9" r="0.6" fill-opacity="0.54"/><circle cx="1240.45" cy="1055.62" r="0.6" fill-opacity="0.75"/><circle cx="1234.68" cy="1046.07" r="0.6" fill-opacity="0.43"/><circle cx="1350.17" cy="1009.95" r="0.6" fill-opacity="0.64"/><circle cx="1243.74" cy="1060.48" r="0.6" fill-opacity="0.37"/><circle cx="1335.62" cy="977.75" r="0.6" fill-opacity="0.65"/><circle cx="1229.5" cy="1033.53" r="0.6" fill-opacity="0.4"/><circle cx="1316.53" cy="1073.92" r="0.6" fill-opacity="0.64"/><circle cx="1229.3" cy="1001.76" r="0.6" fill-opacity="0.66"/><circle cx="1232.48" cy="1043.84" r="0.6" fill-opacity="0.43"/><circle cx="1303.82" cy="1077.94" r="0.6" fill-opacity="0.58"/><circle cx="1260.47" cy="1073.33" r="0.6" fill-opacity="0.45"/><circle cx="1277.58" cy="1079.18" r="0.6" fill-opacity="0.7"/><circle cx="1303.91" cy="958.93" r="0.6" fill-opacity="0.74"/><circle cx="1253.97" cy="967.41" r="0.6" fill-opacity="0.32"/><circle cx="1320.94" cy="1071.63" r="0.6" fill-opacity="0.56"/><circle cx="1316.1" cy="963.2" r="0.6" fill-opacity="0.51"/><circle cx="1292.21" cy="1079.45" r="0.6" fill-opacity="0.68"/><circle cx="1255.49" cy="1070.71" r="0.6" fill-opacity="0.79"/><circle cx="1286.87" cy="1079.64" r="0.6" fill-opacity="0.36"/><circle cx="1253.86" cy="967.84" r="0.6" fill-opacity="0.74"/><circle cx="1271.1" cy="1077.88" r="0.6" fill-opacity="0.4"/><circle cx="1310.13" cy="961.17" r="0.6" fill-opacity="0.62"/><circle cx="1263.49" cy="962.23" r="0.6" fill-opacity="0.44"/><circle cx="1341.38" cy="1050.13" r="0.6" fill-opacity="0.32"/><circle cx="1242.19" cy="978.41" r="0.6" fill-opacity="0.39"/><circle cx="1232.99" cy="1042.4" r="0.6" fill-opacity="0.42"/><circle cx="1320.61" cy="1071.31" r="0.6" fill-opacity="0.63"/><circle cx="1227.35" cy="1014.36" r="0.6" fill-opacity="0.74"/><circle cx="1336.76" cy="1058.27" r="0.6" fill-opacity="0.42"/><circle cx="1227.8" cy="1013.16" r="0.6" fill-opacity="0.58"/><circle cx="1280.39" cy="958.01" r="0.6" fill-opacity="0.53"/><circle cx="1348.29" cy="1034.44" r="0.6" fill-opacity="0.31"/><circle cx="1263.5" cy="1074.95" r="0.6" fill-opacity="0.6"/><circle cx="1301.56" cy="957.7" r="0.6" fill-opacity="0.45"/><circle cx="1325.61" cy="969.1" r="0.6" fill-opacity="0.35"/><circle cx="1265.38" cy="962.08" r="0.6" fill-opacity="0.5"/><circle cx="1323.62" cy="1069.35" r="0.6" fill-opacity="0.46"/><circle cx="1330.55" cy="1064.7" r="0.6" fill-opacity="0.5"/><circle cx="1332.33" cy="1062.67" r="0.6" fill-opacity="0.58"/><circle cx="1230.76" cy="998.65" r="0.6" fill-opacity="0.7"/><circle cx="1341.83" cy="1050.91" r="0.6" fill-opacity="0.77"/><circle cx="1329.4" cy="972.49" r="0.6" fill-opacity="0.68"/><circle cx="1229.48" cy="1004.86" r="0.6" fill-opacity="0.59"/><circle cx="1334.96" cy="1060.17" r="0.6" fill-opacity="0.35"/><circle cx="1332.94" cy="974.83" r="0.6" fill-opacity="0.5"/><circle cx="1228.9" cy="1003.74" r="0.6" fill-opacity="0.65"/><circle cx="1306.5" cy="959.75" r="0.6" fill-opacity="0.74"/></g>
<text x="1288.68" y="940.1" font-size="21.3" fill="#000" style="stroke-width:0.12px">0</text>
<circle cx="1427.3" cy="1018.5" r="62.8" fill="#b9b8b2"/>
<g fill="#5050b0"><circle cx="1418.85" cy="1037.28" r="0.88" fill-opacity="0.55"/><circle cx="1405.41" cy="1041.35" r="0.58" fill-opacity="0.62"/><circle cx="1380.11" cy="1030.42" r="0.67" fill-opacity="0.36"/><circle cx="1380.83" cy="1014.62" r="0.94" fill-opacity="0.38"/><circle cx="1415.36" cy="986.33" r="0.93" fill-opacity="0.58"/><circle cx="1396.72" cy="1007.43" r="0.64" fill-opacity="0.64"/><circle cx="1436.68" cy="990.18" r="0.54" fill-opacity="0.3"/><circle cx="1437.73" cy="1016.12" r="0.9" fill-opacity="0.46"/><circle cx="1389.89" cy="1005.3" r="0.71" fill-opacity="0.48"/><circle cx="1471.04" cy="1046.25" r="0.55" fill-opacity="0.27"/><circle cx="1407.07" cy="980.29" r="0.9" fill-opacity="0.55"/><circle cx="1438.43" cy="1013.32" r="0.51" fill-opacity="0.32"/><circle cx="1431.11" cy="997.75" r="0.77" fill-opacity="0.59"/><circle cx="1449.09" cy="1051.12" r="0.95" fill-opacity="0.57"/><circle cx="1397.34" cy="1040.85" r="0.64" fill-opacity="0.68"/><circle cx="1436.36" cy="974.88" r="0.65" fill-opacity="0.57"/><circle cx="1379.21" cy="1022.51" r="0.68" fill-opacity="0.64"/><circle cx="1412.83" cy="985.26" r="0.78" fill-opacity="0.6"/><circle cx="1375.26" cy="1008.86" r="0.5" fill-opacity="0.65"/><circle cx="1418.85" cy="981.67" r="0.92" fill-opacity="0.27"/><circle cx="1403.42" cy="1057.39" r="0.91" fill-opacity="0.39"/><circle cx="1470.77" cy="1016.9" r="0.52" fill-opacity="0.26"/><circle cx="1463.47" cy="1037.32" r="0.66" fill-opacity="0.33"/><circle cx="1413.01" cy="1023.38" r="0.95" fill-opacity="0.62"/><circle cx="1393.71" cy="1005.53" r="0.65" fill-opacity="0.5"/><circle cx="1396.82" cy="1062.28" r="0.98" fill-opacity="0.56"/><circle cx="1434.11" cy="1005.34" r="0.56" fill-opacity="0.37"/><circle cx="1451.94" cy="1043.5" r="0.99" fill-opacity="0.62"/><circle cx="1451.88" cy="1011.98" r="0.61" fill-opacity="0.21"/><circle cx="1425.4" cy="1031.2" r="0.76" fill-opacity="0.35"/><circle cx="1408.66" cy="982.6" r="0.8" fill-opacity="0.35"/><circle cx="1423.03" cy="973.87" r="0.86" fill-opacity="0.44"/><circle cx="1399.16" cy="1025" r="0.52" fill-opacity="0.43"/><circle cx="1409.94" cy="1002.96" r="0.93" fill-opacity="0.64"/><circle cx="1456.86" cy="979.68" r="0.74" fill-opacity="0.29"/><circle cx="1421.16" cy="1064.48" r="0.99" fill-opacity="0.26"/><circle cx="1459.38" cy="1019.76" r="0.67" fill-opacity="0.5"/><circle cx="1465.06" cy="1050.68" r="0.67" fill-opacity="0.65"/><circle cx="1413.05" cy="1044.72" r="0.59" fill-opacity="0.68"/><circle cx="1385.78" cy="992.35" r="0.53" fill-opacity="0.47"/><circle cx="1421.6" cy="965.23" r="0.97" fill-opacity="0.25"/><circle cx="1389.56" cy="1057.09" r="0.77" fill-opacity="0.68"/><circle cx="1427.11" cy="1027.13" r="0.97" fill-opacity="0.33"/><circle cx="1397.19" cy="1006.44" r="0.79" fill-opacity="0.67"/><circle cx="1475.09" cy="1001.93" r="0.63" fill-opacity="0.61"/><circle cx="1461.92" cy="1022.52" r="0.97" fill-opacity="0.33"/><circle cx="1399.63" cy="1049.02" r="0.62" fill-opacity="0.55"/><circle cx="1417.73" cy="1004.88" r="0.96" fill-opacity="0.24"/><circle cx="1416.79" cy="988.4" r="0.57" fill-opacity="0.24"/><circle cx="1475.59" cy="1017.81" r="0.73" fill-opacity="0.6"/><circle cx="1478.35" cy="1008.69" r="0.77" fill-opacity="0.34"/><circle cx="1374.16" cy="1012.29" r="0.87" fill-opacity="0.53"/><circle cx="1446.34" cy="989.69" r="0.78" fill-opacity="0.62"/><circle cx="1443.02" cy="1066.02" r="0.51" fill-opacity="0.47"/><circle cx="1408.89" cy="1009.14" r="0.96" fill-opacity="0.42"/><circle cx="1441.05" cy="1050.3" r="0.8" fill-opacity="0.41"/><circle cx="1443.71" cy="1018.8" r="0.86" fill-opacity="0.27"/><circle cx="1425.63" cy="1067" r="0.93" fill-opacity="0.64"/><circle cx="1429.08" cy="1021.96" r="0.88" fill-opacity="0.5"/><circle cx="1422.46" cy="1024.03" r="0.72" fill-opacity="0.32"/><circle cx="1381.78" cy="990.42" r="0.6" fill-opacity="0.24"/><circle cx="1421.25" cy="1001.84" r="0.61" fill-opacity="0.42"/><circle cx="1457.94" cy="1015.81" r="0.66" fill-opacity="0.44"/><circle cx="1445.23" cy="1047.69" r="0.85" fill-opacity="0.36"/><circle cx="1433.96" cy="996.29" r="0.55" fill-opacity="0.51"/><circle cx="1377.8" cy="1033.58" r="0.55" fill-opacity="0.57"/><circle cx="1411.44" cy="989.71" r="0.56" fill-opacity="0.51"/><circle cx="1429.22" cy="981.42" r="0.74" fill-opacity="0.54"/><circle cx="1400.14" cy="996.21" r="0.59" fill-opacity="0.43"/><circle cx="1378.65" cy="1002.75" r="1" fill-opacity="0.48"/><circle cx="1415.22" cy="1040.95" r="0.82" fill-opacity="0.57"/><circle cx="1427.92" cy="1063.37" r="1" fill-opacity="0.4"/><circle cx="1460.38" cy="1005.12" r="0.83" fill-opacity="0.63"/><circle cx="1436.47" cy="1048.89" r="0.99" fill-opacity="0.23"/><circle cx="1414.41" cy="1053.48" r="0.87" fill-opacity="0.52"/><circle cx="1467.27" cy="999.64" r="0.5" fill-opacity="0.24"/><circle cx="1461.85" cy="1026.59" r="0.51" fill-opacity="0.46"/><circle cx="1410.96" cy="1000.53" r="0.93" fill-opacity="0.41"/><circle cx="1458.59" cy="1010.45" r="0.81" fill-opacity="0.47"/><circle cx="1423.41" cy="1066.03" r="0.5" fill-opacity="0.32"/><circle cx="1405.49" cy="1064.3" r="0.75" fill-opacity="0.22"/><circle cx="1414.51" cy="1058.68" r="0.9" fill-opacity="0.25"/><circle cx="1433.48" cy="985.32" r="0.76" fill-opacity="0.41"/><circle cx="1377.52" cy="1038.79" r="0.96" fill-opacity="0.66"/><circle cx="1423.26" cy="973.49" r="0.57" fill-opacity="0.22"/><circle cx="1448.86" cy="979.79" r="0.82" fill-opacity="0.36"/><circle cx="1421.74" cy="1070.03" r="0.77" fill-opacity="0.21"/><circle cx="1410.12" cy="1045.38" r="0.53" fill-opacity="0.69"/><circle cx="1467.26" cy="990.58" r="0.5" fill-opacity="0.41"/><circle cx="1462.46" cy="1048.18" r="0.9" fill-opacity="0.59"/><circle cx="1432.17" cy="1000.37" r="0.51" fill-opacity="0.25"/><circle cx="1454.27" cy="977.37" r="0.76" fill-opacity="0.32"/><circle cx="1438.97" cy="1003.84" r="0.66" fill-opacity="0.2"/><circle cx="1461.89" cy="1014.76" r="0.89" fill-opacity="0.6"/><circle cx="1380.45" cy="992.36" r="0.89" fill-opacity="0.66"/><circle cx="1442.37" cy="1014.97" r="0.88" fill-opacity="0.31"/><circle cx="1413.04" cy="1046.66" r="0.99" fill-opacity="0.23"/><circle cx="1409.56" cy="1026.19" r="1" fill-opacity="0.45"/><circle cx="1415.71" cy="981.32" r="0.88" fill-opacity="0.37"/><circle cx="1387.43" cy="1042.61" r="0.85" fill-opacity="0.64"/><circle cx="1409.2" cy="1064.83" r="0.87" fill-opacity="0.49"/><circle cx="1393.22" cy="1040.69" r="0.54" fill-opacity="0.25"/><circle cx="1420.17" cy="1036.08" r="0.52" fill-opacity="0.56"/><circle cx="1422.35" cy="976.41" r="0.6" fill-opacity="0.56"/><circle cx="1446.79" cy="980.74" r="0.61" fill-opacity="0.48"/><circle cx="1405.2" cy="1035.7" r="0.57" fill-opacity="0.63"/><circle cx="1392.15" cy="979.96" r="0.59" fill-opacity="0.33"/><circle cx="1414.19" cy="1017.73" r="0.65" fill-opacity="0.47"/><circle cx="1376.13" cy="1024.38" r="0.79" fill-opacity="0.52"/><circle cx="1386.13" cy="994.1" r="0.68" fill-opacity="0.2"/><circle cx="1475.02" cy="1012.62" r="0.56" fill-opacity="0.26"/><circle cx="1434.89" cy="1061.65" r="0.57" fill-opacity="0.21"/><circle cx="1423.08" cy="1018.66" r="0.63" fill-opacity="0.39"/><circle cx="1428.05" cy="1021.08" r="0.63" fill-opacity="0.32"/><circle cx="1411.66" cy="1049.56" r="0.68" fill-opacity="0.36"/><circle cx="1476.36" cy="1024.43" r="0.87" fill-opacity="0.45"/><circle cx="1453.38" cy="1018.96" r="0.95" fill-opacity="0.43"/><circle cx="1440.85" cy="1065.49" r="0.95" fill-opacity="0.26"/><circle cx="1386.84" cy="1018.23" r="0.56" fill-opacity="0.36"/><circle cx="1394.66" cy="988.52" r="0.81" fill-opacity="0.51"/><circle cx="1417.1" cy="1028.33" r="0.51" fill-opacity="0.62"/><circle cx="1461.24" cy="979.92" r="0.54" fill-opacity="0.58"/><circle cx="1442.29" cy="1046.52" r="0.6" fill-opacity="0.63"/><circle cx="1448.02" cy="973.79" r="0.69" fill-opacity="0.67"/><circle cx="1424.71" cy="1059.34" r="0.84" fill-opacity="0.32"/><circle cx="1414.71" cy="1030.07" r="0.9" fill-opacity="0.29"/><circle cx="1445.99" cy="1039.98" r="0.82" fill-opacity="0.52"/><circle cx="1378" cy="1010.79" r="0.88" fill-opacity="0.3"/><circle cx="1405.6" cy="1013.69" r="0.62" fill-opacity="0.27"/><circle cx="1455.6" cy="1033.37" r="0.94" fill-opacity="0.53"/><circle cx="1448.83" cy="1031.74" r="0.8" fill-opacity="0.46"/><circle cx="1443.62" cy="1021.26" r="0.78" fill-opacity="0.5"/><circle cx="1468.85" cy="1041.47" r="0.62" fill-opacity="0.49"/><circle cx="1396.35" cy="1012.66" r="0.97" fill-opacity="0.4"/><circle cx="1392.14" cy="1036.92" r="0.92" fill-opacity="0.69"/><circle cx="1432.16" cy="979.16" r="0.86" fill-opacity="0.52"/><circle cx="1478.78" cy="1005.04" r="0.88" fill-opacity="0.31"/><circle cx="1394.76" cy="1003.56" r="0.62" fill-opacity="0.59"/><circle cx="1435.5" cy="1063.25" r="0.74" fill-opacity="0.41"/><circle cx="1414.94" cy="974.21" r="0.99" fill-opacity="0.7"/><circle cx="1435.86" cy="992.11" r="0.83" fill-opacity="0.45"/><circle cx="1460.91" cy="1005.3" r="0.68" fill-opacity="0.21"/><circle cx="1388.58" cy="1025.85" r="0.65" fill-opacity="0.25"/><circle cx="1413.03" cy="1019.94" r="0.59" fill-opacity="0.42"/><circle cx="1405.21" cy="1049.66" r="0.77" fill-opacity="0.39"/><circle cx="1432.2" cy="1023.95" r="0.78" fill-opacity="0.69"/><circle cx="1421.04" cy="1049.91" r="0.66" fill-opacity="0.57"/><circle cx="1379.16" cy="1020.55" r="0.5" fill-opacity="0.27"/><circle cx="1436.22" cy="1050.07" r="0.7" fill-opacity="0.39"/><circle cx="1462.26" cy="1010.84" r="0.79" fill-opacity="0.68"/><circle cx="1401.14" cy="986.09" r="0.91" fill-opacity="0.37"/><circle cx="1478.81" cy="1030.35" r="0.77" fill-opacity="0.49"/><circle cx="1469.89" cy="1037.45" r="0.69" fill-opacity="0.52"/><circle cx="1416.45" cy="1069.1" r="0.68" fill-opacity="0.34"/><circle cx="1447.33" cy="1002.74" r="0.64" fill-opacity="0.44"/><circle cx="1445.53" cy="1016.3" r="0.61" fill-opacity="0.6"/><circle cx="1458.26" cy="1034.31" r="0.89" fill-opacity="0.56"/><circle cx="1432.25" cy="1000.68" r="0.94" fill-opacity="0.38"/><circle cx="1441.86" cy="984.38" r="0.95" fill-opacity="0.44"/><circle cx="1426.27" cy="1039.44" r="0.75" fill-opacity="0.22"/><circle cx="1453.28" cy="1061.82" r="0.79" fill-opacity="0.63"/><circle cx="1449.14" cy="1048.9" r="0.73" fill-opacity="0.25"/><circle cx="1422.92" cy="1070.17" r="0.86" fill-opacity="0.45"/><circle cx="1388.59" cy="986.68" r="0.98" fill-opacity="0.5"/><circle cx="1475.23" cy="1034.19" r="0.58" fill-opacity="0.32"/><circle cx="1452.49" cy="1047.82" r="0.79" fill-opacity="0.43"/><circle cx="1407.39" cy="1022.3" r="0.86" fill-opacity="0.47"/><circle cx="1409.45" cy="1064.47" r="0.97" fill-opacity="0.66"/><circle cx="1441.42" cy="1017.16" r="0.69" fill-opacity="0.42"/><circle cx="1425.36" cy="1065.04" r="0.95" fill-opacity="0.27"/><circle cx="1374.22" cy="1016.44" r="0.94" fill-opacity="0.43"/><circle cx="1456.17" cy="1040.81" r="0.76" fill-opacity="0.59"/><circle cx="1438.47" cy="1044.78" r="0.99" fill-opacity="0.21"/><circle cx="1414.54" cy="1007.81" r="0.88" fill-opacity="0.41"/><circle cx="1450.07" cy="1006.97" r="0.94" fill-opacity="0.31"/><circle cx="1442.46" cy="1023.18" r="0.54" fill-opacity="0.39"/><circle cx="1458.97" cy="1012.86" r="0.86" fill-opacity="0.22"/><circle cx="1387.83" cy="1014.56" r="0.55" fill-opacity="0.49"/><circle cx="1398.15" cy="1028.77" r="0.92" fill-opacity="0.55"/><circle cx="1440.1" cy="1030.57" r="0.53" fill-opacity="0.33"/><circle cx="1392.55" cy="978.29" r="0.98" fill-opacity="0.63"/><circle cx="1461.41" cy="1052.35" r="0.88" fill-opacity="0.44"/><circle cx="1469.08" cy="1017.37" r="0.56" fill-opacity="0.31"/><circle cx="1456.25" cy="1049.2" r="0.81" fill-opacity="0.63"/><circle cx="1432.63" cy="1018.84" r="0.99" fill-opacity="0.33"/><circle cx="1422.82" cy="1068.58" r="0.56" fill-opacity="0.6"/><circle cx="1459.57" cy="994.03" r="0.8" fill-opacity="0.2"/><circle cx="1394.13" cy="992.23" r="0.89" fill-opacity="0.46"/><circle cx="1446.53" cy="1035.22" r="0.83" fill-opacity="0.24"/><circle cx="1448.48" cy="1035.33" r="0.9" fill-opacity="0.47"/><circle cx="1394.31" cy="1060.01" r="0.79" fill-opacity="0.32"/><circle cx="1381.51" cy="998.53" r="0.68" fill-opacity="0.42"/><circle cx="1379.86" cy="993.42" r="0.82" fill-opacity="0.29"/><circle cx="1400.66" cy="1003.41" r="0.74" fill-opacity="0.56"/><circle cx="1465.47" cy="1023.38" r="0.66" fill-opacity="0.5"/><circle cx="1443.16" cy="985.16" r="0.81" fill-opacity="0.34"/><circle cx="1425.85" cy="1057.04" r="0.77" fill-opacity="0.31"/><circle cx="1430.91" cy="980.5" r="0.68" fill-opacity="0.33"/><circle cx="1453.92" cy="974.65" r="0.97" fill-opacity="0.32"/><circle cx="1466" cy="1037.07" r="0.51" fill-opacity="0.63"/><circle cx="1413.78" cy="990.21" r="0.72" fill-opacity="0.54"/><circle cx="1444.75" cy="1046.07" r="0.89" fill-opacity="0.54"/><circle cx="1412.38" cy="1009.63" r="0.61" fill-opacity="0.33"/><circle cx="1469.66" cy="1026.98" r="0.79" fill-opacity="0.66"/><circle cx="1378.54" cy="1001.15" r="0.73" fill-opacity="0.46"/><circle cx="1420.11" cy="1054.59" r="0.97" fill-opacity="0.44"/><circle cx="1459.42" cy="1018.93" r="0.6" fill-opacity="0.51"/><circle cx="1390.11" cy="1016.34" r="0.96" fill-opacity="0.58"/><circle cx="1435.37" cy="1023.43" r="0.85" fill-opacity="0.5"/><circle cx="1405.32" cy="987.25" r="0.52" fill-opacity="0.43"/><circle cx="1458.75" cy="965.67" r="0.6" fill-opacity="0.32"/><circle cx="1470.67" cy="1061.56" r="0.6" fill-opacity="0.57"/><circle cx="1458.69" cy="1071.21" r="0.6" fill-opacity="0.76"/><circle cx="1467.95" cy="972.45" r="0.6" fill-opacity="0.7"/><circle cx="1479.84" cy="1050.73" r="0.6" fill-opacity="0.71"/><circle cx="1393.6" cy="1070.57" r="0.6" fill-opacity="0.73"/><circle cx="1409.79" cy="958.82" r="0.6" fill-opacity="0.33"/><circle cx="1370.15" cy="997.01" r="0.6" fill-opacity="0.61"/><circle cx="1471.51" cy="974.92" r="0.6" fill-opacity="0.59"/><circle cx="1453.02" cy="1074.7" r="0.6" fill-opacity="0.37"/><circle cx="1366.75" cy="1032.5" r="0.6" fill-opacity="0.63"/><circle cx="1390.27" cy="969.88" r="0.6" fill-opacity="0.68"/><circle cx="1481.7" cy="1046.45" r="0.6" fill-opacity="0.57"/><circle cx="1484.02" cy="994.45" r="0.6" fill-opacity="0.34"/><circle cx="1409.66" cy="959.07" r="0.6" fill-opacity="0.79"/><circle cx="1368.03" cy="1003.59" r="0.6" fill-opacity="0.55"/><circle cx="1398.92" cy="1072.95" r="0.6" fill-opacity="0.65"/><circle cx="1367.36" cy="1033.85" r="0.6" fill-opacity="0.51"/><circle cx="1413.69" cy="958.09" r="0.6" fill-opacity="0.38"/><circle cx="1366.2" cy="1024.67" r="0.6" fill-opacity="0.33"/><circle cx="1419.09" cy="1078.98" r="0.6" fill-opacity="0.43"/><circle cx="1435.77" cy="957.25" r="0.6" fill-opacity="0.34"/><circle cx="1366.37" cy="1023.78" r="0.6" fill-opacity="0.69"/><circle cx="1485.88" cy="1036.75" r="0.6" fill-opacity="0.61"/><circle cx="1366.28" cy="1025.31" r="0.6" fill-opacity="0.56"/><circle cx="1452.37" cy="1074.51" r="0.6" fill-opacity="0.36"/><circle cx="1404.82" cy="1075.4" r="0.6" fill-opacity="0.58"/><circle cx="1366.1" cy="1014.21" r="0.6" fill-opacity="0.55"/><circle cx="1381.39" cy="1059.48" r="0.6" fill-opacity="0.31"/><circle cx="1390.28" cy="1068.43" r="0.6" fill-opacity="0.8"/><circle cx="1478.71" cy="984.91" r="0.6" fill-opacity="0.38"/><circle cx="1465.26" cy="969.66" r="0.6" fill-opacity="0.7"/><circle cx="1391.51" cy="968.52" r="0.6" fill-opacity="0.67"/><circle cx="1420.62" cy="1079.33" r="0.6" fill-opacity="0.57"/><circle cx="1430.01" cy="957.37" r="0.6" fill-opacity="0.43"/><circle cx="1375.01" cy="1051.37" r="0.6" fill-opacity="0.34"/><circle cx="1470.86" cy="975.26" r="0.6" fill-opacity="0.54"/><circle cx="1368.62" cy="1001.33" r="0.6" fill-opacity="0.33"/><circle cx="1388.82" cy="1066.32" r="0.6" fill-opacity="0.57"/><circle cx="1365.42" cy="1019.53" r="0.6" fill-opacity="0.41"/><circle cx="1397.61" cy="964.31" r="0.6" fill-opacity="0.77"/><circle cx="1477.1" cy="983.22" r="0.6" fill-opacity="0.44"/><circle cx="1365.48" cy="1012.87" r="0.6" fill-opacity="0.48"/><circle cx="1482.26" cy="1046.31" r="0.6" fill-opacity="0.78"/><circle cx="1432.12" cy="956.92" r="0.6" fill-opacity="0.44"/><circle cx="1483.77" cy="992.57" r="0.6" fill-opacity="0.72"/><circle cx="1465.67" cy="969.65" r="0.6" fill-opacity="0.78"/><circle cx="1389.81" cy="969.45" r="0.6" fill-opacity="0.51"/><circle cx="1379.49" cy="979.7" r="0.6" fill-opacity="0.73"/><circle cx="1476.19" cy="980.68" r="0.6" fill-opacity="0.3"/><circle cx="1438.3" cy="958.07" r="0.6" fill-opacity="0.63"/><circle cx="1482.76" cy="1046.45" r="0.6" fill-opacity="0.75"/><circle cx="1386.87" cy="1065.02" r="0.6" fill-opacity="0.79"/><circle cx="1448.1" cy="1076.31" r="0.6" fill-opacity="0.33"/><circle cx="1370.46" cy="995.51" r="0.6" fill-opacity="0.38"/><circle cx="1431.04" cy="957.58" r="0.6" fill-opacity="0.71"/><circle cx="1442.71" cy="959.41" r="0.6" fill-opacity="0.66"/><circle cx="1368.8" cy="1000.49" r="0.6" fill-opacity="0.7"/><circle cx="1385.01" cy="973.99" r="0.6" fill-opacity="0.39"/><circle cx="1394.72" cy="1071.02" r="0.6" fill-opacity="0.73"/><circle cx="1439.45" cy="957.85" r="0.6" fill-opacity="0.8"/><circle cx="1485.19" cy="1041.06" r="0.6" fill-opacity="0.46"/><circle cx="1481.31" cy="1046.98" r="0.6" fill-opacity="0.48"/><circle cx="1380.6" cy="1058.01" r="0.6" fill-opacity="0.57"/><circle cx="1385.21" cy="973.42" r="0.6" fill-opacity="0.53"/><circle cx="1486.94" cy="1002.05" r="0.6" fill-opacity="0.56"/><circle cx="1365.83" cy="1026.83" r="0.6" fill-opacity="0.37"/><circle cx="1366.11" cy="1015.93" r="0.6" fill-opacity="0.52"/><circle cx="1484.22" cy="1040.65" r="0.6" fill-opacity="0.37"/><circle cx="1473.74" cy="977.2" r="0.6" fill-opacity="0.62"/><circle cx="1464.9" cy="1067.65" r="0.6" fill-opacity="0.51"/><circle cx="1429.4" cy="956.86" r="0.6" fill-opacity="0.51"/><circle cx="1376.95" cy="1053.95" r="0.6" fill-opacity="0.44"/><circle cx="1486.6" cy="1000.5" r="0.6" fill-opacity="0.37"/><circle cx="1368.38" cy="999.94" r="0.6" fill-opacity="0.66"/><circle cx="1486.81" cy="1033.58" r="0.6" fill-opacity="0.48"/><circle cx="1482.79" cy="991.21" r="0.6" fill-opacity="0.52"/><circle cx="1401.98" cy="1074.61" r="0.6" fill-opacity="0.44"/><circle cx="1397.45" cy="964.49" r="0.6" fill-opacity="0.65"/><circle cx="1411.4" cy="1078.07" r="0.6" fill-opacity="0.58"/><circle cx="1415.23" cy="958.28" r="0.6" fill-opacity="0.51"/><circle cx="1480.55" cy="1050.39" r="0.6" fill-opacity="0.37"/><circle cx="1452.33" cy="1075.2" r="0.6" fill-opacity="0.63"/><circle cx="1394.28" cy="1069.92" r="0.6" fill-opacity="0.42"/><circle cx="1428.96" cy="1080.46" r="0.6" fill-opacity="0.37"/><circle cx="1401.86" cy="962.5" r="0.6" fill-opacity="0.43"/><circle cx="1450.02" cy="961.47" r="0.6" fill-opacity="0.51"/><circle cx="1379.45" cy="980.01" r="0.6" fill-opacity="0.52"/><circle cx="1479.1" cy="1052.13" r="0.6" fill-opacity="0.77"/><circle cx="1384.28" cy="1062.36" r="0.6" fill-opacity="0.34"/></g>
<text x="1409.95" y="940.1" font-size="21.3" fill="#000" style="stroke-width:0.12px">1:200</text>
<circle cx="1565.5" cy="1018.5" r="62.8" fill="#b5b4ae"/>
<g fill="#5050b0"><circle cx="1573.04" cy="968.86" r="0.69" fill-opacity="0.39"/><circle cx="1538.46" cy="1016.3" r="0.6" fill-opacity="0.26"/><circle cx="1550.64" cy="982.93" r="0.98" fill-opacity="0.68"/><circle cx="1602.43" cy="981.2" r="0.92" fill-opacity="0.21"/><circle cx="1602.12" cy="1057.3" r="0.94" fill-opacity="0.51"/><circle cx="1539.44" cy="994.14" r="0.71" fill-opacity="0.27"/><circle cx="1538.47" cy="1010.08" r="0.56" fill-opacity="0.64"/><circle cx="1520.41" cy="995.64" r="0.65" fill-opacity="0.49"/><circle cx="1557.24" cy="1067.03" r="0.6" fill-opacity="0.52"/><circle cx="1536.5" cy="1008.08" r="0.54" fill-opacity="0.44"/><circle cx="1517.16" cy="1011.46" r="0.6" fill-opacity="0.29"/><circle cx="1548.97" cy="1063.97" r="0.62" fill-opacity="0.52"/><circle cx="1580.67" cy="1021.6" r="0.85" fill-opacity="0.45"/><circle cx="1593.71" cy="1042.66" r="0.97" fill-opacity="0.4"/><circle cx="1532.71" cy="1006.21" r="0.75" fill-opacity="0.22"/><circle cx="1595.98" cy="990.91" r="0.67" fill-opacity="0.34"/><circle cx="1585.61" cy="1066.66" r="0.92" fill-opacity="0.39"/><circle cx="1533.49" cy="994.27" r="0.6" fill-opacity="0.22"/><circle cx="1563.5" cy="996.81" r="0.78" fill-opacity="0.21"/><circle cx="1587.18" cy="1021.49" r="0.83" fill-opacity="0.51"/><circle cx="1609.31" cy="1016.05" r="0.76" fill-opacity="0.21"/><circle cx="1601.95" cy="1008.66" r="0.93" fill-opacity="0.22"/><circle cx="1584.49" cy="986.44" r="0.61" fill-opacity="0.4"/><circle cx="1602.16" cy="1037.22" r="0.61" fill-opacity="0.55"/><circle cx="1586.19" cy="1058.3" r="0.81" fill-opacity="0.56"/><circle cx="1593.44" cy="1009.51" r="0.84" fill-opacity="0.4"/><circle cx="1604.08" cy="988.19" r="0.88" fill-opacity="0.5"/><circle cx="1561.77" cy="1069.83" r="0.98" fill-opacity="0.67"/><circle cx="1539.73" cy="1060.14" r="0.84" fill-opacity="0.62"/><circle cx="1577.21" cy="984.02" r="0.7" fill-opacity="0.6"/><circle cx="1543.11" cy="985.75" r="0.94" fill-opacity="0.22"/><circle cx="1602.19" cy="1021.59" r="0.55" fill-opacity="0.62"/><circle cx="1608.64" cy="1045.18" r="0.61" fill-opacity="0.27"/><circle cx="1566.55" cy="974.05" r="0.71" fill-opacity="0.5"/><circle cx="1515.79" cy="1001.29" r="0.75" fill-opacity="0.47"/><circle cx="1531.82" cy="1026.69" r="0.85" fill-opacity="0.26"/><circle cx="1547.04" cy="969.84" r="0.88" fill-opacity="0.47"/><circle cx="1555.29" cy="1031.94" r="0.55" fill-opacity="0.47"/><circle cx="1602.16" cy="984.12" r="0.59" fill-opacity="0.57"/><circle cx="1578.65" cy="983.47" r="0.93" fill-opacity="0.29"/><circle cx="1545.67" cy="1051.77" r="0.86" fill-opacity="0.42"/><circle cx="1549.31" cy="1066.11" r="0.7" fill-opacity="0.41"/><circle cx="1571.69" cy="1055.52" r="0.85" fill-opacity="0.38"/><circle cx="1545.61" cy="986.2" r="0.51" fill-opacity="0.68"/><circle cx="1556.05" cy="1057.26" r="0.98" fill-opacity="0.3"/><circle cx="1588.03" cy="1028.07" r="0.58" fill-opacity="0.63"/><circle cx="1554.5" cy="1017.3" r="0.64" fill-opacity="0.46"/><circle cx="1579.18" cy="1045.08" r="0.95" fill-opacity="0.42"/><circle cx="1569.89" cy="1060.02" r="0.56" fill-opacity="0.46"/><circle cx="1555.87" cy="1005.61" r="0.77" fill-opacity="0.35"/><circle cx="1564.09" cy="976.14" r="0.95" fill-opacity="0.5"/><circle cx="1575.01" cy="1039.73" r="0.85" fill-opacity="0.61"/><circle cx="1597.71" cy="1031.85" r="0.64" fill-opacity="0.43"/><circle cx="1593.61" cy="989.47" r="0.87" fill-opacity="0.58"/><circle cx="1558.15" cy="1060.34" r="0.69" fill-opacity="0.44"/><circle cx="1522.2" cy="1010.1" r="0.58" fill-opacity="0.62"/><circle cx="1581.53" cy="1044.12" r="0.92" fill-opacity="0.69"/><circle cx="1530.22" cy="1057.64" r="0.52" fill-opacity="0.68"/><circle cx="1568.56" cy="1028.12" r="0.88" fill-opacity="0.28"/><circle cx="1565.56" cy="1013.97" r="0.56" fill-opacity="0.38"/><circle cx="1597.48" cy="1037.26" r="0.67" fill-opacity="0.57"/><circle cx="1512.49" cy="1020.87" r="0.92" fill-opacity="0.29"/><circle cx="1609.85" cy="993.15" r="0.78" fill-opacity="0.46"/><circle cx="1580.25" cy="1045.31" r="0.61" fill-opacity="0.3"/><circle cx="1542.31" cy="998.29" r="0.88" fill-opacity="0.49"/><circle cx="1572.95" cy="1004.37" r="0.92" fill-opacity="0.45"/><circle cx="1547.71" cy="999.04" r="0.85" fill-opacity="0.4"/><circle cx="1558.15" cy="977.88" r="0.57" fill-opacity="0.35"/><circle cx="1565.59" cy="1011.68" r="0.82" fill-opacity="0.47"/><circle cx="1558.69" cy="988.28" r="0.74" fill-opacity="0.44"/><circle cx="1565.43" cy="1003.91" r="0.76" fill-opacity="0.33"/><circle cx="1542.21" cy="1003.86" r="0.6" fill-opacity="0.32"/><circle cx="1591.21" cy="998.51" r="0.94" fill-opacity="0.57"/><circle cx="1560.74" cy="1058.42" r="0.5" fill-opacity="0.67"/><circle cx="1553.17" cy="1005.22" r="0.76" fill-opacity="0.45"/><circle cx="1551.62" cy="992.98" r="0.95" fill-opacity="0.51"/><circle cx="1609.36" cy="1040.05" r="0.94" fill-opacity="0.35"/><circle cx="1553.47" cy="969.88" r="0.94" fill-opacity="0.24"/><circle cx="1579.47" cy="995.5" r="0.9" fill-opacity="0.54"/><circle cx="1515.4" cy="1029.48" r="0.9" fill-opacity="0.7"/><circle cx="1605.02" cy="1008.01" r="0.87" fill-opacity="0.54"/><circle cx="1534.61" cy="1040.88" r="0.75" fill-opacity="0.31"/><circle cx="1562.05" cy="1068.01" r="0.92" fill-opacity="0.55"/><circle cx="1550.98" cy="982.77" r="0.79" fill-opacity="0.53"/><circle cx="1601.44" cy="1020.16" r="0.98" fill-opacity="0.3"/><circle cx="1550.78" cy="1021.55" r="0.63" fill-opacity="0.61"/><circle cx="1612.75" cy="1028.36" r="0.9" fill-opacity="0.63"/><circle cx="1563.17" cy="1070.57" r="0.69" fill-opacity="0.43"/><circle cx="1603.46" cy="1006.36" r="0.84" fill-opacity="0.26"/><circle cx="1593.27" cy="1019.33" r="0.55" fill-opacity="0.61"/><circle cx="1565.6" cy="1071.35" r="0.84" fill-opacity="0.3"/><circle cx="1558.06" cy="988.97" r="0.76" fill-opacity="0.24"/><circle cx="1589.32" cy="976.92" r="0.79" fill-opacity="0.55"/><circle cx="1555.17" cy="1034.8" r="0.66" fill-opacity="0.57"/><circle cx="1547.22" cy="1010.85" r="0.62" fill-opacity="0.44"/><circle cx="1576.88" cy="1019.53" r="0.72" fill-opacity="0.27"/><circle cx="1580.34" cy="1006.05" r="0.87" fill-opacity="0.6"/><circle cx="1549.61" cy="1054.95" r="1" fill-opacity="0.51"/><circle cx="1525.01" cy="1053.24" r="0.63" fill-opacity="0.68"/><circle cx="1552.6" cy="1051.11" r="0.66" fill-opacity="0.53"/><circle cx="1598.64" cy="988.3" r="0.59" fill-opacity="0.7"/><circle cx="1558.95" cy="980.63" r="0.92" fill-opacity="0.25"/><circle cx="1526.43" cy="990.83" r="0.89" fill-opacity="0.54"/><circle cx="1600" cy="1032.81" r="0.63" fill-opacity="0.5"/><circle cx="1536.42" cy="1040.5" r="0.77" fill-opacity="0.49"/><circle cx="1587.64" cy="1000.26" r="0.64" fill-opacity="0.29"/><circle cx="1603.34" cy="1050.83" r="0.96" fill-opacity="0.26"/><circle cx="1532.7" cy="1058.02" r="0.93" fill-opacity="0.69"/><circle cx="1595.23" cy="1017.1" r="0.53" fill-opacity="0.32"/><circle cx="1558.82" cy="1018.4" r="0.63" fill-opacity="0.44"/><circle cx="1556.66" cy="999.19" r="0.56" fill-opacity="0.37"/><circle cx="1581.39" cy="1028.71" r="0.55" fill-opacity="0.6"/><circle cx="1573.6" cy="1010.82" r="0.9" fill-opacity="0.62"/><circle cx="1548.26" cy="994.47" r="0.91" fill-opacity="0.24"/><circle cx="1616.03" cy="1033.72" r="0.61" fill-opacity="0.66"/><circle cx="1565.8" cy="1006.81" r="0.55" fill-opacity="0.52"/><circle cx="1592.3" cy="1053.5" r="0.84" fill-opacity="0.32"/><circle cx="1540.9" cy="1022.15" r="0.94" fill-opacity="0.52"/><circle cx="1550.09" cy="978.81" r="0.53" fill-opacity="0.64"/><circle cx="1572.61" cy="980.4" r="0.8" fill-opacity="0.45"/><circle cx="1567.6" cy="956.98" r="0.6" fill-opacity="0.44"/><circle cx="1503.88" cy="1012.18" r="0.6" fill-opacity="0.3"/><circle cx="1504.87" cy="1010.53" r="0.6" fill-opacity="0.66"/><circle cx="1581.13" cy="1078.07" r="0.6" fill-opacity="0.59"/><circle cx="1511.36" cy="989.01" r="0.6" fill-opacity="0.55"/><circle cx="1542.38" cy="961.9" r="0.6" fill-opacity="0.56"/><circle cx="1578.56" cy="958.52" r="0.6" fill-opacity="0.36"/><circle cx="1561.98" cy="1080.22" r="0.6" fill-opacity="0.48"/><circle cx="1503.75" cy="1021.94" r="0.6" fill-opacity="0.8"/><circle cx="1559.33" cy="957.05" r="0.6" fill-opacity="0.65"/><circle cx="1620.68" cy="990.21" r="0.6" fill-opacity="0.61"/><circle cx="1625.19" cy="1002.68" r="0.6" fill-opacity="0.74"/><circle cx="1585.97" cy="960.17" r="0.6" fill-opacity="0.37"/><circle cx="1586.91" cy="960.63" r="0.6" fill-opacity="0.48"/><circle cx="1505.75" cy="1032.33" r="0.6" fill-opacity="0.75"/><circle cx="1618.55" cy="987.82" r="0.6" fill-opacity="0.39"/><circle cx="1523.14" cy="1064.04" r="0.6" fill-opacity="0.4"/><circle cx="1532.2" cy="1070.79" r="0.6" fill-opacity="0.54"/><circle cx="1607.03" cy="1063.75" r="0.6" fill-opacity="0.51"/><circle cx="1566.67" cy="1079.87" r="0.6" fill-opacity="0.46"/><circle cx="1626.01" cy="1027.64" r="0.6" fill-opacity="0.68"/><circle cx="1610.12" cy="975.67" r="0.6" fill-opacity="0.43"/><circle cx="1545" cy="959.96" r="0.6" fill-opacity="0.78"/><circle cx="1530.36" cy="967.98" r="0.6" fill-opacity="0.33"/><circle cx="1552.69" cy="1078.85" r="0.6" fill-opacity="0.79"/><circle cx="1603.24" cy="1067.05" r="0.6" fill-opacity="0.34"/><circle cx="1625.81" cy="1007.48" r="0.6" fill-opacity="0.71"/><circle cx="1565.2" cy="956.52" r="0.6" fill-opacity="0.42"/><circle cx="1625.17" cy="1033.54" r="0.6" fill-opacity="0.34"/><circle cx="1588.92" cy="1075.9" r="0.6" fill-opacity="0.76"/></g>
<text x="1547.95" y="940.1" font-size="21.3" fill="#000" style="stroke-width:0.12px">1:100</text>
<circle cx="1704" cy="1018.5" r="62.8" fill="#b4b3ad"/>
<g fill="#5050b0"><circle cx="1711.11" cy="990.52" r="0.99" fill-opacity="0.28"/><circle cx="1725.17" cy="1044.26" r="0.9" fill-opacity="0.25"/><circle cx="1713.63" cy="979.84" r="0.9" fill-opacity="0.37"/><circle cx="1720.4" cy="1022.94" r="0.86" fill-opacity="0.45"/><circle cx="1706.08" cy="994.51" r="0.64" fill-opacity="0.31"/><circle cx="1730.8" cy="981.99" r="0.58" fill-opacity="0.56"/><circle cx="1739.8" cy="1027.39" r="0.63" fill-opacity="0.58"/><circle cx="1695.27" cy="974.7" r="0.6" fill-opacity="0.22"/><circle cx="1675.32" cy="983.81" r="0.5" fill-opacity="0.62"/><circle cx="1729.94" cy="998.98" r="0.76" fill-opacity="0.53"/><circle cx="1742.88" cy="998.92" r="0.76" fill-opacity="0.58"/><circle cx="1694.23" cy="1019.12" r="0.77" fill-opacity="0.41"/><circle cx="1686.71" cy="1047.67" r="0.61" fill-opacity="0.36"/><circle cx="1703.07" cy="967.69" r="0.73" fill-opacity="0.62"/><circle cx="1731.34" cy="1046.01" r="0.87" fill-opacity="0.59"/><circle cx="1687.19" cy="1032.9" r="0.98" fill-opacity="0.5"/><circle cx="1685.84" cy="992.44" r="0.56" fill-opacity="0.49"/><circle cx="1661.92" cy="1047.22" r="0.83" fill-opacity="0.58"/><circle cx="1661.56" cy="998.62" r="0.57" fill-opacity="0.7"/><circle cx="1667.51" cy="998.22" r="0.59" fill-opacity="0.25"/><circle cx="1691.24" cy="974.28" r="0.83" fill-opacity="0.33"/><circle cx="1656.83" cy="1022.41" r="0.82" fill-opacity="0.65"/><circle cx="1744.26" cy="1043.79" r="0.51" fill-opacity="0.51"/><circle cx="1689.64" cy="1015.37" r="0.71" fill-opacity="0.53"/><circle cx="1714.08" cy="1007.4" r="0.75" fill-opacity="0.6"/><circle cx="1741.88" cy="1052.68" r="0.97" fill-opacity="0.37"/><circle cx="1709.26" cy="1038.41" r="0.61" fill-opacity="0.41"/><circle cx="1690.08" cy="968.11" r="0.78" fill-opacity="0.68"/><circle cx="1664.75" cy="1037.93" r="0.5" fill-opacity="0.41"/><circle cx="1723.43" cy="1021.3" r="0.9" fill-opacity="0.26"/><circle cx="1691.96" cy="1055.77" r="0.76" fill-opacity="0.22"/><circle cx="1738.15" cy="1046.92" r="0.7" fill-opacity="0.25"/><circle cx="1671.34" cy="1022.92" r="1" fill-opacity="0.22"/><circle cx="1710.27" cy="1031.86" r="0.78" fill-opacity="0.68"/><circle cx="1707.12" cy="1000.69" r="0.77" fill-opacity="0.38"/><circle cx="1748.95" cy="1012.05" r="0.8" fill-opacity="0.33"/><circle cx="1667.87" cy="1033.69" r="0.69" fill-opacity="0.48"/><circle cx="1733.57" cy="1037.28" r="0.99" fill-opacity="0.4"/><circle cx="1657.15" cy="1016.75" r="0.91" fill-opacity="0.57"/><circle cx="1670.54" cy="1049.43" r="0.6" fill-opacity="0.51"/><circle cx="1727.58" cy="1020.87" r="0.59" fill-opacity="0.38"/><circle cx="1703.42" cy="1010.73" r="0.94" fill-opacity="0.25"/><circle cx="1754.08" cy="1002.37" r="0.81" fill-opacity="0.62"/><circle cx="1737.68" cy="1005.38" r="0.93" fill-opacity="0.22"/><circle cx="1712.37" cy="975.83" r="0.89" fill-opacity="0.27"/><circle cx="1737.83" cy="1038.03" r="0.8" fill-opacity="0.54"/><circle cx="1721.53" cy="1055.23" r="0.98" fill-opacity="0.33"/><circle cx="1726.46" cy="970.56" r="0.84" fill-opacity="0.42"/><circle cx="1671.83" cy="1036.64" r="0.56" fill-opacity="0.24"/><circle cx="1699.82" cy="1040.61" r="0.95" fill-opacity="0.38"/><circle cx="1732.74" cy="989.93" r="0.95" fill-opacity="0.65"/><circle cx="1695.28" cy="983.4" r="0.62" fill-opacity="0.48"/><circle cx="1685.41" cy="1064.01" r="0.52" fill-opacity="0.52"/><circle cx="1685.42" cy="1048.17" r="0.77" fill-opacity="0.69"/><circle cx="1736.25" cy="1017.18" r="0.98" fill-opacity="0.68"/><circle cx="1664" cy="1011.88" r="0.6" fill-opacity="0.59"/><circle cx="1657.05" cy="1022.81" r="0.96" fill-opacity="0.51"/><circle cx="1690.46" cy="980.85" r="0.57" fill-opacity="0.43"/><circle cx="1725.21" cy="1027.28" r="0.99" fill-opacity="0.39"/><circle cx="1727.54" cy="1045.24" r="0.53" fill-opacity="0.5"/><circle cx="1707.42" cy="1043.45" r="0.82" fill-opacity="0.66"/><circle cx="1749.5" cy="1022.4" r="0.79" fill-opacity="0.44"/><circle cx="1698.99" cy="1021.2" r="0.68" fill-opacity="0.46"/><circle cx="1676.46" cy="1064.77" r="0.67" fill-opacity="0.62"/><circle cx="1721.89" cy="973.81" r="0.75" fill-opacity="0.45"/><circle cx="1714.27" cy="1003.09" r="0.61" fill-opacity="0.21"/><circle cx="1667.69" cy="1020.47" r="0.98" fill-opacity="0.67"/><circle cx="1672.42" cy="1039.7" r="0.55" fill-opacity="0.58"/><circle cx="1682.04" cy="1015.85" r="0.94" fill-opacity="0.22"/><circle cx="1717.18" cy="1053.4" r="1" fill-opacity="0.27"/><circle cx="1699.02" cy="1066.28" r="0.67" fill-opacity="0.66"/><circle cx="1730.16" cy="1021.61" r="0.65" fill-opacity="0.62"/><circle cx="1739.51" cy="1045.05" r="0.94" fill-opacity="0.69"/><circle cx="1708.19" cy="1007.1" r="0.74" fill-opacity="0.31"/><circle cx="1723.19" cy="1036.96" r="0.87" fill-opacity="0.49"/><circle cx="1723.7" cy="1039.6" r="0.53" fill-opacity="0.66"/><circle cx="1704.97" cy="981.39" r="0.98" fill-opacity="0.69"/><circle cx="1711.32" cy="1044.73" r="0.6" fill-opacity="0.51"/><circle cx="1671.84" cy="996.65" r="0.89" fill-opacity="0.46"/><circle cx="1686.54" cy="1059.06" r="0.97" fill-opacity="0.22"/><circle cx="1683.9" cy="1020.25" r="0.87" fill-opacity="0.42"/><circle cx="1727.41" cy="981.02" r="0.98" fill-opacity="0.49"/><circle cx="1660.03" cy="988.35" r="0.9" fill-opacity="0.37"/><circle cx="1745.27" cy="1049.88" r="0.53" fill-opacity="0.66"/><circle cx="1744.13" cy="1000.64" r="0.97" fill-opacity="0.5"/><circle cx="1702.91" cy="976.82" r="0.61" fill-opacity="0.24"/><circle cx="1702.42" cy="982.25" r="0.56" fill-opacity="0.48"/><circle cx="1701.4" cy="1046.04" r="0.94" fill-opacity="0.51"/><circle cx="1703.44" cy="969.69" r="0.72" fill-opacity="0.43"/><circle cx="1674.61" cy="1031.86" r="0.89" fill-opacity="0.64"/><circle cx="1690.47" cy="1061.99" r="0.61" fill-opacity="0.2"/><circle cx="1685.15" cy="974.81" r="0.66" fill-opacity="0.7"/><circle cx="1698.09" cy="988.48" r="0.88" fill-opacity="0.62"/><circle cx="1736.8" cy="1058.29" r="0.72" fill-opacity="0.34"/><circle cx="1675.77" cy="1045.79" r="0.76" fill-opacity="0.35"/><circle cx="1743.87" cy="1034.32" r="0.86" fill-opacity="0.55"/><circle cx="1664.19" cy="1048.78" r="0.51" fill-opacity="0.26"/><circle cx="1743.95" cy="1023.12" r="0.76" fill-opacity="0.31"/><circle cx="1700.81" cy="1017.98" r="0.52" fill-opacity="0.68"/><circle cx="1714.71" cy="1009.14" r="0.83" fill-opacity="0.45"/><circle cx="1655.92" cy="1006.66" r="0.82" fill-opacity="0.67"/><circle cx="1682.5" cy="971.52" r="0.56" fill-opacity="0.61"/><circle cx="1682.06" cy="1065.45" r="0.9" fill-opacity="0.68"/><circle cx="1705.12" cy="984.75" r="0.76" fill-opacity="0.59"/><circle cx="1741.06" cy="1032.63" r="0.78" fill-opacity="0.56"/><circle cx="1681.01" cy="1053.7" r="0.87" fill-opacity="0.39"/><circle cx="1682.62" cy="971.83" r="0.68" fill-opacity="0.46"/><circle cx="1654.79" cy="1023.48" r="0.63" fill-opacity="0.34"/><circle cx="1669.95" cy="1045.77" r="0.58" fill-opacity="0.69"/><circle cx="1657.85" cy="1017.62" r="0.71" fill-opacity="0.21"/><circle cx="1657.71" cy="1059.01" r="0.6" fill-opacity="0.35"/><circle cx="1765.01" cy="1010.8" r="0.6" fill-opacity="0.53"/><circle cx="1764.89" cy="1029.64" r="0.6" fill-opacity="0.47"/><circle cx="1667.43" cy="968.45" r="0.6" fill-opacity="0.54"/><circle cx="1696.02" cy="1079.5" r="0.6" fill-opacity="0.64"/><circle cx="1643.09" cy="1011.63" r="0.6" fill-opacity="0.61"/><circle cx="1757.13" cy="1049.3" r="0.6" fill-opacity="0.54"/><circle cx="1707.48" cy="957.52" r="0.6" fill-opacity="0.48"/><circle cx="1740.41" cy="968.41" r="0.6" fill-opacity="0.63"/><circle cx="1765.17" cy="1020.62" r="0.6" fill-opacity="0.52"/><circle cx="1644.88" cy="1035.82" r="0.6" fill-opacity="0.49"/><circle cx="1711.69" cy="1079.39" r="0.6" fill-opacity="0.61"/><circle cx="1762.29" cy="1039.26" r="0.6" fill-opacity="0.77"/><circle cx="1691.32" cy="1079.03" r="0.6" fill-opacity="0.59"/><circle cx="1661.45" cy="1062.3" r="0.6" fill-opacity="0.79"/><circle cx="1746.65" cy="1063.41" r="0.6" fill-opacity="0.39"/><circle cx="1645.83" cy="1039.55" r="0.6" fill-opacity="0.64"/><circle cx="1750.73" cy="977.58" r="0.6" fill-opacity="0.31"/><circle cx="1751.11" cy="1058.54" r="0.6" fill-opacity="0.37"/><circle cx="1647.82" cy="1044.16" r="0.6" fill-opacity="0.66"/><circle cx="1763.72" cy="1005.93" r="0.6" fill-opacity="0.51"/><circle cx="1665.42" cy="969.91" r="0.6" fill-opacity="0.61"/><circle cx="1749.49" cy="977.66" r="0.6" fill-opacity="0.37"/><circle cx="1734.76" cy="1071.32" r="0.6" fill-opacity="0.65"/><circle cx="1708.85" cy="956.57" r="0.6" fill-opacity="0.61"/><circle cx="1764.68" cy="1027.28" r="0.6" fill-opacity="0.7"/><circle cx="1676.81" cy="1074.44" r="0.6" fill-opacity="0.67"/><circle cx="1765.45" cy="1017.86" r="0.6" fill-opacity="0.48"/><circle cx="1674.85" cy="1072.34" r="0.6" fill-opacity="0.78"/><circle cx="1663.03" cy="1064.95" r="0.6" fill-opacity="0.8"/><circle cx="1648.61" cy="1045.6" r="0.6" fill-opacity="0.46"/><circle cx="1694.39" cy="958.24" r="0.6" fill-opacity="0.53"/><circle cx="1741.84" cy="969.74" r="0.6" fill-opacity="0.51"/><circle cx="1723.65" cy="960.72" r="0.6" fill-opacity="0.68"/><circle cx="1686.83" cy="959.75" r="0.6" fill-opacity="0.76"/><circle cx="1762.94" cy="1000.72" r="0.6" fill-opacity="0.49"/><circle cx="1765.51" cy="1021.21" r="0.6" fill-opacity="0.48"/><circle cx="1765.01" cy="1018.63" r="0.6" fill-opacity="0.45"/><circle cx="1760.59" cy="992.73" r="0.6" fill-opacity="0.48"/><circle cx="1716.91" cy="958.48" r="0.6" fill-opacity="0.64"/></g>
<text x="1692.68" y="940.1" font-size="21.3" fill="#000" style="stroke-width:0.12px">1:50</text>
<ellipse cx="678.7" cy="1028.7" rx="11" ry="13.4" fill="none" stroke="#a6a5a2" stroke-width="0.7" opacity="0.7"/>
<ellipse cx="822" cy="1052" rx="6.7" ry="8.3" fill="none" stroke="#a6a5a2" stroke-width="0.7" opacity="0.7"/>
<ellipse cx="965" cy="1008" rx="9.3" ry="6.8" fill="none" stroke="#a6a5a2" stroke-width="0.7" opacity="0.7"/>
<ellipse cx="1114.8" cy="1015" rx="6.8" ry="6" fill="none" stroke="#a6a5a2" stroke-width="0.7" opacity="0.7"/>
<line x1="563.8" y1="955.9" x2="563.8" y2="1081.2" stroke="#d9d9d9" stroke-width="1.2"/>
<line x1="438.5" y1="1081.2" x2="563.8" y2="1081.2" stroke="#d9d9d9" stroke-width="1.2"/>
<line x1="632.2" y1="955.9" x2="757.5" y2="955.9" stroke="#d9d9d9" stroke-width="1.2"/>
<line x1="908.8" y1="955.9" x2="908.8" y2="1081.2" stroke="#d9d9d9" stroke-width="1.2"/>
<line x1="908.8" y1="955.9" x2="1034.1" y2="955.9" stroke="#d9d9d9" stroke-width="1.2"/>
<line x1="1047" y1="955.9" x2="1172.3" y2="955.9" stroke="#d9d9d9" stroke-width="1.2"/>
<line x1="1047" y1="1081.2" x2="1172.3" y2="1081.2" stroke="#d9d9d9" stroke-width="1.2"/>
<line x1="1226.2" y1="1081.2" x2="1352.2" y2="1081.2" stroke="#d9d9d9" stroke-width="1.2"/>
<line x1="1490.3" y1="955.9" x2="1490.3" y2="1081.2" stroke="#d9d9d9" stroke-width="1.2"/>
<line x1="1502.8" y1="955.9" x2="1502.8" y2="1081.2" stroke="#d9d9d9" stroke-width="1.2"/>
<line x1="1628.2" y1="955.9" x2="1628.2" y2="1081.2" stroke="#d9d9d9" stroke-width="1.2"/>
<line x1="1502.8" y1="955.9" x2="1628.2" y2="955.9" stroke="#d9d9d9" stroke-width="1.2"/>
</svg></body></html>
